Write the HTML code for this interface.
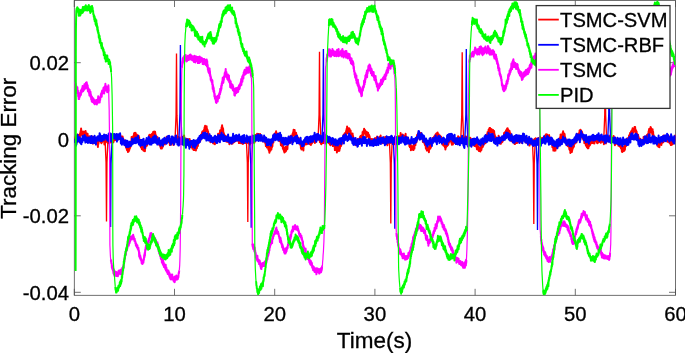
<!DOCTYPE html>
<html><head><meta charset="utf-8"><title>Tracking Error</title>
<style>html,body{margin:0;padding:0;background:#fff;overflow:hidden}svg{display:block}</style>
</head><body>
<svg width="685" height="353" viewBox="0 0 685 353">
<rect x="0" y="0" width="685" height="353" fill="#fff"/>
<defs><clipPath id="c"><rect x="74.3" y="0.5" width="601.2" height="294.8"/></clipPath></defs>
<g stroke="#4d4d4d" stroke-width="0.8" fill="none">
<rect x="74.3" y="0.5" width="601.2" height="294.8"/>
<line x1="74.3" y1="295.3" x2="74.3" y2="288.8"/>
<line x1="74.3" y1="0.5" x2="74.3" y2="7.0"/>
<line x1="174.5" y1="295.3" x2="174.5" y2="288.8"/>
<line x1="174.5" y1="0.5" x2="174.5" y2="7.0"/>
<line x1="274.7" y1="295.3" x2="274.7" y2="288.8"/>
<line x1="274.7" y1="0.5" x2="274.7" y2="7.0"/>
<line x1="374.9" y1="295.3" x2="374.9" y2="288.8"/>
<line x1="374.9" y1="0.5" x2="374.9" y2="7.0"/>
<line x1="475.1" y1="295.3" x2="475.1" y2="288.8"/>
<line x1="475.1" y1="0.5" x2="475.1" y2="7.0"/>
<line x1="575.3" y1="295.3" x2="575.3" y2="288.8"/>
<line x1="575.3" y1="0.5" x2="575.3" y2="7.0"/>
<line x1="675.5" y1="295.3" x2="675.5" y2="288.8"/>
<line x1="675.5" y1="0.5" x2="675.5" y2="7.0"/>
<line x1="74.3" y1="62.7" x2="80.8" y2="62.7"/>
<line x1="675.5" y1="62.7" x2="669.0" y2="62.7"/>
<line x1="74.3" y1="139.5" x2="80.8" y2="139.5"/>
<line x1="675.5" y1="139.5" x2="669.0" y2="139.5"/>
<line x1="74.3" y1="215.8" x2="80.8" y2="215.8"/>
<line x1="675.5" y1="215.8" x2="669.0" y2="215.8"/>
<line x1="74.3" y1="292.3" x2="80.8" y2="292.3"/>
<line x1="675.5" y1="292.3" x2="669.0" y2="292.3"/>
</g>
<g clip-path="url(#c)" fill="none" stroke-width="2.0" stroke-linejoin="round" stroke-linecap="butt">
<polyline stroke="#ff0000" points="74.9,142.2 75.1,137.3 75.4,142.4 75.6,136.6 75.9,141.9 76.1,137.0 76.4,139.4 76.6,137.1 76.9,140.4 77.1,135.5 77.4,140.8 77.6,134.6 77.9,140.8 78.1,138.5 78.4,141.6 78.6,135.2 78.9,139.5 79.1,137.4 79.4,139.9 79.6,135.1 79.9,138.6 80.1,133.3 80.4,135.2 80.6,131.0 80.9,133.2 81.1,128.5 81.4,132.8 81.6,131.5 81.9,133.6 82.1,132.0 82.4,135.6 82.6,133.2 82.9,136.0 83.1,131.6 83.4,135.9 83.6,132.0 83.9,134.6 84.1,132.1 84.4,137.0 84.6,131.7 84.9,137.4 85.1,132.9 85.4,137.6 85.6,131.1 85.9,136.7 86.1,133.2 86.4,137.7 86.6,134.3 86.9,136.8 87.1,133.8 87.4,140.3 87.6,133.7 87.9,138.9 88.1,137.6 88.4,140.4 88.6,138.9 88.9,140.5 89.1,138.6 89.4,142.2 89.6,136.3 89.9,140.4 90.1,136.6 90.4,140.2 90.6,138.9 90.9,142.9 91.1,139.7 91.4,140.9 91.6,138.2 91.9,143.1 92.1,136.5 92.4,141.1 92.6,138.0 92.9,143.6 93.1,139.8 93.4,141.0 93.6,137.1 93.9,141.7 94.1,138.7 94.4,142.8 94.6,137.5 94.9,142.3 95.1,138.6 95.4,141.1 95.6,138.2 95.9,139.7 96.1,137.7 96.4,140.6 96.6,139.5 96.9,143.4 97.1,140.4 97.4,143.7 97.6,141.7 97.9,147.0 98.1,140.6 98.4,143.9 98.6,140.1 98.9,141.7 99.1,138.8 99.4,139.3 99.6,137.8 99.9,140.8 100.1,137.7 100.4,141.4 100.6,138.0 100.9,142.1 101.1,139.3 101.4,143.2 101.6,138.9 101.9,142.5 102.1,138.6 102.4,141.4 102.6,138.0 102.9,140.8 103.1,138.8 103.4,140.8 103.6,138.2 103.9,141.1 104.1,138.1 104.4,144.4 104.6,139.4 104.9,144.0 105.1,140.5 105.4,142.4 105.6,137.1 105.9,140.5 106.1,136.9 106.4,139.0 106.6,135.5 106.9,141.3 107.1,137.0 107.4,142.1 107.6,139.4 107.9,143.3 108.1,138.2 108.4,141.9 108.6,140.0 108.9,141.4 109.1,138.4 109.4,140.6 109.6,137.4 109.9,142.8 110.1,138.7 110.4,141.5 110.6,139.6 110.9,141.8 111.1,139.9 111.4,141.4 111.6,137.9 111.9,141.2 112.1,137.2 112.4,142.2 112.6,139.2 112.9,142.4 113.1,140.0 113.4,142.3 113.6,138.3 113.9,140.6 114.1,136.0 114.4,140.3 114.6,137.0 114.9,139.9 115.1,137.5 115.4,140.0 115.6,136.2 115.9,138.1 116.1,136.1 116.4,138.6 116.6,134.6 116.9,138.3 117.1,135.7 117.4,138.9 117.6,135.7 117.9,139.2 118.1,135.7 118.4,139.2 118.6,136.2 118.9,138.2 119.1,134.8 119.4,138.9 119.6,134.4 119.9,138.0 120.1,134.1 120.4,138.8 120.6,136.6 120.9,139.8 121.1,137.0 121.4,140.8 121.6,136.5 121.9,139.5 122.1,137.3 122.4,140.4 122.6,136.5 122.9,142.0 123.1,138.4 123.4,142.4 123.6,139.4 123.9,143.5 124.1,140.2 124.4,142.9 124.6,141.4 124.9,144.0 125.1,141.1 125.4,145.8 125.6,142.6 125.9,146.9 126.1,143.0 126.4,148.2 126.6,146.7 126.9,149.9 127.1,146.5 127.4,149.8 127.6,147.4 127.9,152.0 128.1,148.7 128.4,151.6 128.6,149.2 128.9,150.9 129.1,147.5 129.4,149.8 129.6,146.2 129.9,148.3 130.1,144.8 130.4,147.0 130.6,142.9 130.9,145.7 131.1,141.3 131.4,144.1 131.6,136.9 131.9,140.4 132.1,137.5 132.4,140.3 132.6,137.6 132.9,138.8 133.1,136.6 133.4,138.8 133.6,135.5 133.9,137.8 134.1,133.2 134.4,135.9 134.6,133.2 134.9,136.5 135.1,132.7 135.4,135.7 135.6,132.9 135.9,137.3 136.1,134.2 136.4,136.0 136.6,134.5 136.9,138.0 137.1,135.0 137.4,137.0 137.6,135.6 137.9,139.4 138.1,136.9 138.4,139.6 138.6,135.8 138.9,140.0 139.1,137.2 139.4,141.1 139.6,139.5 139.9,143.6 140.1,140.4 140.4,143.9 140.6,143.1 140.9,147.3 141.1,144.9 141.4,147.9 141.6,143.3 141.9,149.3 142.1,145.0 142.4,149.4 142.6,147.7 142.9,149.4 143.1,148.2 143.4,150.4 143.6,148.1 143.9,150.8 144.1,146.7 144.4,150.5 144.6,145.2 144.9,151.3 145.1,146.4 145.4,148.1 145.6,145.3 145.9,146.4 146.1,144.1 146.4,145.1 146.6,140.1 146.9,145.8 147.1,140.0 147.4,144.6 147.6,140.1 147.9,143.0 148.1,139.6 148.4,141.7 148.6,138.9 148.9,140.5 149.1,135.3 149.4,140.3 149.6,134.8 149.9,139.0 150.1,136.4 150.4,140.9 150.6,136.7 150.9,137.7 151.1,134.8 151.4,138.0 151.6,134.3 151.9,137.9 152.1,133.8 152.4,137.6 152.6,134.6 152.9,137.2 153.1,132.1 153.4,135.3 153.6,132.8 153.9,135.4 154.1,131.6 154.4,133.3 154.6,131.7 154.9,136.1 155.1,131.8 155.4,135.4 155.6,134.5 155.9,138.6 156.1,136.0 156.4,138.9 156.6,136.5 156.9,139.8 157.1,137.1 157.4,140.8 157.6,137.2 157.9,142.2 158.1,140.2 158.4,142.8 158.6,139.8 158.9,143.7 159.1,141.7 159.4,145.1 159.6,142.2 159.9,144.9 160.1,141.8 160.4,147.0 160.6,142.5 160.9,148.5 161.1,144.5 161.4,148.2 161.6,145.9 161.9,148.4 162.1,145.0 162.4,147.5 162.6,143.3 162.9,146.4 163.1,140.6 163.4,144.2 163.6,141.9 163.9,144.3 164.1,140.9 164.4,142.4 164.6,139.8 164.9,144.5 165.1,139.8 165.4,141.9 165.6,139.5 165.9,141.9 166.1,138.2 166.4,141.1 166.6,136.8 166.9,142.0 167.1,137.5 167.4,141.5 167.6,138.3 167.9,141.5 168.1,139.4 168.4,141.2 168.6,139.9 168.9,142.2 169.1,140.1 169.4,142.9 169.6,140.5 169.9,145.1 170.1,140.5 170.4,144.5 170.6,140.5 170.9,144.6 171.1,140.6 171.4,143.3 171.6,139.3 171.9,143.2 172.1,139.9 172.4,142.3 172.6,138.5 172.9,142.2 173.1,140.3 173.4,145.0 173.6,140.4 173.9,144.6 174.1,139.1 174.4,141.9 174.6,138.4 174.9,141.0 175.1,137.8 175.4,141.6 175.6,137.1 175.9,141.5 176.1,137.0 176.4,139.6 176.6,138.1 176.9,139.9 177.1,137.3 177.4,140.0 177.6,137.4 177.9,139.9 178.1,137.0 178.4,140.1 178.6,136.9 178.9,140.6 179.1,138.0 179.4,140.6 179.6,138.0 179.9,141.2 180.1,139.2 180.4,141.2 180.6,138.2 180.9,143.0 181.1,138.4 181.4,141.3 181.6,136.6 181.9,140.7 182.1,136.7 182.4,140.7 182.6,138.9 182.9,141.0 183.1,138.5 183.4,140.3 183.6,136.7 183.9,139.1 184.1,135.6 184.4,140.0 184.6,139.1 184.9,143.9 185.1,140.0 185.4,145.7 185.6,139.9 185.9,144.3 186.1,139.7 186.4,144.2 186.6,138.8 186.9,142.1 187.1,139.8 187.4,143.0 187.6,140.0 187.9,143.3 188.1,139.3 188.4,142.5 188.6,140.1 188.9,144.8 189.1,141.5 189.4,143.5 189.6,139.1 189.9,146.2 190.1,140.5 190.4,145.0 190.6,142.0 190.9,147.0 191.1,143.4 191.4,146.4 191.6,143.6 191.9,147.3 192.1,143.8 192.4,148.6 192.6,145.3 192.9,148.5 193.1,147.4 193.4,149.7 193.6,147.6 193.9,150.1 194.1,147.1 194.4,149.4 194.6,147.1 194.9,150.0 195.1,146.1 195.4,148.5 195.6,145.8 195.9,150.5 196.1,146.4 196.4,148.8 196.6,145.6 196.9,148.1 197.1,145.0 197.4,146.0 197.6,141.5 197.9,145.9 198.1,140.9 198.4,143.2 198.6,140.2 198.9,142.8 199.1,139.5 199.4,142.0 199.6,138.1 199.9,141.5 200.1,137.7 200.4,140.8 200.6,135.6 200.9,139.0 201.1,134.5 201.4,137.6 201.6,134.4 201.9,135.5 202.1,132.0 202.4,135.0 202.6,131.3 202.9,134.9 203.1,132.2 203.4,136.3 203.6,131.9 203.9,131.8 204.1,129.6 204.4,131.0 204.6,127.3 204.9,131.4 205.1,125.8 205.4,130.6 205.6,128.3 205.9,131.4 206.1,128.2 206.4,131.1 206.6,126.2 206.9,131.5 207.1,129.0 207.4,131.6 207.6,130.1 207.9,134.1 208.1,131.6 208.4,138.5 208.6,133.6 208.9,137.8 209.1,135.7 209.4,138.4 209.6,135.7 209.9,138.5 210.1,135.8 210.4,142.3 210.6,137.2 210.9,139.9 211.1,137.6 211.4,140.9 211.6,137.5 211.9,140.0 212.1,138.7 212.4,141.4 212.6,139.0 212.9,142.8 213.1,140.0 213.4,143.4 213.6,139.5 213.9,142.0 214.1,139.5 214.4,142.6 214.6,140.7 214.9,144.2 215.1,139.7 215.4,143.0 215.6,137.3 215.9,142.1 216.1,136.8 216.4,141.7 216.6,138.9 216.9,141.9 217.1,137.2 217.4,139.5 217.6,137.2 217.9,138.1 218.1,133.7 218.4,138.1 218.6,135.0 218.9,137.5 219.1,134.8 219.4,137.8 219.6,133.3 219.9,135.3 220.1,130.4 220.4,134.2 220.6,130.1 220.9,133.0 221.1,130.5 221.4,132.0 221.6,127.3 221.9,131.2 222.1,125.2 222.4,130.5 222.6,127.4 222.9,131.5 223.1,128.7 223.4,134.5 223.6,132.5 223.9,137.0 224.1,134.0 224.4,138.6 224.6,136.4 224.9,139.2 225.1,136.4 225.4,140.1 225.6,135.8 225.9,139.9 226.1,138.2 226.4,141.6 226.6,137.4 226.9,141.8 227.1,139.0 227.4,141.8 227.6,138.5 227.9,140.3 228.1,139.1 228.4,141.9 228.6,139.7 228.9,142.2 229.1,138.4 229.4,144.2 229.6,141.1 229.9,142.4 230.1,139.9 230.4,141.0 230.6,139.3 230.9,142.9 231.1,138.2 231.4,141.9 231.6,139.7 231.9,143.7 232.1,141.0 232.4,143.6 232.6,141.2 232.9,142.1 233.1,140.2 233.4,142.4 233.6,137.7 233.9,142.3 234.1,137.1 234.4,140.6 234.6,137.8 234.9,141.5 235.1,137.0 235.4,139.8 235.6,138.5 235.9,141.0 236.1,138.0 236.4,139.7 236.6,136.1 236.9,140.3 237.1,136.4 237.4,138.5 237.6,136.8 237.9,140.6 238.1,136.5 238.4,140.8 238.6,138.3 238.9,143.1 239.1,138.4 239.4,142.9 239.6,139.3 239.9,142.9 240.1,138.6 240.4,142.2 240.6,140.6 240.9,143.0 241.1,139.7 241.4,143.3 241.6,140.8 241.9,143.3 242.1,141.1 242.4,142.8 242.6,140.5 242.9,144.0 243.1,140.1 243.4,142.9 243.6,137.1 243.9,141.5 244.1,139.1 244.4,142.2 244.6,139.3 244.9,143.0 245.1,139.1 245.4,142.9 245.6,140.1 245.9,142.1 246.1,138.4 246.4,141.6 246.6,138.2 246.9,142.5 247.1,138.8 247.4,141.6 247.6,140.4 247.9,142.6 248.1,139.3 248.4,143.2 248.6,140.2 248.9,142.9 249.1,138.5 249.4,143.9 249.6,140.6 249.9,144.6 250.1,138.4 250.4,141.3 250.6,139.4 250.9,142.9 251.1,137.3 251.4,141.4 251.6,139.5 251.9,142.5 252.1,138.7 252.4,142.8 252.6,139.2 252.9,142.4 253.1,138.5 253.4,140.6 253.6,136.7 253.9,139.8 254.1,135.9 254.4,142.7 254.6,136.9 254.9,141.6 255.1,135.1 255.4,139.4 255.6,136.8 255.9,138.7 256.1,135.0 256.4,139.8 256.6,134.5 256.9,137.8 257.1,133.7 257.4,137.8 257.6,135.0 257.9,136.2 258.1,134.0 258.4,137.4 258.6,133.9 258.9,138.0 259.1,134.8 259.4,139.3 259.6,134.2 259.9,138.1 260.1,133.9 260.4,137.9 260.6,135.9 260.9,138.9 261.1,135.8 261.4,139.6 261.6,136.2 261.9,138.9 262.1,138.1 262.4,140.4 262.6,138.5 262.9,141.5 263.1,138.1 263.4,140.9 263.6,138.7 263.9,141.4 264.1,137.6 264.4,140.7 264.6,138.4 264.9,141.3 265.1,138.3 265.4,143.7 265.6,141.1 265.9,146.1 266.1,141.7 266.4,145.1 266.6,143.4 266.9,147.5 267.1,143.1 267.4,145.5 267.6,143.9 267.9,146.9 268.1,144.6 268.4,149.4 268.6,146.9 268.9,150.7 269.1,148.6 269.4,152.7 269.6,148.6 269.9,150.5 270.1,146.4 270.4,150.7 270.6,146.8 270.9,149.2 271.1,146.2 271.4,149.5 271.6,146.2 271.9,147.5 272.1,144.6 272.4,146.2 272.6,142.0 272.9,142.4 273.1,137.8 273.4,142.5 273.6,135.4 273.9,138.7 274.1,134.2 274.4,136.1 274.6,134.4 274.9,136.8 275.1,133.2 275.4,136.3 275.6,133.5 275.9,136.3 276.1,131.3 276.4,136.1 276.6,134.8 276.9,137.1 277.1,134.5 277.4,137.8 277.6,133.7 277.9,138.2 278.1,133.4 278.4,137.9 278.6,136.3 278.9,140.6 279.1,137.7 279.4,140.9 279.6,138.7 279.9,140.9 280.1,139.2 280.4,141.5 280.6,138.9 280.9,145.2 281.1,139.6 281.4,143.7 281.6,142.5 281.9,146.0 282.1,142.1 282.4,145.4 282.6,143.3 282.9,148.8 283.1,146.2 283.4,149.3 283.6,147.7 283.9,150.8 284.1,148.6 284.4,152.4 284.6,148.1 284.9,150.9 285.1,148.7 285.4,151.8 285.6,146.7 285.9,151.1 286.1,148.9 286.4,150.2 286.6,147.5 286.9,149.3 287.1,147.1 287.4,149.0 287.6,144.3 287.9,144.5 288.1,140.3 288.4,144.2 288.6,141.4 288.9,142.5 289.1,139.3 289.4,141.6 289.6,139.5 289.9,141.3 290.1,138.5 290.4,140.7 290.6,135.8 290.9,142.6 291.1,138.0 291.4,140.0 291.6,136.2 291.9,140.2 292.1,135.3 292.4,139.1 292.6,133.7 292.9,134.9 293.1,132.3 293.4,133.0 293.6,129.7 293.9,132.4 294.1,130.2 294.4,135.7 294.6,129.9 294.9,134.9 295.1,133.0 295.4,135.6 295.6,132.4 295.9,135.4 296.1,132.7 296.4,138.3 296.6,134.8 296.9,138.6 297.1,136.8 297.4,140.5 297.6,137.0 297.9,140.2 298.1,138.3 298.4,141.3 298.6,138.0 298.9,142.7 299.1,140.7 299.4,143.7 299.6,140.4 299.9,143.6 300.1,142.5 300.4,145.2 300.6,143.8 300.9,148.3 301.1,143.2 301.4,149.5 301.6,145.8 301.9,149.1 302.1,143.4 302.4,147.2 302.6,144.5 302.9,148.7 303.1,143.4 303.4,150.5 303.6,143.2 303.9,146.2 304.1,143.6 304.4,144.4 304.6,139.8 304.9,142.7 305.1,139.6 305.4,144.6 305.6,139.3 305.9,141.8 306.1,141.0 306.4,142.7 306.6,139.0 306.9,144.2 307.1,139.4 307.4,143.8 307.6,139.2 307.9,140.9 308.1,139.1 308.4,141.6 308.6,139.7 308.9,142.3 309.1,138.6 309.4,141.8 309.6,139.5 309.9,144.2 310.1,139.0 310.4,144.4 310.6,141.5 310.9,145.0 311.1,142.6 311.4,143.9 311.6,142.0 311.9,143.4 312.1,140.4 312.4,141.7 312.6,138.3 312.9,141.2 313.1,138.8 313.4,140.9 313.6,137.5 313.9,141.7 314.1,139.1 314.4,142.0 314.6,138.4 314.9,143.0 315.1,139.0 315.4,140.6 315.6,137.9 315.9,141.7 316.1,138.1 316.4,139.8 316.6,137.1 316.9,140.0 317.1,136.6 317.4,138.6 317.6,134.6 317.9,138.9 318.1,135.8 318.4,139.5 318.6,136.7 318.9,139.5 319.1,137.2 319.4,139.3 319.6,137.9 319.9,142.1 320.1,138.6 320.4,140.9 320.6,136.7 320.9,143.7 321.1,139.9 321.4,144.3 321.6,137.8 321.9,143.3 322.1,140.4 322.4,142.8 322.6,138.7 322.9,142.3 323.1,138.4 323.4,143.1 323.6,136.2 323.9,139.4 324.1,137.2 324.4,141.0 324.6,137.1 324.9,141.2 325.1,137.7 325.4,141.8 325.6,138.0 325.9,140.8 326.1,139.7 326.4,141.7 326.6,138.3 326.9,139.8 327.1,138.2 327.4,142.0 327.6,139.2 327.9,141.5 328.1,139.8 328.4,142.6 328.6,141.2 328.9,143.2 329.1,140.5 329.4,142.8 329.6,141.6 329.9,144.4 330.1,141.2 330.4,145.2 330.6,139.9 330.9,144.8 331.1,140.5 331.4,144.2 331.6,141.3 331.9,143.6 332.1,141.5 332.4,144.7 332.6,140.9 332.9,146.1 333.1,143.0 333.4,144.4 333.6,142.4 333.9,146.0 334.1,143.2 334.4,146.3 334.6,144.6 334.9,150.1 335.1,146.9 335.4,149.9 335.6,147.8 335.9,149.6 336.1,145.7 336.4,149.7 336.6,146.1 336.9,152.5 337.1,146.5 337.4,150.6 337.6,148.8 337.9,150.7 338.1,146.7 338.4,149.6 338.6,147.7 338.9,151.0 339.1,146.1 339.4,150.8 339.6,146.7 339.9,148.7 340.1,144.3 340.4,146.2 340.6,142.3 340.9,146.2 341.1,141.5 341.4,144.9 341.6,139.3 341.9,143.7 342.1,139.9 342.4,141.5 342.6,139.0 342.9,142.0 343.1,137.4 343.4,139.5 343.6,134.8 343.9,137.8 344.1,134.5 344.4,137.4 344.6,133.6 344.9,135.9 345.1,132.9 345.4,135.4 345.6,132.8 345.9,136.1 346.1,131.0 346.4,132.9 346.6,128.9 346.9,133.0 347.1,126.6 347.4,129.5 347.6,127.8 347.9,133.5 348.1,128.2 348.4,131.2 348.6,128.6 348.9,131.5 349.1,128.2 349.4,131.4 349.6,129.0 349.9,131.3 350.1,130.3 350.4,134.3 350.6,130.4 350.9,135.1 351.1,133.6 351.4,137.9 351.6,134.8 351.9,137.5 352.1,135.7 352.4,140.2 352.6,133.5 352.9,138.7 353.1,136.1 353.4,140.2 353.6,138.4 353.9,141.6 354.1,139.6 354.4,142.0 354.6,138.8 354.9,142.2 355.1,140.5 355.4,141.2 355.6,140.0 355.9,145.3 356.1,141.2 356.4,143.5 356.6,141.4 356.9,145.0 357.1,140.5 357.4,141.8 357.6,139.0 357.9,143.3 358.1,139.5 358.4,141.4 358.6,140.1 358.9,142.2 359.1,140.7 359.4,141.6 359.6,138.2 359.9,142.5 360.1,136.7 360.4,141.0 360.6,135.9 360.9,138.7 361.1,137.3 361.4,138.7 361.6,135.2 361.9,139.2 362.1,135.8 362.4,137.9 362.6,132.1 362.9,135.1 363.1,131.8 363.4,135.5 363.6,130.7 363.9,132.1 364.1,128.7 364.4,132.2 364.6,129.7 364.9,132.4 365.1,130.2 365.4,133.6 365.6,131.9 365.9,134.9 366.1,132.6 366.4,137.3 366.6,131.8 366.9,135.3 367.1,132.2 367.4,135.1 367.6,132.4 367.9,135.1 368.1,132.8 368.4,136.7 368.6,134.6 368.9,139.0 369.1,134.9 369.4,138.5 369.6,136.3 369.9,140.3 370.1,138.6 370.4,141.5 370.6,138.7 370.9,142.3 371.1,141.2 371.4,144.5 371.6,140.9 371.9,144.3 372.1,139.1 372.4,144.2 372.6,141.5 372.9,144.8 373.1,140.1 373.4,144.0 373.6,140.8 373.9,145.3 374.1,142.2 374.4,145.0 374.6,139.1 374.9,142.8 375.1,138.0 375.4,142.0 375.6,140.3 375.9,144.7 376.1,140.0 376.4,142.7 376.6,139.1 376.9,139.3 377.1,136.6 377.4,139.6 377.6,137.4 377.9,139.3 378.1,138.0 378.4,141.0 378.6,138.6 378.9,141.6 379.1,138.2 379.4,139.5 379.6,137.0 379.9,140.6 380.1,137.0 380.4,138.9 380.6,135.6 380.9,142.0 381.1,138.6 381.4,142.0 381.6,139.0 381.9,141.7 382.1,138.1 382.4,142.2 382.6,138.0 382.9,143.2 383.1,137.8 383.4,141.7 383.6,139.1 383.9,141.0 384.1,137.2 384.4,142.0 384.6,139.5 384.9,140.7 385.1,138.0 385.4,142.8 385.6,137.1 385.9,143.5 386.1,137.7 386.4,143.5 386.6,140.7 386.9,144.1 387.1,142.1 387.4,145.3 387.6,140.9 387.9,143.6 388.1,139.2 388.4,141.5 388.6,137.9 388.9,140.5 389.1,138.7 389.4,140.8 389.6,138.7 389.9,141.9 390.1,138.9 390.4,141.6 390.6,138.7 390.9,142.9 391.1,139.6 391.4,142.0 391.6,138.9 391.9,142.0 392.1,136.9 392.4,142.1 392.6,138.9 392.9,142.5 393.1,138.7 393.4,142.0 393.6,138.8 393.9,142.0 394.1,140.0 394.4,144.3 394.6,140.3 394.9,142.1 395.1,139.7 395.4,141.7 395.6,137.7 395.9,142.7 396.1,138.6 396.4,142.0 396.6,138.6 396.9,141.3 397.1,139.0 397.4,139.6 397.6,137.5 397.9,140.0 398.1,136.4 398.4,139.2 398.6,136.3 398.9,140.6 399.1,138.1 399.4,140.5 399.6,136.5 399.9,140.5 400.1,136.0 400.4,137.9 400.6,133.0 400.9,136.8 401.1,134.7 401.4,139.0 401.6,135.4 401.9,137.7 402.1,135.2 402.4,139.8 402.6,134.5 402.9,138.4 403.1,135.0 403.4,139.8 403.6,136.2 403.9,140.6 404.1,137.2 404.4,139.3 404.6,135.8 404.9,137.9 405.1,135.2 405.4,137.8 405.6,133.7 405.9,140.3 406.1,137.1 406.4,139.8 406.6,138.4 406.9,142.5 407.1,137.2 407.4,143.0 407.6,139.2 407.9,141.6 408.1,139.1 408.4,140.5 408.6,139.6 408.9,143.5 409.1,140.5 409.4,146.1 409.6,141.9 409.9,147.1 410.1,143.7 410.4,146.9 410.6,144.3 410.9,150.3 411.1,145.9 411.4,149.1 411.6,146.9 411.9,149.4 412.1,146.2 412.4,149.4 412.6,147.5 412.9,149.3 413.1,146.8 413.4,150.1 413.6,145.3 413.9,149.0 414.1,143.6 414.4,148.6 414.6,144.2 414.9,145.2 415.1,142.5 415.4,145.1 415.6,140.4 415.9,142.6 416.1,139.1 416.4,142.3 416.6,137.5 416.9,139.6 417.1,135.0 417.4,139.4 417.6,134.4 417.9,138.4 418.1,133.8 418.4,136.0 418.6,132.0 418.9,135.8 419.1,133.2 419.4,136.3 419.6,133.0 419.9,134.8 420.1,133.0 420.4,137.7 420.6,133.9 420.9,136.6 421.1,133.1 421.4,137.9 421.6,134.5 421.9,138.6 422.1,135.6 422.4,139.0 422.6,138.1 422.9,142.0 423.1,138.0 423.4,140.9 423.6,138.5 423.9,142.1 424.1,137.4 424.4,143.5 424.6,142.3 424.9,144.8 425.1,142.8 425.4,145.7 425.6,144.6 425.9,148.8 426.1,145.4 426.4,148.9 426.6,147.1 426.9,150.6 427.1,146.6 427.4,150.1 427.6,147.7 427.9,150.1 428.1,148.3 428.4,150.2 428.6,148.5 428.9,152.2 429.1,146.8 429.4,149.4 429.6,145.6 429.9,147.8 430.1,145.7 430.4,148.5 430.6,143.3 430.9,147.5 431.1,143.5 431.4,144.4 431.6,140.8 431.9,143.2 432.1,139.3 432.4,141.5 432.6,138.0 432.9,141.7 433.1,138.5 433.4,140.6 433.6,138.2 433.9,139.8 434.1,136.5 434.4,139.3 434.6,136.2 434.9,138.0 435.1,135.3 435.4,137.0 435.6,134.6 435.9,137.1 436.1,133.7 436.4,138.8 436.6,133.2 436.9,135.2 437.1,132.9 437.4,134.9 437.6,132.4 437.9,136.4 438.1,134.3 438.4,136.6 438.6,134.2 438.9,136.5 439.1,135.0 439.4,137.3 439.6,135.2 439.9,138.7 440.1,136.2 440.4,140.8 440.6,136.3 440.9,141.5 441.1,136.8 441.4,141.9 441.6,138.8 441.9,141.9 442.1,141.1 442.4,144.5 442.6,141.5 442.9,143.5 443.1,141.3 443.4,145.5 443.6,141.6 443.9,144.6 444.1,143.0 444.4,146.2 444.6,144.9 444.9,147.5 445.1,144.5 445.4,149.4 445.6,145.0 445.9,147.8 446.1,143.9 446.4,145.8 446.6,142.7 446.9,146.3 447.1,140.1 447.4,143.8 447.6,140.7 447.9,145.2 448.1,141.4 448.4,144.1 448.6,138.4 448.9,142.6 449.1,139.4 449.4,141.1 449.6,136.5 449.9,141.2 450.1,136.0 450.4,139.6 450.6,136.7 450.9,141.1 451.1,139.0 451.4,142.8 451.6,140.0 451.9,144.7 452.1,140.1 452.4,141.7 452.6,139.4 452.9,144.4 453.1,137.8 453.4,142.0 453.6,140.3 453.9,142.6 454.1,140.7 454.4,142.6 454.6,138.9 454.9,142.9 455.1,139.0 455.4,142.9 455.6,139.9 455.9,142.3 456.1,138.7 456.4,144.1 456.6,138.6 456.9,142.4 457.1,139.3 457.4,142.0 457.6,138.9 457.9,140.5 458.1,136.3 458.4,140.8 458.6,137.5 458.9,140.7 459.1,137.3 459.4,141.0 459.6,140.0 459.9,141.7 460.1,138.3 460.4,142.8 460.6,137.7 460.9,141.3 461.1,137.9 461.4,141.6 461.6,138.0 461.9,143.3 462.1,137.6 462.4,141.9 462.6,138.2 462.9,142.0 463.1,138.1 463.4,141.9 463.6,138.1 463.9,141.1 464.1,138.2 464.4,140.5 464.6,137.8 464.9,141.9 465.1,137.8 465.4,140.1 465.6,136.6 465.9,139.8 466.1,138.1 466.4,140.4 466.6,136.7 466.9,141.1 467.1,139.1 467.4,143.4 467.6,137.6 467.9,142.0 468.1,135.5 468.4,140.4 468.6,137.7 468.9,139.2 469.1,137.9 469.4,142.0 469.6,138.1 469.9,139.9 470.1,137.7 470.4,141.7 470.6,138.3 470.9,142.9 471.1,140.4 471.4,145.9 471.6,140.5 471.9,144.3 472.1,140.2 472.4,144.8 472.6,139.1 472.9,141.7 473.1,140.1 473.4,143.9 473.6,141.4 473.9,144.1 474.1,140.1 474.4,145.9 474.6,142.5 474.9,144.0 475.1,141.2 475.4,144.5 475.6,142.2 475.9,146.5 476.1,143.2 476.4,145.9 476.6,143.9 476.9,149.2 477.1,143.8 477.4,149.4 477.6,145.0 477.9,149.0 478.1,146.4 478.4,149.5 478.6,148.5 478.9,150.9 479.1,147.3 479.4,150.7 479.6,147.5 479.9,150.4 480.1,147.9 480.4,151.4 480.6,147.4 480.9,150.2 481.1,146.9 481.4,150.0 481.6,146.9 481.9,147.9 482.1,144.1 482.4,147.1 482.6,143.7 482.9,146.7 483.1,143.1 483.4,145.4 483.6,142.8 483.9,144.3 484.1,138.9 484.4,142.9 484.6,139.1 484.9,142.0 485.1,137.4 485.4,143.3 485.6,137.7 485.9,142.0 486.1,137.0 486.4,138.8 486.6,134.9 486.9,138.6 487.1,134.1 487.4,136.6 487.6,132.1 487.9,135.2 488.1,131.9 488.4,134.4 488.6,129.8 488.9,133.3 489.1,128.9 489.4,131.6 489.6,127.9 489.9,131.8 490.1,128.1 490.4,132.2 490.6,128.8 490.9,132.5 491.1,129.3 491.4,132.4 491.6,129.2 491.9,132.6 492.1,130.6 492.4,132.1 492.6,130.2 492.9,133.7 493.1,130.0 493.4,133.0 493.6,131.3 493.9,134.9 494.1,130.9 494.4,135.7 494.6,134.3 494.9,139.2 495.1,136.1 495.4,139.3 495.6,136.8 495.9,141.2 496.1,138.3 496.4,141.4 496.6,140.2 496.9,142.0 497.1,139.5 497.4,142.5 497.6,139.3 497.9,141.4 498.1,138.0 498.4,139.7 498.6,135.8 498.9,142.3 499.1,138.1 499.4,141.4 499.6,140.7 499.9,143.4 500.1,140.4 500.4,143.8 500.6,139.7 500.9,143.7 501.1,137.9 501.4,142.8 501.6,138.9 501.9,142.0 502.1,140.2 502.4,141.9 502.6,138.7 502.9,140.7 503.1,137.4 503.4,139.9 503.6,135.8 503.9,137.6 504.1,132.9 504.4,137.7 504.6,133.9 504.9,135.4 505.1,132.1 505.4,134.3 505.6,131.7 505.9,131.7 506.1,130.2 506.4,133.5 506.6,130.0 506.9,134.3 507.1,128.5 507.4,133.5 507.6,128.2 507.9,131.5 508.1,129.4 508.4,130.9 508.6,130.1 508.9,134.0 509.1,131.4 509.4,134.1 509.6,131.0 509.9,136.0 510.1,133.1 510.4,137.7 510.6,133.4 510.9,138.2 511.1,135.2 511.4,141.3 511.6,136.6 511.9,139.2 512.1,138.8 512.4,139.6 512.6,136.8 512.9,141.3 513.1,137.5 513.4,141.6 513.6,136.8 513.9,142.7 514.1,139.4 514.4,143.6 514.6,141.5 514.9,144.1 515.1,139.3 515.4,143.1 515.6,140.1 515.9,143.1 516.1,140.0 516.4,143.0 516.6,138.5 516.9,143.0 517.1,140.2 517.4,142.7 517.6,140.2 517.9,141.9 518.1,138.7 518.4,141.7 518.6,138.4 518.9,140.8 519.1,136.0 519.4,139.7 519.6,135.7 519.9,138.5 520.1,136.0 520.4,138.7 520.6,137.4 520.9,140.4 521.1,137.4 521.4,142.7 521.6,136.6 521.9,139.9 522.1,136.7 522.4,140.0 522.6,136.2 522.9,138.5 523.1,134.1 523.4,140.5 523.6,136.9 523.9,139.1 524.1,137.3 524.4,140.2 524.6,136.7 524.9,140.9 525.1,138.1 525.4,141.8 525.6,137.0 525.9,142.2 526.1,139.6 526.4,142.7 526.6,139.5 526.9,142.2 527.1,138.1 527.4,143.2 527.6,139.2 527.9,141.6 528.1,138.9 528.4,140.9 528.6,138.4 528.9,142.7 529.1,141.2 529.4,145.6 529.6,141.6 529.9,144.6 530.1,139.5 530.4,143.2 530.6,139.4 530.9,143.5 531.1,140.8 531.4,141.9 531.6,139.3 531.9,142.6 532.1,141.1 532.4,144.0 532.6,140.6 532.9,144.3 533.1,141.6 533.4,143.9 533.6,140.2 533.9,142.6 534.1,139.6 534.4,141.1 534.6,140.0 534.9,142.2 535.1,138.7 535.4,143.1 535.6,138.3 535.9,144.8 536.1,139.1 536.4,143.0 536.6,139.4 536.9,141.6 537.1,139.2 537.4,140.8 537.6,138.5 537.9,141.9 538.1,138.6 538.4,141.4 538.6,138.1 538.9,141.7 539.1,138.6 539.4,141.4 539.6,138.2 539.9,140.9 540.1,136.8 540.4,140.9 540.6,137.7 540.9,140.3 541.1,138.8 541.4,142.2 541.6,139.9 541.9,140.7 542.1,138.3 542.4,141.8 542.6,138.6 542.9,141.2 543.1,137.7 543.4,140.0 543.6,137.9 543.9,140.6 544.1,136.7 544.4,139.9 544.6,137.4 544.9,139.0 545.1,135.4 545.4,139.4 545.6,135.4 545.9,137.3 546.1,134.2 546.4,136.7 546.6,134.8 546.9,139.3 547.1,134.6 547.4,137.0 547.6,135.4 547.9,140.2 548.1,135.9 548.4,139.7 548.6,136.1 548.9,139.3 549.1,135.1 549.4,140.1 549.6,137.0 549.9,139.3 550.1,137.8 550.4,141.5 550.6,138.6 550.9,141.1 551.1,140.0 551.4,142.4 551.6,141.1 551.9,143.1 552.1,141.4 552.4,147.1 552.6,142.7 552.9,147.7 553.1,144.2 553.4,150.6 553.6,147.1 553.9,150.0 554.1,146.8 554.4,150.7 554.6,147.1 554.9,149.7 555.1,147.2 555.4,150.6 555.6,146.0 555.9,148.7 556.1,146.7 556.4,148.5 556.6,145.0 556.9,146.5 557.1,143.3 557.4,146.1 557.6,144.1 557.9,145.3 558.1,144.2 558.4,146.4 558.6,143.4 558.9,144.6 559.1,139.8 559.4,142.9 559.6,139.0 559.9,142.2 560.1,137.2 560.4,140.9 560.6,134.4 560.9,138.5 561.1,135.9 561.4,138.3 561.6,135.5 561.9,137.5 562.1,134.5 562.4,136.9 562.6,133.1 562.9,134.7 563.1,131.3 563.4,134.2 563.6,132.9 563.9,137.8 564.1,134.1 564.4,139.7 564.6,134.0 564.9,139.0 565.1,137.1 565.4,140.6 565.6,138.5 565.9,140.9 566.1,140.1 566.4,144.5 566.6,140.2 566.9,144.4 567.1,141.6 567.4,145.6 567.6,141.6 567.9,146.3 568.1,142.1 568.4,145.4 568.6,142.8 568.9,146.9 569.1,146.6 569.4,149.4 569.6,147.4 569.9,150.2 570.1,148.0 570.4,152.9 570.6,147.3 570.9,151.1 571.1,146.9 571.4,151.2 571.6,147.5 571.9,152.0 572.1,148.2 572.4,150.0 572.6,147.4 572.9,148.2 573.1,144.0 573.4,146.8 573.6,143.2 573.9,146.7 574.1,140.0 574.4,143.8 574.6,140.5 574.9,143.6 575.1,140.0 575.4,142.5 575.6,138.7 575.9,142.1 576.1,138.7 576.4,142.5 576.6,138.1 576.9,140.3 577.1,136.7 577.4,140.1 577.6,136.3 577.9,138.2 578.1,133.8 578.4,136.6 578.6,133.8 578.9,136.5 579.1,133.2 579.4,134.7 579.6,130.4 579.9,136.8 580.1,131.6 580.4,133.9 580.6,129.7 580.9,133.9 581.1,131.0 581.4,136.9 581.6,131.2 581.9,135.6 582.1,132.1 582.4,138.5 582.6,134.5 582.9,137.9 583.1,136.2 583.4,139.6 583.6,137.6 583.9,140.3 584.1,139.0 584.4,143.2 584.6,137.8 584.9,142.1 585.1,138.5 585.4,143.5 585.6,140.8 585.9,145.6 586.1,143.4 586.4,145.6 586.6,143.8 586.9,147.1 587.1,142.7 587.4,147.6 587.6,145.1 587.9,148.3 588.1,143.5 588.4,148.2 588.6,143.8 588.9,146.4 589.1,142.5 589.4,145.8 589.6,141.7 589.9,145.1 590.1,142.8 590.4,144.0 590.6,139.7 590.9,143.2 591.1,140.7 591.4,143.2 591.6,140.4 591.9,143.0 592.1,140.0 592.4,142.2 592.6,140.1 592.9,141.9 593.1,138.8 593.4,143.2 593.6,137.8 593.9,141.8 594.1,138.4 594.4,143.5 594.6,139.9 594.9,141.5 595.1,140.2 595.4,141.2 595.6,138.7 595.9,140.3 596.1,137.0 596.4,140.6 596.6,138.4 596.9,142.6 597.1,138.5 597.4,143.2 597.6,140.3 597.9,142.7 598.1,138.6 598.4,142.3 598.6,138.1 598.9,142.2 599.1,137.9 599.4,139.7 599.6,137.3 599.9,141.1 600.1,139.3 600.4,141.2 600.6,139.1 600.9,142.8 601.1,139.0 601.4,141.0 601.6,137.1 601.9,140.6 602.1,138.1 602.4,140.9 602.6,137.8 602.9,141.9 603.1,137.5 603.4,142.1 603.6,139.7 603.9,144.3 604.1,139.7 604.4,141.8 604.6,138.8 604.9,142.1 605.1,139.4 605.4,141.3 605.6,138.3 605.9,143.4 606.1,139.7 606.4,142.0 606.6,138.7 606.9,140.4 607.1,138.4 607.4,140.5 607.6,137.0 607.9,139.5 608.1,138.2 608.4,140.1 608.6,137.0 608.9,139.0 609.1,136.7 609.4,140.1 609.6,136.9 609.9,139.5 610.1,135.6 610.4,138.5 610.6,135.9 610.9,139.8 611.1,137.3 611.4,142.3 611.6,137.6 611.9,140.9 612.1,139.3 612.4,141.7 612.6,137.7 612.9,140.4 613.1,138.5 613.4,142.2 613.6,136.1 613.9,142.0 614.1,138.2 614.4,142.8 614.6,140.3 614.9,145.3 615.1,140.4 615.4,144.1 615.6,137.9 615.9,143.5 616.1,141.5 616.4,143.1 616.6,139.4 616.9,143.4 617.1,141.3 617.4,143.0 617.6,140.6 617.9,144.1 618.1,139.6 618.4,145.7 618.6,142.5 618.9,144.9 619.1,143.4 619.4,145.1 619.6,143.4 619.9,146.1 620.1,142.7 620.4,147.2 620.6,144.2 620.9,148.1 621.1,145.2 621.4,148.9 621.6,144.9 621.9,151.7 622.1,146.8 622.4,151.9 622.6,146.7 622.9,149.4 623.1,147.1 623.4,150.6 623.6,147.3 623.9,151.0 624.1,148.7 624.4,150.4 624.6,145.9 624.9,149.7 625.1,145.2 625.4,146.6 625.6,143.1 625.9,146.1 626.1,143.3 626.4,145.4 626.6,141.7 626.9,145.0 627.1,140.2 627.4,144.1 627.6,138.3 627.9,140.8 628.1,138.2 628.4,141.1 628.6,138.0 628.9,139.8 629.1,135.2 629.4,138.9 629.6,136.2 629.9,138.2 630.1,132.9 630.4,136.4 630.6,134.1 630.9,137.1 631.1,131.2 631.4,135.6 631.6,131.1 631.9,132.5 632.1,129.9 632.4,134.1 632.6,128.3 632.9,132.8 633.1,130.1 633.4,132.5 633.6,128.7 633.9,130.9 634.1,128.6 634.4,131.3 634.6,126.9 634.9,131.4 635.1,126.9 635.4,131.8 635.6,129.6 635.9,133.3 636.1,130.5 636.4,134.6 636.6,131.5 636.9,136.5 637.1,133.7 637.4,139.0 637.6,134.8 637.9,138.5 638.1,134.8 638.4,140.1 638.6,136.9 638.9,142.0 639.1,138.9 639.4,141.5 639.6,138.9 639.9,140.7 640.1,138.7 640.4,143.3 640.6,139.2 640.9,144.2 641.1,141.6 641.4,144.5 641.6,141.0 641.9,144.7 642.1,140.8 642.4,142.8 642.6,140.2 642.9,142.8 643.1,140.1 643.4,142.7 643.6,136.9 643.9,140.5 644.1,138.5 644.4,140.7 644.6,138.5 644.9,140.4 645.1,136.5 645.4,142.6 645.6,138.5 645.9,140.2 646.1,136.6 646.4,140.6 646.6,136.0 646.9,140.1 647.1,134.8 647.4,137.0 647.6,134.9 647.9,136.8 648.1,133.7 648.4,136.2 648.6,131.3 648.9,133.8 649.1,129.1 649.4,132.7 649.6,129.3 649.9,133.0 650.1,128.6 650.4,130.5 650.6,127.1 650.9,131.2 651.1,128.1 651.4,131.5 651.6,130.2 651.9,133.0 652.1,130.0 652.4,134.8 652.6,129.3 652.9,136.7 653.1,131.8 653.4,137.3 653.6,135.0 653.9,138.1 654.1,136.9 654.4,139.1 654.6,137.5 654.9,141.5 655.1,138.6 655.4,141.4 655.6,138.4 655.9,141.0 656.1,139.1 656.4,142.7 656.6,138.9 656.9,141.2 657.1,140.5 657.4,145.8 657.6,138.9 657.9,144.2 658.1,142.9 658.4,146.7 658.6,142.9 658.9,146.5 659.1,142.8 659.4,147.3 659.6,142.0 659.9,143.8 660.1,140.1 660.4,142.0 660.6,138.4 660.9,142.2 661.1,140.3 661.4,144.9 661.6,140.6 661.9,143.1 662.1,140.6 662.4,142.3 662.6,139.3 662.9,140.7 663.1,137.6 663.4,142.2 663.6,135.5 663.9,140.0 664.1,136.0 664.4,138.7 664.6,135.9 664.9,139.4 665.1,136.7 665.4,141.0 665.6,136.2 665.9,140.7 666.1,138.0 666.4,140.8 666.6,136.5 666.9,139.3 667.1,137.8 667.4,141.7 667.6,138.8 667.9,141.7 668.1,139.2 668.4,141.5 668.6,138.5 668.9,141.1 669.1,136.6 669.4,142.7 669.6,139.1 669.9,143.4 670.1,139.7 670.4,143.2 670.6,139.6 670.9,145.1 671.1,141.1 671.4,143.9 671.6,140.4 671.9,144.7 672.1,140.8 672.4,142.4 672.6,140.4 672.9,143.9 673.1,139.7 673.4,142.0 673.6,139.2 673.9,142.2 674.1,138.1 674.4,141.2 674.6,138.2 674.9,140.1 675.1,135.6 675.4,139.7"/>
<polyline stroke="#ff0000" stroke-width="1.35" stroke-linejoin="miter" points="175.05,139.5 176.05,115.4 176.50,53.6 176.95,115.4 177.95,139.5"/>
<polyline stroke="#ff0000" stroke-width="1.35" stroke-linejoin="miter" points="318.05,139.5 319.05,114.9 319.50,51.8 319.95,114.9 320.95,139.5"/>
<polyline stroke="#ff0000" stroke-width="1.35" stroke-linejoin="miter" points="460.75,139.5 461.75,115.1 462.20,52.3 462.65,115.1 463.65,139.5"/>
<polyline stroke="#ff0000" stroke-width="1.35" stroke-linejoin="miter" points="603.75,139.5 604.75,115.0 605.20,52.0 605.65,115.0 606.65,139.5"/>
<polyline stroke="#ff0000" stroke-width="1.35" stroke-linejoin="miter" points="105.05,139.5 106.05,162.4 106.50,221.4 106.95,162.4 107.95,139.5"/>
<polyline stroke="#ff0000" stroke-width="1.35" stroke-linejoin="miter" points="246.35,139.5 247.35,162.6 247.80,222.1 248.25,162.6 249.25,139.5"/>
<polyline stroke="#ff0000" stroke-width="1.35" stroke-linejoin="miter" points="389.35,139.5 390.35,163.0 390.80,223.4 391.25,163.0 392.25,139.5"/>
<polyline stroke="#ff0000" stroke-width="1.35" stroke-linejoin="miter" points="532.35,139.5 533.35,163.2 533.80,224.1 534.25,163.2 535.25,139.5"/>
<polyline stroke="#0000ff" points="74.9,143.0 75.1,139.3 75.4,142.2 75.6,140.1 75.9,145.7 76.1,141.4 76.4,144.5 76.6,139.7 76.9,142.8 77.1,136.2 77.4,141.2 77.6,134.8 77.9,140.9 78.1,136.9 78.4,140.0 78.6,138.1 78.9,140.9 79.1,138.1 79.4,141.5 79.6,137.3 79.9,142.5 80.1,139.5 80.4,142.9 80.6,139.9 80.9,143.6 81.1,138.8 81.4,144.3 81.6,138.4 81.9,142.1 82.1,138.9 82.4,141.9 82.6,136.1 82.9,140.1 83.1,136.5 83.4,139.1 83.6,136.6 83.9,139.1 84.1,136.5 84.4,140.4 84.6,135.1 84.9,139.6 85.1,136.1 85.4,142.6 85.6,137.5 85.9,142.3 86.1,137.7 86.4,142.1 86.6,137.2 86.9,142.0 87.1,138.8 87.4,141.8 87.6,137.9 87.9,142.9 88.1,138.4 88.4,142.4 88.6,137.6 88.9,141.3 89.1,138.7 89.4,142.1 89.6,139.8 89.9,142.6 90.1,138.8 90.4,141.8 90.6,136.5 90.9,143.1 91.1,136.7 91.4,141.4 91.6,136.0 91.9,141.9 92.1,137.6 92.4,142.7 92.6,138.7 92.9,143.2 93.1,139.4 93.4,140.8 93.6,137.3 93.9,140.1 94.1,136.4 94.4,141.9 94.6,135.7 94.9,143.1 95.1,137.2 95.4,141.3 95.6,139.4 95.9,144.6 96.1,138.0 96.4,141.2 96.6,138.1 96.9,140.6 97.1,137.1 97.4,139.0 97.6,136.4 97.9,140.3 98.1,137.1 98.4,140.6 98.6,135.9 98.9,140.3 99.1,137.0 99.4,138.9 99.6,133.3 99.9,140.4 100.1,134.2 100.4,139.5 100.6,135.8 100.9,140.9 101.1,138.0 101.4,139.8 101.6,136.3 101.9,140.9 102.1,136.3 102.4,139.1 102.6,135.9 102.9,139.4 103.1,136.0 103.4,138.6 103.6,135.6 103.9,140.0 104.1,134.5 104.4,138.5 104.6,135.5 104.9,138.0 105.1,135.2 105.4,138.3 105.6,136.1 105.9,138.5 106.1,135.1 106.4,139.4 106.6,136.2 106.9,138.8 107.1,137.1 107.4,140.4 107.6,136.0 107.9,140.8 108.1,137.2 108.4,141.0 108.6,133.9 108.9,140.1 109.1,133.2 109.4,136.4 109.6,133.0 109.9,136.5 110.1,133.6 110.4,137.2 110.6,136.4 110.9,141.3 111.1,136.1 111.4,139.4 111.6,135.0 111.9,137.7 112.1,133.7 112.4,137.2 112.6,133.8 112.9,137.7 113.1,135.0 113.4,138.3 113.6,134.6 113.9,137.4 114.1,135.5 114.4,138.3 114.6,134.1 114.9,138.4 115.1,136.2 115.4,138.8 115.6,134.9 115.9,138.9 116.1,135.3 116.4,138.4 116.6,134.0 116.9,141.6 117.1,136.1 117.4,137.3 117.6,135.6 117.9,139.7 118.1,134.2 118.4,138.9 118.6,135.5 118.9,138.3 119.1,134.3 119.4,137.8 119.6,133.9 119.9,138.7 120.1,133.2 120.4,139.5 120.6,136.8 120.9,143.4 121.1,138.2 121.4,142.3 121.6,139.1 121.9,144.8 122.1,140.6 122.4,142.2 122.6,138.2 122.9,140.9 123.1,139.1 123.4,143.6 123.6,140.5 123.9,143.8 124.1,141.5 124.4,145.1 124.6,141.5 124.9,143.9 125.1,140.7 125.4,145.0 125.6,140.3 125.9,146.0 126.1,142.0 126.4,147.1 126.6,142.6 126.9,145.2 127.1,140.8 127.4,145.8 127.6,141.0 127.9,146.7 128.1,143.4 128.4,146.9 128.6,144.2 128.9,146.5 129.1,143.6 129.4,146.4 129.6,141.8 129.9,145.0 130.1,141.8 130.4,146.1 130.6,142.0 130.9,144.9 131.1,142.1 131.4,145.4 131.6,142.7 131.9,143.9 132.1,138.7 132.4,143.9 132.6,142.2 132.9,143.7 133.1,140.7 133.4,143.4 133.6,139.4 133.9,143.3 134.1,139.2 134.4,142.8 134.6,138.3 134.9,142.3 135.1,140.1 135.4,143.0 135.6,138.9 135.9,143.2 136.1,137.4 136.4,142.0 136.6,137.7 136.9,142.2 137.1,137.6 137.4,140.0 137.6,138.2 137.9,140.2 138.1,135.8 138.4,143.0 138.6,139.9 138.9,144.4 139.1,140.1 139.4,144.7 139.6,141.8 139.9,144.0 140.1,139.9 140.4,146.0 140.6,141.1 140.9,143.7 141.1,140.1 141.4,145.1 141.6,140.1 141.9,145.1 142.1,140.9 142.4,145.2 142.6,143.1 142.9,144.5 143.1,139.2 143.4,144.1 143.6,138.8 143.9,144.6 144.1,141.5 144.4,147.2 144.6,142.0 144.9,147.9 145.1,141.6 145.4,145.4 145.6,141.4 145.9,143.7 146.1,140.1 146.4,142.9 146.6,138.1 146.9,143.0 147.1,140.2 147.4,143.9 147.6,139.2 147.9,141.2 148.1,139.5 148.4,143.2 148.6,136.8 148.9,140.9 149.1,137.4 149.4,141.9 149.6,138.2 149.9,144.5 150.1,139.6 150.4,142.8 150.6,139.3 150.9,142.2 151.1,139.3 151.4,144.6 151.6,139.0 151.9,142.3 152.1,138.6 152.4,142.3 152.6,137.9 152.9,143.1 153.1,137.1 153.4,142.3 153.6,139.0 153.9,142.3 154.1,138.0 154.4,140.0 154.6,135.6 154.9,142.6 155.1,136.0 155.4,141.3 155.6,137.8 155.9,141.7 156.1,136.4 156.4,143.1 156.6,138.6 156.9,143.7 157.1,140.7 157.4,144.6 157.6,139.8 157.9,143.9 158.1,140.5 158.4,143.1 158.6,139.4 158.9,143.8 159.1,138.0 159.4,142.7 159.6,140.0 159.9,143.0 160.1,140.4 160.4,145.7 160.6,143.1 160.9,144.9 161.1,142.5 161.4,144.5 161.6,140.7 161.9,142.8 162.1,139.9 162.4,142.4 162.6,139.2 162.9,145.7 163.1,140.2 163.4,144.3 163.6,139.3 163.9,142.1 164.1,138.3 164.4,141.9 164.6,137.7 164.9,142.6 165.1,140.8 165.4,143.1 165.6,140.3 165.9,142.0 166.1,139.1 166.4,143.7 166.6,138.5 166.9,143.3 167.1,137.0 167.4,139.8 167.6,136.4 167.9,141.2 168.1,136.0 168.4,139.6 168.6,138.2 168.9,141.2 169.1,135.8 169.4,139.9 169.6,138.8 169.9,142.7 170.1,139.5 170.4,143.3 170.6,140.5 170.9,144.6 171.1,139.0 171.4,143.4 171.6,136.4 171.9,142.6 172.1,137.5 172.4,139.7 172.6,136.6 172.9,140.2 173.1,137.3 173.4,141.4 173.6,138.1 173.9,144.5 174.1,139.9 174.4,143.8 174.6,138.7 174.9,141.9 175.1,138.1 175.4,140.5 175.6,135.7 175.9,140.8 176.1,135.4 176.4,141.8 176.6,138.4 176.9,142.1 177.1,140.2 177.4,144.4 177.6,141.9 177.9,144.7 178.1,141.0 178.4,145.5 178.6,141.1 178.9,145.4 179.1,138.8 179.4,144.8 179.6,140.1 179.9,144.0 180.1,139.6 180.4,143.4 180.6,140.2 180.9,144.3 181.1,139.6 181.4,141.8 181.6,138.4 181.9,142.6 182.1,137.3 182.4,144.2 182.6,140.2 182.9,144.1 183.1,141.0 183.4,145.2 183.6,141.4 183.9,143.4 184.1,139.4 184.4,143.8 184.6,137.9 184.9,144.5 185.1,139.4 185.4,144.9 185.6,143.5 185.9,147.8 186.1,142.5 186.4,145.1 186.6,141.0 186.9,145.3 187.1,139.3 187.4,142.6 187.6,139.8 187.9,142.9 188.1,139.5 188.4,143.9 188.6,142.5 188.9,146.1 189.1,144.1 189.4,148.8 189.6,142.1 189.9,147.3 190.1,141.4 190.4,143.5 190.6,141.7 190.9,143.9 191.1,141.1 191.4,144.5 191.6,140.9 191.9,144.7 192.1,141.1 192.4,145.0 192.6,141.6 192.9,146.9 193.1,141.6 193.4,144.4 193.6,139.9 193.9,144.9 194.1,140.9 194.4,146.0 194.6,142.2 194.9,147.9 195.1,140.6 195.4,145.1 195.6,142.6 195.9,145.7 196.1,142.2 196.4,145.1 196.6,141.9 196.9,143.8 197.1,139.9 197.4,143.2 197.6,139.9 197.9,143.5 198.1,138.6 198.4,142.9 198.6,137.8 198.9,142.6 199.1,139.8 199.4,142.1 199.6,136.0 199.9,142.0 200.1,138.1 200.4,139.8 200.6,136.2 200.9,139.5 201.1,135.0 201.4,137.8 201.6,135.3 201.9,138.8 202.1,135.5 202.4,137.9 202.6,134.4 202.9,137.2 203.1,133.0 203.4,137.3 203.6,134.5 203.9,137.9 204.1,134.4 204.4,136.4 204.6,132.7 204.9,138.4 205.1,132.5 205.4,137.6 205.6,134.5 205.9,137.2 206.1,134.7 206.4,140.6 206.6,135.0 206.9,139.4 207.1,133.6 207.4,139.3 207.6,136.6 207.9,138.9 208.1,136.7 208.4,140.4 208.6,136.9 208.9,138.2 209.1,135.9 209.4,137.9 209.6,134.2 209.9,140.1 210.1,137.0 210.4,141.1 210.6,136.7 210.9,141.4 211.1,135.9 211.4,140.7 211.6,137.2 211.9,141.9 212.1,137.7 212.4,141.0 212.6,138.6 212.9,142.3 213.1,137.9 213.4,141.1 213.6,137.5 213.9,140.2 214.1,138.3 214.4,139.7 214.6,136.3 214.9,140.7 215.1,135.8 215.4,141.0 215.6,138.5 215.9,142.2 216.1,136.8 216.4,141.6 216.6,137.8 216.9,143.1 217.1,137.9 217.4,142.6 217.6,139.0 217.9,141.4 218.1,135.0 218.4,140.7 218.6,135.2 218.9,140.5 219.1,137.5 219.4,140.9 219.6,137.7 219.9,142.3 220.1,136.9 220.4,139.1 220.6,134.8 220.9,139.3 221.1,135.5 221.4,139.3 221.6,132.7 221.9,139.4 222.1,135.6 222.4,139.1 222.6,136.1 222.9,138.1 223.1,134.6 223.4,141.0 223.6,136.8 223.9,140.9 224.1,135.7 224.4,139.5 224.6,136.3 224.9,141.1 225.1,137.4 225.4,139.3 225.6,137.8 225.9,140.5 226.1,136.9 226.4,138.6 226.6,137.2 226.9,140.1 227.1,136.6 227.4,141.3 227.6,138.1 227.9,140.2 228.1,134.5 228.4,139.5 228.6,137.2 228.9,141.1 229.1,137.5 229.4,142.8 229.6,139.0 229.9,142.6 230.1,137.6 230.4,142.0 230.6,138.5 230.9,141.9 231.1,139.1 231.4,143.6 231.6,137.8 231.9,142.0 232.1,137.8 232.4,142.6 232.6,136.6 232.9,139.1 233.1,133.7 233.4,138.8 233.6,135.5 233.9,141.7 234.1,136.0 234.4,139.5 234.6,137.8 234.9,140.6 235.1,135.9 235.4,140.9 235.6,136.3 235.9,140.3 236.1,135.1 236.4,139.6 236.6,137.2 236.9,140.1 237.1,135.4 237.4,140.5 237.6,136.3 237.9,140.4 238.1,136.0 238.4,139.8 238.6,135.8 238.9,140.3 239.1,134.5 239.4,139.1 239.6,136.2 239.9,139.9 240.1,137.5 240.4,140.8 240.6,137.7 240.9,141.6 241.1,137.2 241.4,140.5 241.6,136.6 241.9,142.4 242.1,136.3 242.4,140.7 242.6,135.8 242.9,138.8 243.1,136.0 243.4,139.4 243.6,136.4 243.9,143.1 244.1,135.0 244.4,140.6 244.6,138.1 244.9,141.0 245.1,138.1 245.4,139.8 245.6,138.7 245.9,141.7 246.1,138.0 246.4,141.0 246.6,135.6 246.9,141.4 247.1,136.5 247.4,142.5 247.6,136.4 247.9,140.3 248.1,136.9 248.4,140.0 248.6,138.9 248.9,141.1 249.1,138.4 249.4,141.4 249.6,138.2 249.9,142.5 250.1,136.4 250.4,141.1 250.6,139.4 250.9,142.6 251.1,140.1 251.4,142.8 251.6,138.6 251.9,142.0 252.1,136.6 252.4,139.3 252.6,135.5 252.9,142.4 253.1,136.4 253.4,140.4 253.6,136.1 253.9,140.9 254.1,138.1 254.4,140.8 254.6,136.3 254.9,140.9 255.1,137.3 255.4,140.6 255.6,137.8 255.9,140.5 256.1,135.5 256.4,140.4 256.6,136.8 256.9,139.7 257.1,135.8 257.4,138.2 257.6,135.5 257.9,138.7 258.1,134.5 258.4,140.9 258.6,136.3 258.9,140.1 259.1,137.3 259.4,140.6 259.6,135.6 259.9,140.6 260.1,136.2 260.4,140.7 260.6,135.0 260.9,139.1 261.1,136.5 261.4,140.0 261.6,135.3 261.9,138.7 262.1,138.0 262.4,141.2 262.6,137.8 262.9,141.1 263.1,138.8 263.4,141.3 263.6,137.6 263.9,140.5 264.1,135.6 264.4,140.7 264.6,136.8 264.9,140.7 265.1,137.3 265.4,142.1 265.6,139.1 265.9,142.2 266.1,137.7 266.4,141.3 266.6,138.6 266.9,145.2 267.1,140.3 267.4,143.2 267.6,140.8 267.9,144.9 268.1,139.7 268.4,145.1 268.6,139.3 268.9,143.0 269.1,140.5 269.4,144.5 269.6,140.0 269.9,144.7 270.1,139.6 270.4,144.5 270.6,139.8 270.9,145.8 271.1,140.9 271.4,143.4 271.6,141.5 271.9,142.3 272.1,138.8 272.4,142.5 272.6,138.3 272.9,141.6 273.1,135.3 273.4,140.8 273.6,135.8 273.9,138.6 274.1,135.2 274.4,138.5 274.6,133.9 274.9,138.7 275.1,135.3 275.4,140.2 275.6,134.7 275.9,138.1 276.1,134.9 276.4,138.7 276.6,135.8 276.9,139.6 277.1,134.4 277.4,137.8 277.6,135.5 277.9,139.1 278.1,133.7 278.4,140.6 278.6,136.4 278.9,139.6 279.1,135.2 279.4,139.0 279.6,136.0 279.9,138.9 280.1,132.7 280.4,139.9 280.6,135.4 280.9,138.8 281.1,135.1 281.4,142.3 281.6,138.3 281.9,142.8 282.1,138.7 282.4,141.3 282.6,139.1 282.9,142.4 283.1,137.8 283.4,143.7 283.6,140.1 283.9,144.8 284.1,138.9 284.4,143.6 284.6,139.5 284.9,144.5 285.1,137.8 285.4,144.2 285.6,138.1 285.9,142.8 286.1,138.1 286.4,141.5 286.6,138.9 286.9,144.8 287.1,139.3 287.4,142.1 287.6,138.2 287.9,144.4 288.1,139.3 288.4,142.1 288.6,136.6 288.9,141.8 289.1,138.6 289.4,141.9 289.6,137.7 289.9,143.1 290.1,139.0 290.4,140.4 290.6,136.6 290.9,139.9 291.1,136.5 291.4,140.3 291.6,136.2 291.9,140.1 292.1,138.5 292.4,144.3 292.6,138.7 292.9,141.8 293.1,138.9 293.4,142.0 293.6,138.1 293.9,140.2 294.1,138.2 294.4,140.5 294.6,136.9 294.9,140.7 295.1,137.2 295.4,141.0 295.6,137.1 295.9,141.4 296.1,135.9 296.4,141.8 296.6,139.4 296.9,143.3 297.1,135.8 297.4,142.7 297.6,139.5 297.9,142.4 298.1,138.3 298.4,143.2 298.6,139.2 298.9,143.0 299.1,139.2 299.4,142.8 299.6,139.7 299.9,143.4 300.1,139.6 300.4,143.3 300.6,137.8 300.9,143.8 301.1,140.9 301.4,144.4 301.6,141.9 301.9,146.1 302.1,143.4 302.4,146.0 302.6,142.7 302.9,146.1 303.1,141.2 303.4,145.7 303.6,141.0 303.9,144.9 304.1,139.9 304.4,142.1 304.6,139.9 304.9,141.5 305.1,138.2 305.4,142.0 305.6,137.5 305.9,141.3 306.1,137.2 306.4,140.7 306.6,138.7 306.9,140.0 307.1,136.7 307.4,142.1 307.6,137.3 307.9,140.4 308.1,137.3 308.4,143.7 308.6,139.2 308.9,140.8 309.1,138.9 309.4,141.4 309.6,137.1 309.9,141.5 310.1,138.9 310.4,141.6 310.6,136.3 310.9,142.2 311.1,137.1 311.4,140.8 311.6,136.9 311.9,140.6 312.1,136.2 312.4,140.6 312.6,137.3 312.9,141.7 313.1,137.3 313.4,138.5 313.6,135.4 313.9,138.2 314.1,135.7 314.4,139.3 314.6,132.8 314.9,137.6 315.1,135.0 315.4,137.7 315.6,134.7 315.9,141.3 316.1,137.0 316.4,141.7 316.6,136.3 316.9,138.7 317.1,133.9 317.4,139.4 317.6,135.3 317.9,137.6 318.1,133.9 318.4,139.1 318.6,135.1 318.9,139.6 319.1,136.5 319.4,139.7 319.6,135.6 319.9,138.6 320.1,135.4 320.4,139.0 320.6,135.7 320.9,138.3 321.1,136.0 321.4,141.9 321.6,136.4 321.9,140.9 322.1,136.7 322.4,141.3 322.6,137.8 322.9,139.1 323.1,133.2 323.4,137.4 323.6,134.0 323.9,137.9 324.1,132.5 324.4,138.1 324.6,134.4 324.9,140.4 325.1,135.7 325.4,143.5 325.6,137.9 325.9,140.6 326.1,135.1 326.4,138.3 326.6,135.7 326.9,138.6 327.1,136.1 327.4,142.0 327.6,138.2 327.9,142.2 328.1,138.2 328.4,140.6 328.6,136.9 328.9,139.4 329.1,136.8 329.4,140.3 329.6,137.1 329.9,141.7 330.1,138.2 330.4,140.5 330.6,137.9 330.9,141.1 331.1,138.9 331.4,144.1 331.6,139.4 331.9,143.3 332.1,138.7 332.4,141.8 332.6,138.1 332.9,142.0 333.1,138.4 333.4,142.4 333.6,139.1 333.9,144.7 334.1,139.6 334.4,143.9 334.6,139.8 334.9,143.4 335.1,140.3 335.4,144.0 335.6,139.3 335.9,145.5 336.1,140.9 336.4,144.4 336.6,140.6 336.9,143.5 337.1,141.2 337.4,144.0 337.6,141.0 337.9,145.4 338.1,140.9 338.4,143.5 338.6,139.3 338.9,144.0 339.1,139.1 339.4,143.5 339.6,138.6 339.9,143.3 340.1,139.7 340.4,142.9 340.6,139.9 340.9,141.8 341.1,138.1 341.4,144.2 341.6,139.4 341.9,140.9 342.1,138.1 342.4,140.9 342.6,138.9 342.9,139.9 343.1,136.0 343.4,139.7 343.6,137.7 343.9,143.5 344.1,135.3 344.4,140.5 344.6,137.6 344.9,140.3 345.1,136.0 345.4,138.9 345.6,134.3 345.9,138.4 346.1,135.9 346.4,139.6 346.6,135.7 346.9,138.3 347.1,136.7 347.4,140.9 347.6,137.5 347.9,139.8 348.1,137.2 348.4,139.9 348.6,136.4 348.9,138.8 349.1,133.5 349.4,138.7 349.6,134.7 349.9,138.6 350.1,135.6 350.4,139.3 350.6,135.9 350.9,139.5 351.1,136.5 351.4,140.5 351.6,137.9 351.9,140.7 352.1,138.5 352.4,143.3 352.6,138.9 352.9,143.7 353.1,140.8 353.4,144.8 353.6,138.0 353.9,145.0 354.1,140.2 354.4,143.8 354.6,140.6 354.9,144.6 355.1,139.2 355.4,142.6 355.6,138.0 355.9,143.1 356.1,141.4 356.4,144.7 356.6,141.9 356.9,145.2 357.1,141.9 357.4,146.7 357.6,140.3 357.9,146.3 358.1,139.2 358.4,143.9 358.6,140.5 358.9,143.6 359.1,139.4 359.4,144.1 359.6,139.6 359.9,142.6 360.1,138.7 360.4,142.1 360.6,139.0 360.9,142.9 361.1,140.4 361.4,143.9 361.6,139.5 361.9,145.8 362.1,139.8 362.4,143.2 362.6,139.7 362.9,142.7 363.1,136.9 363.4,142.5 363.6,139.4 363.9,143.1 364.1,137.0 364.4,143.1 364.6,137.8 364.9,143.3 365.1,137.3 365.4,141.0 365.6,138.7 365.9,142.8 366.1,141.1 366.4,143.2 366.6,139.9 366.9,145.9 367.1,141.6 367.4,144.3 367.6,140.6 367.9,143.0 368.1,141.1 368.4,143.4 368.6,139.0 368.9,142.9 369.1,139.6 369.4,143.3 369.6,139.6 369.9,145.5 370.1,140.9 370.4,144.5 370.6,141.9 370.9,145.3 371.1,141.3 371.4,144.5 371.6,141.1 371.9,145.5 372.1,140.5 372.4,144.7 372.6,140.7 372.9,145.4 373.1,140.8 373.4,145.9 373.6,141.0 373.9,143.9 374.1,138.9 374.4,144.4 374.6,141.3 374.9,143.9 375.1,140.9 375.4,145.1 375.6,139.9 375.9,144.7 376.1,141.3 376.4,145.3 376.6,139.9 376.9,144.8 377.1,139.5 377.4,141.3 377.6,136.9 377.9,143.6 378.1,140.5 378.4,144.9 378.6,138.6 378.9,143.9 379.1,138.6 379.4,142.8 379.6,138.5 379.9,141.8 380.1,139.5 380.4,141.7 380.6,139.4 380.9,143.9 381.1,137.7 381.4,142.0 381.6,139.1 381.9,142.6 382.1,139.1 382.4,142.6 382.6,140.3 382.9,142.4 383.1,137.3 383.4,141.3 383.6,139.5 383.9,142.8 384.1,139.7 384.4,143.4 384.6,138.9 384.9,145.2 385.1,138.8 385.4,140.9 385.6,139.3 385.9,142.6 386.1,138.6 386.4,143.7 386.6,136.3 386.9,141.7 387.1,137.2 387.4,141.5 387.6,138.3 387.9,142.6 388.1,136.9 388.4,142.2 388.6,139.5 388.9,142.7 389.1,137.8 389.4,141.7 389.6,136.9 389.9,141.6 390.1,138.5 390.4,141.3 390.6,137.5 390.9,142.5 391.1,136.1 391.4,141.4 391.6,135.7 391.9,140.8 392.1,137.0 392.4,142.0 392.6,139.7 392.9,144.1 393.1,137.9 393.4,142.7 393.6,140.2 393.9,142.3 394.1,139.2 394.4,140.9 394.6,137.4 394.9,140.4 395.1,136.3 395.4,143.0 395.6,136.7 395.9,144.0 396.1,138.4 396.4,142.7 396.6,138.1 396.9,140.8 397.1,137.1 397.4,140.7 397.6,138.1 397.9,141.4 398.1,138.9 398.4,143.4 398.6,138.1 398.9,144.2 399.1,137.4 399.4,142.1 399.6,137.7 399.9,141.7 400.1,138.3 400.4,142.6 400.6,137.4 400.9,143.0 401.1,140.6 401.4,141.7 401.6,137.3 401.9,140.5 402.1,137.9 402.4,140.0 402.6,135.6 402.9,140.4 403.1,138.0 403.4,142.4 403.6,138.9 403.9,142.3 404.1,138.1 404.4,142.7 404.6,137.8 404.9,144.5 405.1,138.1 405.4,144.4 405.6,136.8 405.9,141.7 406.1,137.2 406.4,143.3 406.6,140.2 406.9,143.8 407.1,138.9 407.4,143.3 407.6,138.5 407.9,141.9 408.1,137.6 408.4,141.6 408.6,139.6 408.9,143.5 409.1,141.0 409.4,143.7 409.6,141.0 409.9,143.5 410.1,141.0 410.4,143.8 410.6,140.9 410.9,143.2 411.1,139.1 411.4,141.9 411.6,137.0 411.9,142.7 412.1,139.2 412.4,142.0 412.6,139.5 412.9,142.9 413.1,140.6 413.4,143.7 413.6,138.9 413.9,142.9 414.1,140.4 414.4,143.6 414.6,138.9 414.9,143.2 415.1,140.0 415.4,142.5 415.6,137.9 415.9,142.3 416.1,138.1 416.4,141.8 416.6,137.2 416.9,140.3 417.1,137.7 417.4,139.1 417.6,136.6 417.9,137.8 418.1,133.3 418.4,137.2 418.6,130.9 418.9,136.7 419.1,131.2 419.4,138.0 419.6,134.4 419.9,139.8 420.1,137.0 420.4,139.2 420.6,137.0 420.9,138.1 421.1,134.2 421.4,137.7 421.6,133.2 421.9,138.1 422.1,134.5 422.4,139.3 422.6,135.5 422.9,139.6 423.1,135.4 423.4,141.6 423.6,135.6 423.9,140.2 424.1,136.1 424.4,141.0 424.6,138.6 424.9,141.6 425.1,139.9 425.4,142.9 425.6,140.1 425.9,144.2 426.1,138.6 426.4,144.2 426.6,142.2 426.9,145.4 427.1,140.8 427.4,146.6 427.6,140.6 427.9,144.9 428.1,140.9 428.4,142.5 428.6,141.2 428.9,144.7 429.1,140.6 429.4,142.8 429.6,138.5 429.9,143.8 430.1,139.3 430.4,141.6 430.6,138.1 430.9,143.1 431.1,140.3 431.4,143.2 431.6,141.0 431.9,146.0 432.1,140.0 432.4,143.4 432.6,140.0 432.9,142.9 433.1,138.2 433.4,141.6 433.6,138.2 433.9,141.5 434.1,138.2 434.4,140.9 434.6,138.2 434.9,141.5 435.1,137.5 435.4,141.0 435.6,135.5 435.9,140.8 436.1,137.9 436.4,142.8 436.6,138.6 436.9,144.3 437.1,137.6 437.4,141.1 437.6,138.3 437.9,139.5 438.1,137.2 438.4,140.9 438.6,136.0 438.9,138.9 439.1,136.7 439.4,143.0 439.6,136.2 439.9,140.5 440.1,136.4 440.4,141.9 440.6,139.2 440.9,141.6 441.1,138.8 441.4,142.0 441.6,140.2 441.9,143.5 442.1,139.5 442.4,142.4 442.6,138.3 442.9,141.8 443.1,137.7 443.4,140.5 443.6,137.8 443.9,141.0 444.1,138.2 444.4,142.3 444.6,140.1 444.9,144.0 445.1,139.6 445.4,143.0 445.6,140.8 445.9,143.5 446.1,140.1 446.4,143.1 446.6,138.8 446.9,144.5 447.1,135.7 447.4,140.2 447.6,135.0 447.9,140.7 448.1,137.5 448.4,141.6 448.6,134.5 448.9,140.0 449.1,134.1 449.4,140.2 449.6,135.0 449.9,139.2 450.1,134.2 450.4,138.7 450.6,135.3 450.9,139.0 451.1,133.7 451.4,139.0 451.6,135.8 451.9,138.7 452.1,134.3 452.4,140.5 452.6,136.2 452.9,139.7 453.1,137.0 453.4,141.4 453.6,139.0 453.9,141.0 454.1,135.5 454.4,140.1 454.6,134.8 454.9,142.5 455.1,138.1 455.4,143.0 455.6,138.6 455.9,144.1 456.1,139.1 456.4,143.4 456.6,139.5 456.9,141.8 457.1,138.0 457.4,141.0 457.6,139.8 457.9,144.4 458.1,138.9 458.4,142.8 458.6,138.7 458.9,143.5 459.1,138.6 459.4,143.5 459.6,138.1 459.9,145.3 460.1,140.1 460.4,143.3 460.6,139.7 460.9,142.2 461.1,138.8 461.4,142.6 461.6,140.1 461.9,143.2 462.1,135.7 462.4,141.4 462.6,137.5 462.9,140.6 463.1,138.5 463.4,145.1 463.6,140.8 463.9,146.9 464.1,141.3 464.4,147.9 464.6,141.5 464.9,144.4 465.1,138.7 465.4,143.9 465.6,140.3 465.9,142.2 466.1,140.3 466.4,143.4 466.6,137.9 466.9,144.1 467.1,139.1 467.4,144.9 467.6,141.0 467.9,146.4 468.1,141.0 468.4,145.6 468.6,141.8 468.9,145.1 469.1,143.3 469.4,144.9 469.6,142.6 469.9,145.5 470.1,140.1 470.4,145.5 470.6,139.4 470.9,145.6 471.1,141.6 471.4,146.7 471.6,140.4 471.9,143.3 472.1,139.8 472.4,144.3 472.6,138.9 472.9,143.6 473.1,140.6 473.4,144.7 473.6,140.9 473.9,145.0 474.1,138.4 474.4,142.8 474.6,140.2 474.9,143.9 475.1,139.5 475.4,143.2 475.6,139.0 475.9,142.4 476.1,139.7 476.4,142.7 476.6,138.2 476.9,140.9 477.1,137.3 477.4,141.2 477.6,139.6 477.9,142.6 478.1,140.2 478.4,143.9 478.6,139.6 478.9,144.6 479.1,140.7 479.4,144.0 479.6,142.5 479.9,145.0 480.1,141.7 480.4,145.8 480.6,142.0 480.9,144.8 481.1,139.3 481.4,143.1 481.6,140.8 481.9,141.4 482.1,139.7 482.4,142.9 482.6,138.2 482.9,142.0 483.1,139.3 483.4,144.5 483.6,140.2 483.9,142.7 484.1,138.7 484.4,141.9 484.6,136.2 484.9,140.4 485.1,137.4 485.4,141.2 485.6,135.0 485.9,139.5 486.1,137.0 486.4,142.2 486.6,136.2 486.9,141.9 487.1,138.5 487.4,141.5 487.6,135.8 487.9,140.0 488.1,137.1 488.4,139.8 488.6,132.9 488.9,139.0 489.1,135.0 489.4,140.4 489.6,135.2 489.9,140.7 490.1,134.6 490.4,138.1 490.6,136.6 490.9,138.3 491.1,134.1 491.4,141.1 491.6,135.8 491.9,139.8 492.1,135.4 492.4,138.3 492.6,133.9 492.9,138.3 493.1,136.2 493.4,140.2 493.6,135.9 493.9,142.7 494.1,139.4 494.4,142.2 494.6,139.9 494.9,143.2 495.1,140.4 495.4,144.0 495.6,138.9 495.9,143.0 496.1,138.5 496.4,142.7 496.6,138.0 496.9,141.5 497.1,138.0 497.4,145.6 497.6,140.6 497.9,142.9 498.1,140.8 498.4,142.9 498.6,137.8 498.9,143.2 499.1,140.0 499.4,143.0 499.6,137.3 499.9,143.0 500.1,139.1 500.4,142.3 500.6,138.3 500.9,141.4 501.1,137.8 501.4,140.3 501.6,137.2 501.9,139.8 502.1,136.3 502.4,139.7 502.6,136.4 502.9,138.6 503.1,136.6 503.4,140.3 503.6,136.4 503.9,138.0 504.1,135.1 504.4,139.5 504.6,136.0 504.9,139.8 505.1,134.6 505.4,138.6 505.6,134.4 505.9,136.2 506.1,132.6 506.4,137.9 506.6,133.7 506.9,137.8 507.1,133.9 507.4,136.9 507.6,132.7 507.9,135.7 508.1,133.2 508.4,135.4 508.6,133.9 508.9,139.4 509.1,134.0 509.4,137.9 509.6,135.3 509.9,140.5 510.1,135.6 510.4,138.5 510.6,136.0 510.9,140.5 511.1,136.8 511.4,138.6 511.6,134.3 511.9,138.4 512.1,136.0 512.4,139.3 512.6,136.5 512.9,142.4 513.1,138.6 513.4,141.5 513.6,138.1 513.9,141.6 514.1,138.0 514.4,142.8 514.6,136.1 514.9,141.0 515.1,137.9 515.4,141.4 515.6,136.4 515.9,140.0 516.1,135.1 516.4,139.5 516.6,135.5 516.9,139.7 517.1,135.4 517.4,141.2 517.6,135.6 517.9,139.0 518.1,136.9 518.4,138.5 518.6,135.6 518.9,140.1 519.1,137.5 519.4,143.0 519.6,135.8 519.9,141.4 520.1,137.8 520.4,141.4 520.6,136.9 520.9,141.4 521.1,135.8 521.4,141.8 521.6,138.1 521.9,141.9 522.1,138.1 522.4,143.3 522.6,137.7 522.9,139.9 523.1,133.6 523.4,140.4 523.6,133.9 523.9,139.6 524.1,133.9 524.4,140.5 524.6,135.9 524.9,139.0 525.1,138.9 525.4,142.5 525.6,137.8 525.9,141.0 526.1,138.8 526.4,141.4 526.6,135.8 526.9,141.4 527.1,138.6 527.4,143.3 527.6,140.9 527.9,144.7 528.1,139.7 528.4,141.9 528.6,138.7 528.9,141.7 529.1,136.7 529.4,141.1 529.6,139.2 529.9,142.9 530.1,138.7 530.4,143.5 530.6,140.6 530.9,143.3 531.1,138.6 531.4,143.4 531.6,138.7 531.9,143.0 532.1,140.7 532.4,144.9 532.6,141.3 532.9,143.9 533.1,141.4 533.4,146.0 533.6,141.2 533.9,143.7 534.1,140.5 534.4,143.3 534.6,141.0 534.9,144.4 535.1,140.7 535.4,145.6 535.6,142.2 535.9,144.1 536.1,141.1 536.4,143.6 536.6,141.9 536.9,144.5 537.1,138.7 537.4,143.1 537.6,139.3 537.9,145.0 538.1,140.4 538.4,144.2 538.6,138.3 538.9,142.7 539.1,140.6 539.4,143.9 539.6,139.7 539.9,144.0 540.1,141.6 540.4,145.7 540.6,140.8 540.9,145.8 541.1,141.3 541.4,143.8 541.6,139.8 541.9,143.3 542.1,139.3 542.4,143.0 542.6,140.2 542.9,142.7 543.1,138.8 543.4,142.3 543.6,139.5 543.9,141.2 544.1,136.3 544.4,142.8 544.6,140.5 544.9,143.6 545.1,141.0 545.4,143.7 545.6,139.7 545.9,142.5 546.1,138.0 546.4,140.7 546.6,137.5 546.9,140.7 547.1,136.1 547.4,140.4 547.6,137.7 547.9,141.7 548.1,136.8 548.4,142.4 548.6,138.9 548.9,144.7 549.1,138.1 549.4,142.0 549.6,138.9 549.9,142.9 550.1,138.0 550.4,144.0 550.6,138.5 550.9,141.1 551.1,137.5 551.4,141.5 551.6,138.5 551.9,141.4 552.1,138.3 552.4,145.1 552.6,139.6 552.9,145.0 553.1,141.0 553.4,145.2 553.6,140.6 553.9,145.8 554.1,141.5 554.4,146.2 554.6,141.5 554.9,145.4 555.1,142.1 555.4,145.1 555.6,143.1 555.9,144.7 556.1,143.0 556.4,146.5 556.6,140.3 556.9,146.7 557.1,139.7 557.4,148.2 557.6,140.4 557.9,146.2 558.1,140.8 558.4,145.7 558.6,138.8 558.9,144.5 559.1,140.7 559.4,144.7 559.6,140.8 559.9,145.6 560.1,142.4 560.4,143.9 560.6,140.2 560.9,144.5 561.1,141.0 561.4,143.9 561.6,140.1 561.9,144.1 562.1,141.0 562.4,142.7 562.6,138.9 562.9,141.2 563.1,136.6 563.4,141.2 563.6,139.2 563.9,141.2 564.1,139.0 564.4,142.0 564.6,138.9 564.9,141.7 565.1,137.9 565.4,143.1 565.6,139.4 565.9,143.1 566.1,140.2 566.4,144.9 566.6,142.4 566.9,145.0 567.1,141.0 567.4,143.3 567.6,140.8 567.9,143.6 568.1,139.5 568.4,142.3 568.6,140.0 568.9,144.0 569.1,141.7 569.4,145.9 569.6,139.4 569.9,144.8 570.1,140.1 570.4,145.8 570.6,140.9 570.9,146.3 571.1,143.9 571.4,146.3 571.6,140.3 571.9,144.2 572.1,141.4 572.4,142.6 572.6,140.1 572.9,144.6 573.1,140.0 573.4,143.6 573.6,139.3 573.9,143.3 574.1,140.0 574.4,142.8 574.6,137.6 574.9,140.8 575.1,137.8 575.4,142.0 575.6,136.6 575.9,139.2 576.1,135.1 576.4,141.7 576.6,133.7 576.9,137.7 577.1,136.3 577.4,140.3 577.6,136.4 577.9,138.3 578.1,135.5 578.4,138.1 578.6,134.4 578.9,138.0 579.1,135.4 579.4,139.8 579.6,135.4 579.9,142.3 580.1,134.7 580.4,139.9 580.6,133.9 580.9,135.2 581.1,131.0 581.4,135.6 581.6,132.8 581.9,136.4 582.1,134.5 582.4,136.6 582.6,134.5 582.9,137.3 583.1,134.6 583.4,138.7 583.6,135.2 583.9,140.2 584.1,135.1 584.4,139.9 584.6,136.6 584.9,140.0 585.1,136.6 585.4,139.8 585.6,135.3 585.9,142.2 586.1,135.1 586.4,140.1 586.6,136.6 586.9,139.0 587.1,137.5 587.4,141.8 587.6,138.6 587.9,141.7 588.1,138.2 588.4,142.7 588.6,136.8 588.9,143.8 589.1,136.4 589.4,141.3 589.6,137.5 589.9,141.0 590.1,136.9 590.4,140.6 590.6,136.5 590.9,138.7 591.1,136.7 591.4,139.6 591.6,136.6 591.9,139.7 592.1,135.5 592.4,139.1 592.6,135.9 592.9,137.6 593.1,134.7 593.4,140.6 593.6,135.2 593.9,138.4 594.1,136.0 594.4,139.5 594.6,136.0 594.9,140.1 595.1,135.9 595.4,138.8 595.6,136.0 595.9,139.0 596.1,135.9 596.4,139.2 596.6,136.7 596.9,138.8 597.1,134.7 597.4,138.8 597.6,135.2 597.9,139.8 598.1,136.2 598.4,138.0 598.6,133.3 598.9,138.6 599.1,135.2 599.4,141.0 599.6,135.9 599.9,139.1 600.1,137.1 600.4,140.0 600.6,136.6 600.9,137.9 601.1,134.7 601.4,137.5 601.6,134.4 601.9,139.1 602.1,136.1 602.4,139.8 602.6,136.6 602.9,140.4 603.1,136.9 603.4,140.0 603.6,136.5 603.9,139.5 604.1,135.7 604.4,140.5 604.6,137.3 604.9,143.0 605.1,139.0 605.4,140.1 605.6,135.5 605.9,142.4 606.1,135.6 606.4,141.2 606.6,136.2 606.9,140.8 607.1,136.2 607.4,140.1 607.6,135.4 607.9,140.7 608.1,138.0 608.4,141.8 608.6,136.6 608.9,141.7 609.1,137.4 609.4,140.7 609.6,139.0 609.9,141.7 610.1,138.9 610.4,142.5 610.6,139.0 610.9,143.0 611.1,138.9 611.4,141.3 611.6,139.0 611.9,142.5 612.1,138.9 612.4,142.1 612.6,137.9 612.9,141.0 613.1,138.8 613.4,141.9 613.6,138.2 613.9,141.8 614.1,138.8 614.4,143.5 614.6,137.5 614.9,143.2 615.1,137.6 615.4,142.4 615.6,139.5 615.9,142.9 616.1,140.1 616.4,143.2 616.6,140.5 616.9,143.1 617.1,139.9 617.4,141.5 617.6,137.7 617.9,143.9 618.1,140.2 618.4,142.6 618.6,139.0 618.9,144.7 619.1,141.0 619.4,145.0 619.6,138.4 619.9,144.5 620.1,140.9 620.4,143.2 620.6,138.2 620.9,142.9 621.1,140.5 621.4,144.5 621.6,140.9 621.9,144.3 622.1,141.5 622.4,146.3 622.6,139.8 622.9,144.9 623.1,137.5 623.4,143.7 623.6,140.4 623.9,143.3 624.1,139.6 624.4,144.3 624.6,140.3 624.9,143.1 625.1,139.7 625.4,143.6 625.6,139.7 625.9,142.3 626.1,140.6 626.4,144.5 626.6,138.7 626.9,145.1 627.1,141.1 627.4,144.6 627.6,140.7 627.9,143.9 628.1,139.7 628.4,144.8 628.6,140.1 628.9,142.7 629.1,137.2 629.4,142.3 629.6,136.9 629.9,141.8 630.1,137.5 630.4,142.4 630.6,136.2 630.9,138.9 631.1,133.9 631.4,138.5 631.6,133.6 631.9,136.9 632.1,133.3 632.4,139.1 632.6,134.3 632.9,138.4 633.1,135.5 633.4,139.4 633.6,136.5 633.9,139.3 634.1,136.4 634.4,139.4 634.6,136.0 634.9,138.7 635.1,134.3 635.4,138.2 635.6,135.0 635.9,139.3 636.1,133.7 636.4,139.8 636.6,135.0 636.9,140.2 637.1,135.1 637.4,139.2 637.6,135.0 637.9,140.6 638.1,139.2 638.4,144.4 638.6,140.0 638.9,143.7 639.1,140.2 639.4,146.2 639.6,140.6 639.9,144.0 640.1,140.4 640.4,142.7 640.6,139.6 640.9,142.6 641.1,140.2 641.4,145.9 641.6,141.4 641.9,143.6 642.1,140.7 642.4,144.6 642.6,140.1 642.9,143.2 643.1,141.1 643.4,144.5 643.6,140.2 643.9,144.1 644.1,140.0 644.4,143.3 644.6,136.6 644.9,142.5 645.1,138.0 645.4,141.6 645.6,138.4 645.9,141.3 646.1,136.3 646.4,142.1 646.6,139.2 646.9,143.3 647.1,139.0 647.4,143.0 647.6,139.0 647.9,143.1 648.1,138.4 648.4,140.3 648.6,134.4 648.9,140.5 649.1,137.7 649.4,142.0 649.6,134.5 649.9,140.5 650.1,138.6 650.4,141.5 650.6,137.8 650.9,142.5 651.1,137.9 651.4,141.5 651.6,138.4 651.9,140.7 652.1,136.9 652.4,141.6 652.6,135.9 652.9,141.1 653.1,137.5 653.4,143.6 653.6,136.7 653.9,139.2 654.1,136.9 654.4,139.5 654.6,136.4 654.9,143.4 655.1,138.9 655.4,142.2 655.6,138.3 655.9,142.5 656.1,137.8 656.4,140.2 656.6,138.4 656.9,144.4 657.1,138.4 657.4,143.3 657.6,139.5 657.9,142.4 658.1,139.1 658.4,141.5 658.6,135.6 658.9,141.1 659.1,138.3 659.4,141.2 659.6,137.7 659.9,142.7 660.1,139.2 660.4,141.4 660.6,137.9 660.9,141.1 661.1,136.9 661.4,139.8 661.6,136.9 661.9,140.5 662.1,137.7 662.4,141.8 662.6,136.9 662.9,139.9 663.1,135.9 663.4,140.1 663.6,136.4 663.9,138.3 664.1,136.0 664.4,140.8 664.6,135.7 664.9,140.9 665.1,135.3 665.4,139.5 665.6,137.0 665.9,141.2 666.1,135.7 666.4,139.7 666.6,136.0 666.9,139.5 667.1,133.7 667.4,139.1 667.6,134.4 667.9,138.9 668.1,135.0 668.4,138.6 668.6,136.3 668.9,140.5 669.1,137.4 669.4,141.6 669.6,138.1 669.9,140.8 670.1,137.5 670.4,139.7 670.6,137.3 670.9,139.4 671.1,134.3 671.4,139.5 671.6,135.9 671.9,140.5 672.1,137.1 672.4,140.4 672.6,137.7 672.9,141.5 673.1,138.7 673.4,142.8 673.6,138.9 673.9,140.9 674.1,136.3 674.4,143.6 674.6,138.1 674.9,141.1 675.1,136.2 675.4,139.8"/>
<polyline stroke="#0000ff" stroke-width="1.35" stroke-linejoin="miter" points="178.95,139.5 179.95,113.0 180.40,44.9 180.85,113.0 181.85,139.5"/>
<polyline stroke="#0000ff" stroke-width="1.35" stroke-linejoin="miter" points="321.95,139.5 322.95,114.2 323.40,49.1 323.85,114.2 324.85,139.5"/>
<polyline stroke="#0000ff" stroke-width="1.35" stroke-linejoin="miter" points="464.85,139.5 465.85,114.2 466.30,49.1 466.75,114.2 467.75,139.5"/>
<polyline stroke="#0000ff" stroke-width="1.35" stroke-linejoin="miter" points="607.75,139.5 608.75,113.9 609.20,48.0 609.65,113.9 610.65,139.5"/>
<polyline stroke="#0000ff" stroke-width="1.35" stroke-linejoin="miter" points="109.15,139.5 110.15,164.0 110.60,227.0 111.05,164.0 112.05,139.5"/>
<polyline stroke="#0000ff" stroke-width="1.35" stroke-linejoin="miter" points="249.75,139.5 250.75,164.2 251.20,227.8 251.65,164.2 252.65,139.5"/>
<polyline stroke="#0000ff" stroke-width="1.35" stroke-linejoin="miter" points="393.35,139.5 394.35,164.5 394.80,228.8 395.25,164.5 396.25,139.5"/>
<polyline stroke="#0000ff" stroke-width="1.35" stroke-linejoin="miter" points="536.05,139.5 537.05,164.8 537.50,230.0 537.95,164.8 538.95,139.5"/>
<polyline stroke="#ff00ff" stroke-width="2.0" points="74.9,83.9 75.2,82.5 75.4,88.7 75.7,83.7 75.9,88.0 76.2,87.0 76.4,89.9 76.7,86.5 76.8,90.0 76.9,87.3 77.2,93.1 77.4,87.3 77.7,93.2 77.9,90.4 78.2,96.4 78.4,92.9 78.7,99.1 78.9,93.8 79.2,98.9 79.3,94.4 79.4,96.2 79.7,93.8 79.9,96.8 80.2,92.8 80.4,95.3 80.7,90.5 80.9,95.0 81.2,91.5 81.4,92.8 81.7,89.2 81.9,91.8 82.2,87.9 82.4,91.0 82.6,86.1 82.7,91.3 82.9,87.2 83.2,91.3 83.4,86.5 83.7,89.2 83.9,86.4 84.2,89.7 84.4,84.2 84.7,87.9 84.9,84.2 85.2,88.3 85.4,84.8 85.7,88.6 85.9,82.8 86.2,87.0 86.2,83.0 86.4,86.7 86.7,82.2 86.9,86.2 87.2,84.3 87.4,87.8 87.7,85.5 87.9,91.1 88.2,87.9 88.4,91.6 88.7,88.7 88.9,93.0 89.2,91.0 89.4,95.5 89.7,89.9 89.9,95.8 90.2,92.7 90.4,96.6 90.5,91.7 90.7,96.3 90.9,94.2 91.2,99.4 91.4,96.2 91.7,101.3 91.9,96.4 92.2,102.0 92.4,97.8 92.7,100.6 92.9,98.0 93.2,101.6 93.4,98.5 93.7,102.9 93.9,99.4 94.2,103.0 94.4,101.3 94.6,104.2 94.7,101.5 94.9,104.2 95.2,100.8 95.4,103.4 95.7,100.3 95.9,103.2 96.2,100.8 96.4,103.4 96.7,99.9 96.9,104.5 97.2,100.9 97.4,103.2 97.7,99.3 97.9,101.1 98.2,96.2 98.4,102.1 98.7,99.4 98.9,102.4 99.2,98.9 99.4,102.0 99.6,98.4 99.7,102.4 99.9,97.8 100.2,99.9 100.4,96.5 100.7,97.5 100.9,94.0 101.2,96.4 101.4,92.9 101.7,96.8 101.9,91.1 102.2,93.6 102.4,90.2 102.7,93.0 102.9,90.5 103.2,93.3 103.4,87.9 103.7,92.1 103.9,88.1 104.2,93.4 104.4,86.7 104.7,91.2 104.9,86.2 105.2,89.6 105.4,83.8 105.7,88.3 105.9,85.9 106.2,89.4 106.4,86.4 106.7,90.8 106.9,87.2 107.2,92.2 107.4,87.0 107.7,90.2 107.9,87.3 108.2,91.8 108.4,85.3 108.7,91.3"/>
<polyline stroke="#ff00ff" stroke-width="1.2" points="108.7,91.3 108.9,99.3 109.2,110.6 109.2,113.0 109.4,127.7 109.5,139.0 109.7,178.9 109.9,245.0 110.2,251.8 110.4,256.0 110.7,259.9"/>
<polyline stroke="#ff00ff" stroke-width="2.0" points="110.7,259.9 110.9,259.9 111.1,261.9 111.2,260.6 111.4,263.6 111.7,263.7 111.9,268.0 112.2,265.9 112.4,269.1 112.7,267.3 112.9,270.7 113.2,269.2 113.4,273.1 113.7,269.0 113.9,274.4 114.2,272.4 114.4,275.8 114.7,272.4 114.9,274.5 115.2,271.6 115.4,275.7 115.7,272.1 115.9,274.4 116.2,271.9 116.4,276.0 116.7,272.2 116.9,274.7 117.2,273.4 117.4,276.0 117.7,274.5 117.9,276.2 118.2,272.1 118.4,274.9 118.6,270.8 118.7,274.4 118.9,270.7 119.2,273.2 119.4,271.4 119.7,273.0 119.9,270.7 120.2,273.2 120.4,269.7 120.7,274.2 120.9,270.9 121.2,274.4 121.4,269.9 121.7,271.6 121.9,268.9 122.2,269.9 122.3,267.7 122.4,269.8 122.7,267.7 122.9,271.4 123.2,266.1 123.4,268.1 123.7,264.4 123.9,264.8 124.2,260.6 124.4,261.8 124.7,257.4 124.9,258.3 125.2,255.0 125.4,255.9 125.7,251.4 125.9,254.8 126.2,249.1 126.4,251.2 126.7,247.7 126.9,250.4 127.2,246.7 127.3,248.7 127.4,245.5 127.7,247.1 127.9,244.9 128.2,245.4 128.4,242.4 128.7,245.6 128.9,241.9 129.2,243.8 129.4,238.3 129.7,242.9 129.9,238.7 130.2,241.1 130.4,238.7 130.7,239.5 130.9,236.6 131.2,239.1 131.4,237.3 131.7,239.6 131.9,236.2 132.2,239.0 132.4,235.9 132.7,238.3 132.8,235.2 132.9,236.9 133.2,234.8 133.4,238.4 133.7,236.6 133.9,239.4 134.2,238.2 134.4,240.9 134.7,238.8 134.9,241.4 135.2,240.8 135.4,243.4 135.7,242.2 135.9,245.8 136.2,243.7 136.4,245.8 136.7,244.5 136.9,247.4 137.2,245.4 137.3,248.0 137.4,245.3 137.7,249.0 137.9,247.4 138.2,249.9 138.4,247.7 138.7,251.2 138.9,250.7 139.2,256.5 139.4,252.5 139.7,257.8 139.9,255.1 140.2,258.6 140.4,256.0 140.7,259.7 140.9,258.1 141.2,261.0 141.4,260.1 141.7,263.4 141.9,261.9 142.2,263.3 142.4,260.9 142.5,263.9 142.7,261.5 142.9,263.1 143.2,260.0 143.4,262.7 143.7,258.6 143.9,259.9 144.2,255.1 144.4,257.4 144.7,252.9 144.9,255.6 145.2,249.8 145.4,250.6 145.7,247.1 145.9,249.4 146.0,245.8 146.2,248.6 146.4,245.1 146.7,246.9 146.9,243.3 147.2,245.0 147.4,241.7 147.7,243.7 147.9,241.5 148.2,243.3 148.4,240.1 148.7,242.7 148.9,238.7 149.2,240.4 149.4,237.4 149.7,239.1 149.9,235.4 150.2,236.6 150.4,233.2 150.7,236.5 150.9,233.4 151.0,236.8 151.2,233.1 151.4,236.0 151.7,233.6 151.9,235.9 152.2,234.9 152.4,237.9 152.7,235.2 152.9,237.9 153.2,236.3 153.4,239.7 153.7,237.2 153.9,239.6 154.2,238.1 154.4,239.7 154.7,237.8 154.9,240.4 155.2,238.6 155.4,241.6 155.7,240.1 155.9,242.7 156.0,241.6 156.2,244.1 156.4,242.4 156.7,244.9 156.9,243.0 157.2,245.0 157.4,242.3 157.7,246.6 157.9,244.0 158.2,249.3 158.4,246.9 158.7,251.1 158.9,248.0 159.2,253.4 159.4,251.5 159.7,253.5 159.9,251.8 160.2,256.3 160.4,252.2 160.7,258.2 160.9,255.9 161.0,259.1 161.2,257.1 161.4,259.6 161.7,258.6 161.9,262.6 162.2,260.6 162.4,262.9 162.7,261.7 162.9,264.7 163.2,259.9 163.4,263.6 163.7,262.6 163.9,266.9 164.2,264.1 164.4,266.9 164.7,264.6 164.9,267.9 165.2,265.6 165.4,269.1 165.7,264.8 165.9,270.4 166.0,267.5 166.2,269.8 166.4,267.5 166.7,271.7 166.9,269.6 167.2,272.3 167.4,271.3 167.7,273.9 167.9,271.7 168.2,273.6 168.4,270.5 168.7,273.4 168.9,271.9 169.2,275.9 169.4,272.7 169.7,277.3 169.9,275.7 170.2,278.7 170.4,276.2 170.7,278.6 170.9,274.5 171.0,279.4 171.2,275.7 171.4,279.3 171.7,275.4 171.9,278.5 172.2,274.4 172.4,278.6 172.7,277.1 172.9,279.5 173.2,277.4 173.4,280.6 173.7,278.6 173.9,281.2 174.2,277.0 174.4,282.2 174.7,277.8 174.8,282.1 174.9,276.6 175.2,279.1 175.4,276.5 175.7,279.0 175.9,277.3 176.2,279.7 176.4,275.6 176.7,278.4 176.9,276.3 177.2,279.5 177.4,276.7 177.7,278.9 177.7,277.1 177.9,279.0 178.2,276.0 178.4,277.3 178.7,272.7 178.9,273.3 179.2,270.3"/>
<polyline stroke="#ff00ff" stroke-width="1.2" points="179.2,270.3 179.4,269.1 179.7,265.1 179.7,265.0 179.9,260.1 180.2,248.7 180.4,232.5 180.7,198.7 180.9,153.9 181.0,140.0 181.2,122.5 181.4,95.8 181.7,77.2 181.7,75.0 181.9,67.8"/>
<polyline stroke="#ff00ff" stroke-width="2.0" points="181.9,67.8 182.2,64.7 182.2,61.8 182.4,64.1 182.7,58.6 182.9,63.0 183.2,57.5 183.4,60.3 183.7,57.6 183.9,59.9 184.2,56.1 184.4,60.6 184.7,57.4 184.9,59.7 185.2,56.1 185.4,58.4 185.7,54.9 185.9,59.2 186.2,57.3 186.4,61.4 186.7,56.9 186.9,61.2 187.1,58.0 187.2,60.6 187.4,57.4 187.7,59.5 187.9,55.8 188.2,60.1 188.4,56.3 188.7,59.6 188.9,55.9 189.2,59.7 189.4,55.3 189.7,58.5 189.9,54.8 190.2,59.5 190.4,54.4 190.7,58.9 190.9,56.4 191.2,58.7 191.4,55.4 191.7,59.3 191.9,56.6 192.1,60.3 192.2,57.5 192.4,60.3 192.7,57.4 192.9,60.4 193.2,56.2 193.4,60.9 193.7,56.9 193.9,62.0 194.2,57.9 194.4,60.7 194.7,55.7 194.9,60.8 195.2,56.6 195.4,62.4 195.7,58.1 195.9,60.9 196.2,56.4 196.4,61.0 196.7,58.9 196.9,60.8 197.2,57.0 197.4,60.1 197.7,58.5 197.9,63.1 198.2,57.1 198.4,62.7 198.7,58.0 198.9,62.0 199.2,58.0 199.4,62.9 199.6,56.6 199.7,60.8 199.9,58.1 200.2,62.1 200.4,58.1 200.7,61.2 200.9,57.6 201.2,61.2 201.4,58.9 201.7,61.3 201.9,58.0 202.2,61.8 202.4,59.2 202.7,64.1 202.9,59.5 203.2,62.0 203.4,58.9 203.7,64.3 203.9,60.2 204.2,62.3 204.4,59.0 204.7,62.6 204.9,59.7 205.2,63.3 205.4,61.0 205.7,64.9 205.8,61.1 205.9,64.2 206.2,61.4 206.4,64.7 206.7,59.5 206.9,66.4 207.2,61.0 207.4,66.3 207.7,64.9 207.9,70.0 208.2,68.0 208.4,72.0 208.7,67.9 208.9,72.9 209.2,69.9 209.4,73.2 209.6,68.5 209.7,75.1 209.9,70.9 210.2,76.5 210.4,74.9 210.7,80.0 210.9,76.9 211.2,80.9 211.4,79.7 211.7,82.2 211.9,79.5 212.2,84.5 212.4,80.6 212.7,88.9 212.9,84.8 213.2,88.4 213.3,86.8 213.4,91.3 213.7,87.9 213.9,92.8 214.2,90.8 214.4,96.4 214.7,93.8 214.9,98.4 215.2,97.5 215.4,99.7 215.7,97.2 215.9,102.2 216.2,96.6 216.4,102.9 216.6,98.8 216.7,101.7 216.9,98.7 217.2,100.5 217.4,97.8 217.7,101.4 217.9,95.8 218.2,99.0 218.4,95.7 218.7,97.9 218.9,94.2 219.2,97.9 219.4,93.1 219.7,94.7 219.9,91.4 220.0,94.2 220.2,88.7 220.4,92.7 220.7,88.8 220.9,90.6 221.2,85.8 221.4,88.9 221.7,83.3 221.9,85.7 222.2,81.4 222.4,83.5 222.7,77.8 222.9,83.3 223.2,78.4 223.4,82.4 223.7,76.7 223.9,79.9 224.2,76.0 224.4,77.5 224.7,73.1 224.9,75.1 225.2,71.9 225.4,73.8 225.7,68.9 225.8,74.0 225.9,71.8 226.2,76.6 226.4,72.1 226.7,77.2 226.9,74.5 227.2,79.0 227.4,75.4 227.7,77.3 227.9,74.6 228.2,80.5 228.4,75.2 228.7,78.5 228.9,75.4 229.2,82.2 229.4,79.2 229.7,82.8 229.9,80.4 230.2,87.1 230.4,81.3 230.5,84.4 230.7,81.2 230.9,87.7 231.2,84.1 231.4,87.7 231.7,84.1 231.9,87.1 232.2,85.0 232.4,88.9 232.7,85.1 232.9,90.3 233.2,86.5 233.4,90.7 233.7,88.7 233.9,91.2 234.2,89.9 234.4,95.1 234.7,90.2 234.9,95.6 235.2,89.9 235.4,94.0 235.5,88.3 235.7,93.3 235.9,89.8 236.2,93.1 236.4,88.3 236.7,91.5 236.9,90.0 237.2,91.7 237.4,87.8 237.7,92.3 237.9,88.5 238.2,91.8 238.4,87.3 238.7,89.2 238.9,85.7 239.2,89.3 239.4,84.8 239.7,88.4 239.9,84.7 240.0,86.3 240.2,83.4 240.4,86.0 240.7,82.0 240.9,85.1 241.2,78.9 241.4,85.0 241.7,79.3 241.9,80.5 242.2,76.6 242.4,81.8 242.7,75.7 242.9,78.2 243.2,74.7 243.4,78.4 243.7,72.4 243.9,75.5 244.2,71.1 244.4,74.3 244.7,69.7 244.9,74.1 245.0,70.9 245.2,74.5 245.4,70.7 245.7,73.6 245.9,69.9 246.2,73.6 246.4,67.4 246.7,73.3 246.9,68.9 247.2,72.6 247.4,67.8 247.7,71.7 247.9,69.1 248.2,71.0 248.4,67.4 248.7,72.7 248.9,67.9 249.2,70.0 249.4,67.1 249.5,70.3 249.7,65.9 249.9,71.9 250.2,66.4 250.4,71.7 250.7,69.1 250.9,75.4 251.2,73.9 251.2,75.9 251.4,77.6"/>
<polyline stroke="#ff00ff" stroke-width="1.2" points="251.4,77.6 251.7,85.8 251.7,88.0 251.9,132.7 252.2,221.5 252.3,245.0"/>
<polyline stroke="#ff00ff" stroke-width="2.0" points="252.3,245.0 252.4,244.4 252.7,246.5 252.9,245.0 253.2,248.9 253.4,244.4 253.7,248.9 253.7,245.9 253.9,249.6 254.2,247.1 254.4,251.4 254.7,247.6 254.9,252.1 255.2,250.6 255.4,253.6 255.7,252.9 255.9,257.8 256.1,256.0 256.2,258.3 256.4,255.6 256.6,259.7 256.9,255.7 257.1,259.6 257.4,255.8 257.6,261.3 257.9,258.9 258.1,260.9 258.4,260.0 258.6,262.5 258.9,261.2 259.1,264.1 259.4,260.3 259.6,264.0 259.9,261.0 260.0,265.1 260.1,262.9 260.4,266.3 260.6,263.6 260.9,268.5 261.1,265.5 261.4,269.1 261.6,264.0 261.9,267.2 262.1,263.2 262.4,265.6 262.6,263.4 262.9,264.9 263.0,262.9 263.1,266.0 263.4,263.4 263.6,265.9 263.9,262.5 264.1,265.8 264.4,263.4 264.6,265.9 264.9,261.5 265.1,264.5 265.4,261.0 265.6,264.3 265.9,260.9 266.1,262.7 266.2,258.9 266.4,262.1 266.6,260.0 266.9,260.5 267.1,257.1 267.4,259.3 267.6,255.5 267.9,256.8 268.1,254.0 268.4,255.1 268.6,251.9 268.9,253.1 269.1,249.5 269.4,250.8 269.6,246.6 269.9,247.7 270.1,244.4 270.4,245.7 270.6,242.9 270.9,244.4 271.1,241.3 271.2,243.0 271.4,240.8 271.6,243.3 271.9,240.0 272.1,243.1 272.4,237.7 272.6,239.5 272.9,236.5 273.1,238.1 273.4,234.5 273.6,236.3 273.9,234.6 274.1,234.8 274.4,232.4 274.6,234.2 274.9,231.2 275.1,233.4 275.4,230.0 275.6,233.6 275.9,228.8 276.1,231.6 276.4,227.6 276.6,233.1 276.6,230.1 276.9,232.9 277.1,230.1 277.4,233.7 277.6,231.6 277.9,233.8 278.1,231.7 278.4,234.1 278.6,233.7 278.9,236.7 279.1,235.9 279.4,238.7 279.6,236.8 279.9,241.9 280.1,238.1 280.4,241.3 280.6,238.0 280.9,242.9 281.1,240.4 281.1,242.6 281.4,241.9 281.6,244.8 281.9,243.8 282.1,247.1 282.4,244.4 282.6,248.0 282.9,246.1 283.1,249.9 283.4,247.6 283.6,250.3 283.9,249.5 284.1,252.3 284.4,249.6 284.6,253.4 284.9,250.5 285.1,252.9 285.4,248.9 285.6,253.4 285.9,248.3 286.1,252.2 286.4,248.4 286.6,251.1 286.9,247.5 287.1,249.2 287.4,246.5 287.6,248.1 287.9,244.5 288.1,245.5 288.4,242.6 288.6,243.6 288.9,238.5 289.1,241.6 289.4,238.7 289.6,240.5 289.9,237.0 290.1,240.7 290.4,234.9 290.6,238.6 290.9,234.7 291.1,236.8 291.4,231.6 291.6,233.7 291.9,230.3 292.1,231.8 292.4,229.8 292.6,231.7 292.9,226.4 293.1,231.2 293.4,226.9 293.6,229.4 293.9,226.9 294.1,229.3 294.4,226.0 294.6,228.6 294.8,226.1 294.9,228.0 295.1,225.0 295.4,227.5 295.6,226.5 295.9,229.5 296.1,227.1 296.4,229.1 296.6,227.3 296.9,228.7 297.1,226.3 297.4,230.1 297.6,226.5 297.9,230.3 298.1,228.7 298.4,231.4 298.6,230.3 298.9,233.6 299.1,231.9 299.4,235.5 299.6,234.1 299.8,236.2 299.9,233.9 300.1,236.5 300.4,234.1 300.6,237.2 300.9,235.9 301.1,237.6 301.4,235.7 301.6,239.6 301.9,237.8 302.1,240.0 302.4,240.2 302.6,243.8 302.9,241.4 303.1,247.3 303.4,245.3 303.6,250.2 303.9,246.9 304.1,251.7 304.4,248.7 304.6,251.8 304.8,248.6 304.9,251.4 305.1,249.4 305.4,253.7 305.6,248.6 305.9,254.0 306.1,253.1 306.4,255.8 306.6,253.6 306.9,257.9 307.1,255.8 307.4,258.9 307.6,256.8 307.9,258.6 308.1,256.8 308.4,258.8 308.6,257.9 308.9,260.3 309.1,258.6 309.4,262.3 309.6,259.5 309.8,261.9 309.9,260.0 310.1,264.0 310.4,261.1 310.6,264.7 310.9,261.0 311.1,264.6 311.4,262.2 311.6,265.8 311.9,262.9 312.1,267.1 312.4,265.8 312.6,268.3 312.9,266.0 313.1,270.1 313.4,266.6 313.6,270.4 313.9,267.1 314.1,270.1 314.4,268.2 314.6,271.9 314.8,268.5 314.9,270.9 315.1,268.4 315.4,271.2 315.6,268.4 315.9,271.6 316.1,270.5 316.4,274.3 316.6,268.2 316.9,272.3 317.1,270.4 317.4,271.7 317.6,268.5 317.9,271.6 318.1,269.4 318.4,272.2 318.6,269.3 318.9,272.9 319.1,270.8 319.3,273.6 319.4,271.4 319.6,273.3 319.9,269.1 320.1,272.1 320.4,269.1 320.6,272.3 320.9,268.3 321.1,272.2 321.4,268.3 321.6,270.6 321.8,268.0 321.9,269.2 322.1,266.3 322.4,266.1"/>
<polyline stroke="#ff00ff" stroke-width="1.2" points="322.4,266.1 322.6,261.9 322.9,259.3 323.1,255.1 323.4,251.8 323.5,249.7 323.6,247.5 323.9,241.7 324.1,233.8 324.3,227.5 324.4,220.9 324.6,191.3 324.9,154.0 325.0,140.0 325.1,115.6 325.4,76.0 325.5,70.0 325.6,67.2 325.9,65.3 326.1,61.3"/>
<polyline stroke="#ff00ff" stroke-width="2.0" points="326.1,61.3 326.4,61.4 326.6,57.9 326.9,60.0 327.1,54.7 327.4,57.5 327.6,53.9 327.9,54.2 328.1,51.5 328.4,53.6 328.5,50.2 328.6,55.3 328.9,49.3 329.1,53.8 329.4,52.0 329.6,54.4 329.9,49.6 330.1,56.4 330.4,51.9 330.6,55.7 330.9,51.3 331.1,56.4 331.4,53.3 331.6,55.5 331.9,50.7 332.1,54.8 332.4,49.0 332.6,53.5 332.9,51.1 333.1,54.7 333.4,50.6 333.6,55.3 333.9,52.5 334.1,55.6 334.4,52.9 334.6,56.1 334.7,51.8 334.9,55.3 335.1,51.5 335.4,55.7 335.6,52.0 335.9,55.2 336.1,53.0 336.4,56.2 336.6,51.6 336.9,55.5 337.1,49.7 337.4,54.8 337.6,50.7 337.9,53.7 338.1,50.8 338.4,56.2 338.6,49.0 338.9,55.7 339.1,52.8 339.4,55.8 339.6,51.9 339.7,55.2 339.9,52.2 340.1,55.0 340.4,52.0 340.6,55.1 340.9,50.9 341.1,53.3 341.4,50.5 341.6,56.5 341.9,51.1 342.1,54.0 342.4,49.0 342.6,55.5 342.9,51.2 343.1,56.3 343.4,51.3 343.6,57.4 343.9,52.0 344.1,54.7 344.4,53.5 344.6,56.2 344.9,53.3 345.1,54.6 345.4,51.1 345.6,56.2 345.9,52.3 346.1,57.7 346.4,50.9 346.6,56.1 346.9,53.3 347.1,56.7 347.2,53.3 347.4,55.5 347.6,53.6 347.9,58.5 348.1,54.4 348.4,56.7 348.6,53.7 348.9,57.5 349.1,54.3 349.4,58.0 349.6,54.3 349.9,60.2 350.1,57.3 350.4,60.9 350.6,57.9 350.9,63.2 351.1,59.6 351.4,63.8 351.6,58.6 351.9,64.2 352.1,60.8 352.2,64.2 352.4,61.0 352.6,63.5 352.9,61.3 353.1,65.7 353.4,63.0 353.6,68.7 353.9,66.8 354.1,71.7 354.4,70.9 354.6,74.8 354.9,72.7 355.1,77.1 355.4,73.4 355.6,78.3 355.9,75.5 356.1,80.2 356.4,75.4 356.6,82.9 356.9,80.2 357.1,83.7 357.4,80.3 357.6,85.1 357.9,79.8 358.1,86.3 358.4,83.1 358.6,88.0 358.9,84.9 359.1,90.6 359.4,86.3 359.6,91.7 359.6,86.6 359.9,91.0 360.1,87.6 360.4,92.1 360.6,89.8 360.9,93.9 361.1,90.6 361.4,96.3 361.6,89.6 361.9,95.6 362.1,89.0 362.4,91.1 362.6,87.2 362.9,90.3 363.1,86.4 363.4,87.9 363.6,85.2 363.9,87.0 364.1,80.7 364.4,84.4 364.6,80.2 364.6,84.4 364.9,79.0 365.1,82.2 365.4,75.6 365.6,79.1 365.9,74.8 366.1,77.0 366.4,72.7 366.6,76.1 366.9,70.6 367.1,77.3 367.4,71.1 367.6,73.5 367.9,70.0 368.1,70.6 368.4,66.0 368.6,69.0 368.9,65.9 369.1,69.0 369.4,64.5 369.6,70.5 369.6,66.7 369.9,69.8 370.1,65.3 370.4,70.4 370.6,67.3 370.9,73.3 371.1,68.7 371.4,71.9 371.6,69.1 371.9,75.2 372.1,71.1 372.4,75.6 372.6,72.0 372.9,75.8 373.1,72.3 373.4,75.6 373.6,72.0 373.9,77.5 374.1,75.1 374.4,79.9 374.6,75.9 374.9,79.4 375.1,76.6 375.4,81.0 375.6,76.0 375.9,82.7 376.1,79.6 376.4,84.2 376.6,82.2 376.9,86.8 377.1,83.4 377.4,87.0 377.6,85.3 377.9,90.6 378.1,86.4 378.3,88.4 378.4,85.3 378.6,88.6 378.9,85.5 379.1,88.2 379.4,83.5 379.6,86.6 379.9,83.3 380.1,86.5 380.4,83.1 380.6,85.3 380.9,80.0 381.1,84.9 381.4,79.6 381.6,83.0 381.9,80.7 382.1,84.1 382.4,79.4 382.6,82.4 382.9,78.1 383.1,81.4 383.4,77.3 383.6,80.2 383.9,76.8 384.1,78.1 384.4,75.8 384.6,77.7 384.6,75.0 384.9,77.5 385.1,74.6 385.4,79.1 385.6,73.7 385.9,76.3 386.1,72.2 386.4,75.3 386.6,70.5 386.9,73.5 387.1,69.7 387.4,72.5 387.6,67.6 387.9,72.6 388.1,68.2 388.4,70.2 388.6,63.9 388.9,67.3 389.1,64.1 389.4,67.4 389.5,63.2 389.6,66.6 389.9,62.9 390.1,67.9 390.4,62.5 390.6,68.8 390.9,63.5 391.1,65.8 391.4,62.4 391.6,65.6 391.9,63.1 392.1,65.6 392.4,62.7 392.5,65.8 392.6,62.3 392.9,65.8 393.1,63.0 393.4,66.6 393.6,63.8 393.9,69.2 394.1,68.7 394.4,73.1 394.5,71.1 394.6,74.6"/>
<polyline stroke="#ff00ff" stroke-width="1.2" points="394.6,74.6 394.9,78.7 395.1,86.2 395.2,88.0 395.4,107.0 395.6,151.6 395.9,199.3 396.1,228.3 396.2,230.0 396.4,232.6"/>
<polyline stroke="#ff00ff" stroke-width="2.0" points="396.4,232.6 396.6,236.1 396.9,234.6 397.1,239.2 397.4,236.5 397.6,242.5 397.9,241.9 398.1,245.7 398.4,243.8 398.6,247.0 398.9,247.5 399.1,251.5 399.4,249.0 399.6,251.6 399.9,249.1 400.1,254.0 400.4,249.7 400.6,253.8 400.9,251.6 401.1,254.8 401.4,253.0 401.6,255.0 401.9,254.1 402.1,256.5 402.4,255.0 402.6,258.2 402.9,253.9 403.1,258.2 403.4,255.3 403.6,257.7 403.9,253.5 404.1,258.3 404.4,255.8 404.6,257.9 404.9,256.6 405.1,259.7 405.4,257.9 405.6,259.6 405.9,255.9 406.1,259.5 406.4,256.8 406.6,258.9 406.9,256.9 407.1,258.9 407.4,255.8 407.6,258.5 407.9,255.5 408.1,258.0 408.4,252.9 408.6,256.1 408.7,254.6 408.9,256.4 409.1,252.7 409.4,254.5 409.6,251.5 409.9,254.2 410.1,250.4 410.4,251.5 410.6,247.6 410.9,249.2 411.1,246.8 411.4,248.0 411.6,243.9 411.9,246.4 412.1,243.0 412.4,243.0 412.6,240.7 412.9,240.7 413.1,237.1 413.4,239.0 413.6,237.2 413.6,238.8 413.9,235.3 414.1,238.4 414.4,234.3 414.6,235.7 414.9,232.3 415.1,235.3 415.4,231.1 415.6,233.1 415.9,228.5 416.1,232.3 416.4,227.9 416.6,231.2 416.9,227.5 417.1,229.4 417.4,227.0 417.6,230.3 417.9,225.4 418.1,228.9 418.4,226.2 418.6,227.6 418.9,224.6 419.1,227.0 419.4,224.6 419.6,227.2 419.9,225.4 420.1,228.6 420.4,225.1 420.6,227.6 420.9,225.4 421.1,230.9 421.4,226.5 421.6,228.9 421.9,227.2 422.1,231.0 422.4,227.7 422.6,228.7 422.9,227.6 423.1,230.0 423.4,228.3 423.6,230.8 423.6,228.7 423.9,232.9 424.1,229.4 424.4,232.3 424.6,230.1 424.9,233.3 425.1,230.6 425.4,235.5 425.6,234.7 425.9,238.6 426.1,235.2 426.4,239.9 426.6,237.4 426.9,239.6 427.1,236.1 427.4,240.5 427.6,239.1 427.9,243.2 428.1,240.1 428.4,245.7 428.6,242.1 428.6,243.4 428.9,240.3 429.1,243.4 429.4,240.1 429.6,241.8 429.9,240.0 430.1,242.4 430.4,238.3 430.6,240.8 430.9,238.0 431.1,240.6 431.4,237.1 431.6,239.5 431.9,237.4 432.1,238.5 432.4,234.6 432.6,237.5 432.9,234.5 433.1,235.6 433.4,231.9 433.6,232.8 433.6,231.4 433.9,233.5 434.1,230.4 434.4,230.7 434.6,227.7 434.9,230.9 435.1,227.9 435.4,228.3 435.6,224.2 435.9,228.1 436.1,225.4 436.4,228.5 436.6,224.1 436.9,226.1 437.1,221.2 437.4,223.2 437.6,220.5 437.9,220.9 438.1,216.6 438.4,221.6 438.6,217.8 438.9,219.4 439.1,217.1 439.1,219.3 439.4,217.3 439.6,220.2 439.9,216.4 440.1,219.9 440.4,217.7 440.6,220.8 440.9,218.5 441.1,221.7 441.4,219.9 441.6,223.6 441.9,221.8 442.1,223.8 442.4,222.8 442.6,227.0 442.9,224.2 443.1,226.9 443.4,225.2 443.6,229.0 443.9,224.9 444.1,229.7 444.4,226.8 444.6,229.5 444.9,228.6 445.1,231.0 445.3,229.1 445.4,231.5 445.6,229.3 445.9,233.6 446.1,230.5 446.4,233.8 446.6,232.3 446.9,235.9 447.1,233.7 447.4,236.9 447.6,235.3 447.9,239.5 448.1,237.5 448.4,242.2 448.6,240.0 448.9,244.4 449.1,242.3 449.4,245.2 449.6,244.0 449.9,246.7 450.1,243.8 450.4,247.1 450.6,245.8 450.9,248.5 451.0,246.6 451.1,249.7 451.4,247.4 451.6,250.4 451.9,247.5 452.1,250.4 452.4,248.9 452.6,252.8 452.9,250.2 453.1,254.0 453.4,252.9 453.6,256.0 453.9,253.9 454.1,257.2 454.4,255.1 454.6,258.5 454.9,255.0 455.1,259.9 455.4,256.0 455.6,259.1 455.9,258.1 456.0,259.9 456.1,257.4 456.4,262.8 456.6,258.6 456.9,261.9 457.1,259.1 457.4,261.7 457.6,257.9 457.9,261.3 458.1,259.5 458.4,262.0 458.6,258.7 458.9,263.0 459.1,261.4 459.4,264.1 459.6,260.7 459.9,264.0 460.1,261.6 460.4,264.2 460.6,261.3 460.9,264.9 461.0,262.6 461.1,264.9 461.4,263.2 461.6,265.5 461.9,262.7 462.1,265.7 462.4,262.1 462.6,265.2 462.9,263.0 463.1,267.7 463.4,264.3 463.6,266.8 463.9,263.5 464.1,267.8 464.2,265.6 464.4,266.5 464.6,265.1 464.9,267.7 465.1,262.0 465.4,264.8 465.6,261.1 465.9,265.5 466.1,259.7 466.2,263.2 466.4,260.1"/>
<polyline stroke="#ff00ff" stroke-width="1.2" points="466.4,260.1 466.6,256.1 466.9,249.3 467.1,241.6 467.2,240.0 467.4,233.2 467.6,222.3 467.9,207.4 468.0,200.0 468.1,180.3 468.4,130.6 468.6,100.0 468.6,95.4 468.9,74.6 469.1,62.5 469.2,62.6"/>
<polyline stroke="#ff00ff" stroke-width="2.0" points="469.2,62.6 469.4,59.8 469.6,61.2 469.9,55.4 470.1,59.4 470.4,55.3 470.6,57.2 470.9,53.5 471.1,56.5 471.4,53.5 471.6,56.5 471.9,53.7 472.1,56.1 472.3,53.6 472.4,55.9 472.6,51.7 472.9,55.0 473.1,52.3 473.4,56.6 473.6,52.4 473.9,55.3 474.1,51.7 474.4,53.3 474.6,49.8 474.9,52.6 475.1,47.5 475.4,52.0 475.6,48.3 475.9,52.5 476.1,49.8 476.4,53.7 476.6,50.3 476.9,53.2 477.1,49.7 477.4,54.6 477.6,49.3 477.9,54.1 478.1,48.9 478.4,52.9 478.6,49.3 478.9,52.5 479.1,49.1 479.4,54.5 479.6,46.9 479.9,50.7 480.1,48.2 480.4,50.9 480.6,46.5 480.9,50.5 481.0,46.5 481.1,52.8 481.4,47.4 481.6,52.2 481.9,48.7 482.1,54.2 482.4,48.2 482.6,55.2 482.9,50.8 483.1,54.3 483.4,50.0 483.6,51.7 483.9,48.3 484.1,53.6 484.4,48.5 484.6,50.8 484.9,47.8 485.1,51.9 485.4,46.5 485.6,51.4 485.9,48.7 486.1,51.6 486.4,48.6 486.6,53.5 486.9,48.2 487.1,51.2 487.4,48.2 487.6,51.9 487.9,45.9 488.1,51.4 488.4,47.0 488.6,53.0 488.9,49.2 489.1,53.8 489.4,48.8 489.6,53.3 489.8,48.7 489.9,54.8 490.1,51.3 490.4,53.2 490.6,50.0 490.9,54.5 491.1,50.7 491.4,54.1 491.6,51.4 491.9,54.4 492.1,51.0 492.4,53.7 492.6,50.2 492.9,53.4 493.1,50.3 493.4,54.1 493.6,52.5 493.9,56.6 494.1,51.5 494.4,58.5 494.6,54.3 494.9,58.6 495.1,54.9 495.4,58.6 495.6,54.4 495.9,59.8 496.0,54.7 496.1,60.1 496.4,56.7 496.6,61.4 496.9,58.7 497.1,63.7 497.4,61.1 497.6,64.1 497.9,63.3 498.1,68.2 498.4,64.9 498.6,70.4 498.9,67.5 499.1,70.3 499.4,68.6 499.6,74.3 499.7,71.8 499.9,75.1 500.1,73.5 500.4,76.5 500.6,74.8 500.9,78.1 501.1,76.5 501.4,80.9 501.6,79.4 501.9,85.3 502.1,83.2 502.4,86.6 502.6,85.5 502.9,89.5 503.1,85.2 503.4,90.4 503.6,87.2 503.9,91.2 504.1,87.9 504.4,90.7 504.6,85.8 504.9,88.8 505.1,86.6 505.4,89.6 505.6,86.2 505.9,88.3 506.1,83.8 506.4,86.1 506.6,81.3 506.9,84.0 507.1,80.4 507.4,83.8 507.6,79.3 507.9,81.1 508.1,75.1 508.4,79.2 508.6,74.1 508.9,76.2 509.1,73.5 509.4,75.0 509.6,70.6 509.7,74.4 509.9,70.4 510.1,72.9 510.4,69.0 510.6,71.8 510.9,68.2 511.1,70.3 511.4,63.5 511.6,67.5 511.9,64.9 512.1,69.1 512.4,61.8 512.6,66.2 512.9,60.5 513.1,64.8 513.4,59.3 513.6,66.8 513.9,61.6 514.1,67.3 514.4,62.9 514.6,66.3 514.9,63.2 515.1,65.1 515.4,63.0 515.6,67.3 515.9,64.7 516.1,69.0 516.4,65.3 516.6,68.6 516.9,66.6 517.1,68.4 517.2,64.1 517.4,68.3 517.6,64.4 517.9,69.8 518.1,67.8 518.4,71.9 518.6,69.1 518.9,73.1 519.1,70.0 519.4,74.0 519.6,72.4 519.9,75.5 520.1,71.2 520.4,75.2 520.6,71.7 520.9,76.2 521.1,71.9 521.4,77.7 521.6,74.1 521.9,79.9 522.1,75.4 522.2,78.6 522.4,74.7 522.6,79.2 522.9,75.9 523.1,77.7 523.4,72.6 523.6,77.3 523.9,72.9 524.1,74.6 524.4,72.5 524.6,75.9 524.9,71.6 525.1,74.5 525.4,71.7 525.6,75.5 525.9,69.9 526.1,74.1 526.4,72.2 526.6,74.6 526.9,71.7 527.1,73.7 527.1,69.8 527.4,72.8 527.6,69.0 527.9,74.1 528.1,68.4 528.4,71.1 528.6,69.3 528.9,72.5 529.1,68.1 529.4,70.7 529.6,65.8 529.9,69.2 530.1,64.4 530.4,66.7 530.6,64.5 530.9,66.7 531.1,62.7 531.4,67.8 531.6,61.9 531.9,64.6 532.1,59.8 532.1,63.5 532.4,59.9 532.6,63.2 532.9,60.0 533.1,62.7 533.4,56.7 533.6,60.8 533.9,57.4 534.1,60.7 534.4,56.0 534.6,59.1 534.9,55.5 535.1,58.5 535.4,53.4 535.6,57.9 535.9,54.4 536.1,59.6 536.4,54.9 536.6,58.2 536.9,56.0 537.1,57.3 537.4,55.3 537.6,58.1 537.9,55.0 538.0,57.9 538.1,55.4 538.4,62.0"/>
<polyline stroke="#ff00ff" stroke-width="1.2" points="538.4,62.0 538.6,66.5 538.9,72.5 539.0,74.9 539.1,79.1 539.4,88.4 539.6,100.0 539.6,105.4 539.9,169.0 540.1,227.0 540.2,230.0 540.4,232.4 540.6,235.9"/>
<polyline stroke="#ff00ff" stroke-width="2.0" points="540.6,235.9 540.9,236.5 541.1,240.9 541.4,239.6 541.6,244.0 541.9,242.9 542.1,246.8 542.4,245.3 542.6,250.0 542.9,246.8 543.1,250.7 543.4,248.1 543.6,252.3 543.9,250.7 544.1,254.5 544.4,251.9 544.6,255.3 544.9,251.9 545.1,256.0 545.4,253.0 545.6,256.8 545.9,254.7 546.1,258.0 546.4,256.6 546.6,258.6 546.9,256.1 547.1,259.8 547.4,258.6 547.6,261.1 547.9,258.9 548.1,260.8 548.4,259.2 548.6,262.0 548.6,257.9 548.9,260.7 549.1,257.2 549.4,260.0 549.6,257.0 549.9,260.6 550.1,257.9 550.4,261.8 550.6,257.9 550.9,259.7 551.1,257.0 551.4,259.1 551.6,256.0 551.9,258.1 552.1,254.5 552.4,256.7 552.6,252.6 552.9,254.5 553.1,249.4 553.4,252.4 553.6,248.4 553.9,249.5 554.1,245.4 554.4,250.2 554.6,244.8 554.9,246.2 555.1,242.3 555.4,243.5 555.6,238.9 555.9,241.1 556.1,237.7 556.4,238.8 556.6,236.4 556.9,237.7 557.1,233.4 557.4,235.6 557.6,233.3 557.9,235.0 558.1,232.0 558.4,234.9 558.6,230.8 558.9,233.5 559.1,228.7 559.4,233.1 559.6,229.2 559.9,230.7 560.1,226.8 560.4,228.9 560.6,224.9 560.9,227.0 561.1,223.8 561.4,225.9 561.6,224.2 561.9,225.9 562.1,223.7 562.4,224.9 562.6,222.6 562.9,225.5 563.1,223.6 563.4,224.8 563.6,221.6 563.6,225.1 563.9,221.6 564.1,226.1 564.4,221.4 564.6,224.7 564.9,222.6 565.1,225.4 565.4,223.6 565.6,226.5 565.9,224.4 566.1,226.2 566.4,225.1 566.6,227.1 566.9,225.0 567.1,227.5 567.4,225.8 567.6,229.6 567.9,226.1 568.1,230.4 568.4,227.7 568.6,231.6 568.6,227.2 568.9,231.3 569.1,230.4 569.4,233.1 569.6,231.1 569.9,233.8 570.1,232.4 570.4,236.1 570.6,233.9 570.9,236.5 571.1,235.5 571.4,239.5 571.6,237.9 571.9,241.8 572.1,240.5 572.4,243.4 572.6,241.5 572.9,244.1 573.1,241.6 573.2,242.6 573.4,238.7 573.6,243.3 573.9,239.6 574.1,243.6 574.4,238.4 574.6,239.6 574.9,236.3 575.1,236.6 575.4,233.5 575.6,234.3 575.9,231.7 576.1,234.2 576.4,229.2 576.6,232.3 576.9,228.0 577.1,229.9 577.3,227.1 577.4,229.2 577.6,226.0 577.9,228.0 578.1,224.3 578.4,225.0 578.6,221.5 578.9,223.7 579.1,220.0 579.4,222.2 579.6,220.3 579.9,222.7 580.1,219.2 580.4,222.0 580.6,218.7 580.9,220.1 581.1,216.2 581.4,218.0 581.6,213.7 581.9,217.8 582.1,214.1 582.4,215.7 582.6,213.4 582.9,215.4 583.1,212.7 583.4,214.4 583.5,211.1 583.6,213.3 583.9,212.0 584.1,213.7 584.4,212.0 584.6,214.8 584.9,212.1 585.1,216.0 585.4,214.2 585.6,217.7 585.9,215.9 586.1,219.6 586.4,216.1 586.6,217.5 586.9,215.2 587.1,219.4 587.4,217.9 587.6,221.4 587.9,219.0 588.1,222.0 588.4,219.0 588.6,222.1 588.9,220.3 589.1,224.9 589.4,222.6 589.6,225.3 589.8,223.8 589.9,226.0 590.1,221.7 590.4,226.3 590.6,224.8 590.9,227.6 591.1,225.0 591.4,228.7 591.6,228.4 591.9,231.1 592.1,229.8 592.4,233.7 592.6,231.3 592.9,235.8 593.1,233.0 593.4,237.7 593.6,234.3 593.9,239.4 594.1,236.8 594.4,241.3 594.6,237.2 594.8,241.7 594.9,239.4 595.1,242.5 595.4,240.2 595.6,242.7 595.9,242.1 596.1,244.5 596.4,242.2 596.6,246.3 596.9,244.6 597.1,247.9 597.4,245.6 597.6,248.8 597.9,246.4 598.1,248.5 598.4,247.3 598.6,249.8 598.9,248.5 599.1,249.8 599.4,248.2 599.6,250.1 599.9,248.8 600.1,251.2 600.4,249.3 600.6,252.9 600.9,249.8 601.0,253.9 601.1,252.5 601.4,255.2 601.6,253.0 601.9,257.4 602.1,252.7 602.4,257.2 602.6,253.7 602.9,257.2 603.1,254.7 603.4,258.2 603.6,254.7 603.9,257.5 604.1,254.9 604.4,258.5 604.6,256.1 604.9,258.3 605.1,256.5 605.4,258.3 605.6,255.4 605.9,257.9 606.0,256.3 606.1,258.6 606.4,256.4 606.6,258.6 606.9,256.9 607.1,258.4 607.4,256.2 607.6,258.8 607.9,256.5 608.1,259.1 608.4,255.9 608.6,259.1 608.9,257.1 609.1,260.0 609.2,256.3 609.4,259.3 609.6,256.2 609.9,256.4 610.1,252.4"/>
<polyline stroke="#ff00ff" stroke-width="1.2" points="610.1,252.4 610.4,249.9 610.6,245.8 610.7,245.0 610.9,234.4 611.1,206.6 611.2,200.0 611.4,150.1 611.6,100.0 611.6,93.1 611.9,65.7 612.0,62.1"/>
<polyline stroke="#ff00ff" stroke-width="2.0" points="612.0,62.1 612.1,60.3 612.4,61.3 612.6,57.6 612.9,60.7 613.1,56.7 613.4,59.2 613.6,54.9 613.9,56.7 614.1,53.9 614.4,58.1 614.6,53.1 614.9,55.5 615.1,52.2 615.3,54.5 615.4,51.3 615.6,54.1 615.9,50.2 616.1,53.0 616.4,51.5 616.6,53.6 616.9,51.1 617.1,54.0 617.4,49.9 617.6,53.0 617.9,49.9 618.1,52.7 618.4,49.4 618.6,52.7 618.9,47.1 619.1,50.9 619.4,48.0 619.6,50.9 619.9,48.4 620.1,51.6 620.4,48.9 620.6,53.1 620.9,49.3 621.1,50.5 621.4,47.6 621.6,50.1 621.9,46.9 622.1,51.2 622.4,46.6 622.6,54.0 622.9,49.3 623.1,52.0 623.4,47.1 623.6,52.2 623.9,48.9 624.0,53.5 624.1,50.1 624.4,53.2 624.6,50.2 624.9,52.8 625.1,49.6 625.4,53.1 625.6,49.8 625.9,53.3 626.1,50.3 626.4,52.4 626.6,49.5 626.9,51.4 627.1,48.4 627.4,51.9 627.6,47.8 627.9,51.3 628.1,48.2 628.4,52.4 628.6,48.2 628.9,50.2 629.1,47.5 629.4,51.4 629.6,47.7 629.9,51.8 630.1,49.1 630.4,54.4 630.6,49.6 630.9,53.9 631.1,47.9 631.4,52.0 631.6,48.7 631.9,52.9 632.1,48.2 632.4,52.5 632.6,49.2 632.8,51.7 632.9,49.9 633.1,52.8 633.4,47.8 633.6,52.2 633.9,49.0 634.1,54.9 634.4,49.7 634.6,53.5 634.9,47.9 635.1,52.8 635.4,48.2 635.6,54.1 635.9,50.9 636.1,54.6 636.4,50.8 636.6,56.8 636.9,53.1 637.1,56.2 637.4,52.4 637.6,56.6 637.9,54.0 638.1,57.0 638.4,54.1 638.6,57.5 638.9,54.6 639.0,58.2 639.1,55.7 639.4,58.9 639.6,56.2 639.9,61.8 640.1,58.8 640.4,63.1 640.6,60.9 640.9,64.2 641.1,62.5 641.4,67.8 641.6,65.2 641.9,72.1 642.1,67.9 642.4,73.3 642.6,68.0 642.7,73.8 642.9,69.8 643.1,74.6 643.4,72.8 643.6,77.1 643.9,76.0 644.1,80.5 644.4,76.7 644.6,81.9 644.9,81.7 645.1,86.1 645.4,82.6 645.6,86.7 645.9,84.0 646.1,87.7 646.4,85.7 646.6,89.2 646.9,86.4 647.1,90.0 647.2,86.5 647.4,90.7 647.6,84.4 647.9,88.3 648.1,83.9 648.4,90.3 648.6,85.4 648.9,87.4 649.1,83.5 649.4,87.0 649.6,82.5 649.9,86.0 650.1,80.1 650.4,83.8 650.6,76.1 650.9,80.6 651.1,76.5 651.4,80.9 651.6,75.1 651.9,76.6 652.1,72.9 652.4,76.4 652.6,71.9 652.7,76.3 652.9,69.8 653.1,73.6 653.4,68.4 653.6,71.5 653.9,66.4 654.1,69.6 654.4,65.0 654.6,68.4 654.9,64.4 655.1,67.9 655.4,62.6 655.6,64.9 655.9,60.1 656.1,62.9 656.4,60.8 656.6,63.6 656.9,59.6 657.1,64.8 657.4,59.6 657.6,68.1 657.9,62.8 658.1,66.3 658.4,63.3 658.6,68.6 658.9,64.3 659.1,68.0 659.4,64.9 659.6,68.8 659.9,65.3 660.1,69.5 660.2,65.9 660.4,68.4 660.6,65.7 660.9,70.5 661.1,64.0 661.4,69.6 661.6,67.5 661.9,72.1 662.1,69.0 662.4,72.1 662.6,70.7 662.9,76.6 663.1,69.4 663.4,75.7 663.6,72.5 663.9,75.9 664.1,73.3 664.4,77.3 664.6,73.8 664.9,77.1 665.1,73.7 665.2,76.5 665.4,72.3 665.6,76.9 665.9,73.8 666.1,76.5 666.4,74.6 666.6,77.3 666.9,71.4 667.1,75.3 667.4,72.7 667.6,77.1 667.9,72.5 668.1,76.3 668.4,71.0 668.6,78.2 668.9,72.9 669.1,75.4 669.4,71.8 669.6,76.1 669.9,71.2 670.1,73.9 670.1,71.6 670.4,75.1 670.6,68.4 670.9,74.5 671.1,69.1 671.4,71.9 671.6,66.9 671.9,69.9 672.1,67.7 672.4,68.5 672.6,64.9 672.9,67.5 673.1,64.5 673.4,66.7 673.6,62.2 673.9,65.5 674.1,61.8 674.4,65.2 674.6,62.2 674.9,66.0 675.1,62.5 675.1,64.6 675.4,58.5 675.6,63.0 675.8,59.1"/>
<polyline stroke="#00ff00" stroke-width="2.0" points="75.6,271.0 75.7,200.0 75.8,100.0 75.8,55.6 75.9,30.0 76.1,18.6 76.3,10.9 76.6,8.7 76.7,10.6 76.8,8.2 77.1,11.8 77.3,7.2 77.6,11.0 77.8,9.0 78.1,11.9 78.3,8.5 78.6,13.4 78.7,11.4 78.8,15.8 79.1,12.5 79.3,14.4 79.6,9.7 79.8,14.0 80.1,10.5 80.3,15.4 80.6,11.2 80.8,13.9 81.1,9.7 81.3,13.3 81.6,10.6 81.8,13.1 82.1,9.6 82.3,12.8 82.5,9.8 82.6,12.7 82.8,7.0 83.1,11.9 83.3,8.5 83.6,10.6 83.8,7.0 84.1,9.4 84.3,6.9 84.6,10.6 84.8,6.6 85.1,10.2 85.3,6.2 85.6,9.6 85.8,5.2 86.1,8.8 86.3,6.4 86.6,9.9 86.8,7.4 87.1,10.6 87.3,7.4 87.6,10.0 87.8,7.6 88.1,8.9 88.3,5.7 88.6,9.2 88.8,5.0 89.1,10.2 89.3,6.3 89.3,9.2 89.6,8.3 89.8,11.4 90.1,8.7 90.3,12.9 90.6,6.7 90.8,12.2 91.1,6.6 91.3,10.9 91.6,6.5 91.8,8.8 92.1,5.9 92.3,10.5 92.6,7.7 92.8,11.3 93.1,10.8 93.3,14.4 93.6,14.0 93.8,16.9 94.1,15.4 94.3,19.7 94.6,16.6 94.7,21.3 94.8,17.8 95.1,20.8 95.3,18.4 95.6,24.3 95.8,20.3 96.1,25.8 96.3,20.1 96.6,25.5 96.8,23.5 97.1,27.9 97.2,25.7 97.3,29.9 97.6,27.0 97.8,31.9 98.1,30.2 98.3,33.8 98.6,32.8 98.8,37.4 99.1,34.9 99.3,38.9 99.6,35.9 99.8,42.6 100.1,38.7 100.3,42.3 100.4,40.2 100.6,43.8 100.8,42.7 101.1,45.8 101.3,43.0 101.6,48.1 101.8,42.9 102.1,47.9 102.3,46.6 102.6,49.6 102.8,47.7 103.0,50.5 103.1,48.3 103.3,51.6 103.6,49.6 103.8,55.3 104.1,52.2 104.3,55.7 104.6,52.2 104.8,58.6 105.1,54.9 105.3,57.7 105.6,55.0 105.8,61.6 106.1,57.8 106.2,59.9 106.3,56.2 106.6,60.7 106.8,57.5 107.1,60.4 107.3,55.5 107.6,61.3 107.8,59.0 108.1,61.5 108.3,59.1 108.6,63.9 108.8,60.6 109.1,62.2 109.2,59.7 109.3,62.3 109.6,61.1 109.8,63.5 110.1,62.3 110.3,67.2 110.6,66.0 110.7,68.1 110.8,67.8 111.1,72.1"/>
<polyline stroke="#00ff00" stroke-width="1.2" points="111.1,72.1 111.3,73.3 111.6,78.2 111.8,84.6 112.1,95.1 112.2,100.0 112.3,107.3 112.6,126.0 112.7,139.0 112.8,228.5 112.9,245.0 113.1,253.7 113.3,261.2 113.6,265.7 113.8,268.9 114.1,270.4 114.3,274.8 114.4,274.6 114.6,277.8 114.8,281.0 115.1,284.9 115.3,286.9"/>
<polyline stroke="#00ff00" stroke-width="2.0" points="115.3,286.9 115.6,289.9 115.8,288.8 116.1,292.6 116.3,289.5 116.6,292.5 116.8,289.7 117.1,291.3 117.3,287.9 117.6,289.8 117.8,287.8 118.1,290.8 118.3,286.0 118.6,288.5 118.8,286.2 119.1,287.4 119.3,284.7 119.6,285.9 119.8,282.2 120.1,286.1 120.3,281.5 120.6,284.6 120.8,280.0 121.1,283.3 121.3,281.0 121.6,281.8 121.8,276.4 122.1,278.0 122.3,274.1 122.6,274.3 122.8,269.2 123.1,270.4 123.3,266.7 123.6,267.9 123.8,261.4 124.1,263.5 124.3,259.0 124.6,259.5 124.8,255.4 124.8,258.9 125.1,254.0 125.3,255.3 125.6,251.4 125.8,251.8 126.1,249.0 126.3,250.6 126.6,247.2 126.8,249.9 127.1,244.6 127.3,244.9 127.6,241.2 127.8,242.3 128.1,236.9 128.3,239.6 128.6,236.2 128.8,238.5 129.1,234.9 129.3,236.8 129.6,232.6 129.8,234.4 129.8,231.4 130.1,233.3 130.3,229.2 130.6,230.7 130.8,225.7 131.1,229.0 131.3,223.2 131.6,225.8 131.8,222.7 132.1,225.4 132.3,222.1 132.6,224.1 132.8,220.1 133.1,224.8 133.3,220.8 133.6,222.3 133.8,219.2 134.1,221.6 134.3,218.7 134.6,221.3 134.8,216.6 135.1,220.6 135.3,217.6 135.6,220.8 135.8,217.3 136.1,218.9 136.3,216.3 136.6,220.0 136.8,217.8 137.1,222.5 137.3,218.8 137.6,222.2 137.8,219.1 138.1,222.3 138.3,221.1 138.6,222.8 138.8,219.7 139.1,224.6 139.3,222.8 139.6,225.0 139.8,222.3 140.1,227.2 140.3,224.9 140.6,228.5 140.8,225.6 141.0,230.0 141.1,227.5 141.3,231.7 141.6,227.6 141.8,231.1 142.1,229.7 142.3,233.1 142.6,232.4 142.8,235.1 143.1,235.5 143.3,238.3 143.6,237.0 143.8,240.9 144.1,237.7 144.3,240.5 144.6,237.5 144.8,239.6 144.8,237.0 145.1,242.8 145.3,238.6 145.6,241.1 145.8,238.4 146.1,243.4 146.3,242.2 146.6,245.4 146.8,242.9 147.1,248.5 147.3,245.2 147.6,248.4 147.8,244.4 148.1,249.7 148.3,244.6 148.5,249.0 148.6,246.8 148.8,248.6 149.1,246.4 149.3,249.0 149.6,245.7 149.8,248.5 150.1,244.6 150.3,246.0 150.6,242.0 150.8,244.2 151.1,241.0 151.3,242.8 151.6,240.4 151.8,242.5 152.1,237.6 152.3,241.0 152.6,235.1 152.8,237.2 153.1,234.1 153.3,237.7 153.5,235.5 153.6,237.9 153.8,236.1 154.1,239.1 154.3,237.6 154.6,241.5 154.8,238.5 155.1,242.5 155.3,239.6 155.6,243.1 155.8,240.2 156.1,245.4 156.3,242.5 156.6,245.6 156.8,243.4 157.1,246.3 157.3,244.8 157.6,247.3 157.8,244.8 158.1,248.4 158.3,246.7 158.5,249.9 158.6,246.6 158.8,251.2 159.1,247.9 159.3,251.6 159.6,249.4 159.8,254.3 160.1,250.7 160.3,255.4 160.6,252.1 160.8,254.7 161.1,253.1 161.3,255.8 161.6,253.6 161.8,256.8 162.1,254.4 162.3,257.2 162.6,255.7 162.8,257.8 163.1,255.8 163.3,257.6 163.6,254.4 163.8,257.6 164.1,255.0 164.3,258.6 164.5,256.0 164.6,258.9 164.8,255.0 165.1,258.4 165.3,255.4 165.6,259.4 165.8,255.3 166.1,258.8 166.3,255.0 166.6,257.9 166.8,254.5 167.1,258.3 167.3,255.4 167.6,257.5 167.8,253.0 168.1,256.2 168.3,253.9 168.5,255.0 168.6,250.1 168.8,256.0 169.1,252.4 169.3,254.8 169.6,251.7 169.8,255.0 170.1,251.7 170.3,254.7 170.6,249.0 170.8,252.0 171.1,249.0 171.3,251.5 171.6,247.3 171.8,251.8 172.1,245.4 172.2,248.8 172.3,246.9 172.6,248.1 172.8,244.1 173.1,247.0 173.3,243.5 173.6,245.4 173.8,240.1 174.1,245.1 174.3,239.6 174.6,243.5 174.8,236.8 175.1,240.3 175.3,235.5 175.6,238.7 175.8,236.3 176.1,238.2 176.3,234.9 176.6,238.8 176.8,236.2 177.1,238.2 177.3,233.0 177.6,238.5 177.8,234.6 178.1,235.4 178.3,232.1 178.4,234.1 178.6,231.5 178.8,233.0 179.1,228.7 179.3,233.0 179.6,227.3 179.8,230.0 180.1,227.5 180.3,229.0 180.6,225.5 180.8,227.2 180.9,224.4 181.1,225.1 181.3,221.9 181.6,223.3 181.8,218.0 182.1,218.5 182.3,214.7"/>
<polyline stroke="#00ff00" stroke-width="1.2" points="182.3,214.7 182.6,213.5 182.8,209.5 183.1,206.3 183.3,201.9 183.4,201.1 183.6,195.1 183.8,180.2 183.9,176.0 184.1,123.3 184.2,100.0 184.3,82.4 184.6,59.2 184.8,44.5 185.0,40.0 185.1,38.5 185.3,33.9 185.6,31.3 185.8,27.6"/>
<polyline stroke="#00ff00" stroke-width="2.0" points="185.8,27.6 186.1,26.3 186.3,23.5 186.6,23.7 186.8,21.9 187.0,26.2 187.1,19.5 187.3,23.9 187.6,21.2 187.8,25.0 188.1,20.5 188.3,23.7 188.6,20.2 188.8,22.9 189.1,20.8 189.3,24.9 189.6,21.6 189.8,26.9 190.0,23.8 190.1,27.2 190.3,22.8 190.6,26.5 190.8,24.4 191.1,27.7 191.3,24.8 191.6,30.5 191.8,25.8 192.1,30.4 192.3,25.7 192.6,29.8 192.8,25.9 193.1,29.7 193.3,27.0 193.6,29.7 193.8,27.3 194.1,30.4 194.3,29.1 194.6,32.3 194.8,29.2 195.0,35.8 195.1,30.7 195.3,35.9 195.6,30.4 195.8,34.7 196.1,32.2 196.3,35.7 196.6,33.3 196.8,35.5 197.1,32.0 197.3,37.5 197.6,33.8 197.8,37.3 198.1,34.0 198.3,39.5 198.6,35.7 198.8,39.7 199.1,37.3 199.3,40.0 199.6,37.2 199.8,39.8 200.0,38.7 200.1,41.4 200.3,37.9 200.6,41.0 200.8,36.9 201.1,42.2 201.3,38.0 201.6,42.0 201.8,38.2 202.1,40.8 202.3,36.8 202.6,43.7 202.8,40.7 203.1,44.4 203.3,41.6 203.6,43.8 203.8,42.5 204.1,44.7 204.3,41.8 204.6,46.4 204.8,42.2 205.0,44.3 205.1,42.0 205.3,43.4 205.6,41.8 205.8,43.5 206.1,39.7 206.3,42.2 206.6,39.3 206.8,41.2 207.1,37.4 207.3,39.5 207.6,36.2 207.8,37.8 208.1,34.5 208.3,36.4 208.6,33.4 208.8,36.5 209.1,33.3 209.3,38.4 209.6,32.9 209.8,35.0 210.1,32.2 210.3,36.6 210.6,32.0 210.8,36.5 211.1,34.2 211.3,40.2 211.6,37.3 211.8,40.8 212.1,37.6 212.3,41.4 212.6,37.8 212.8,43.4 213.1,39.4 213.3,43.7 213.6,41.0 213.8,43.5 213.9,41.0 214.1,43.6 214.3,37.9 214.6,41.6 214.8,39.4 215.1,40.8 215.3,38.2 215.6,41.8 215.8,38.4 216.1,40.7 216.3,36.9 216.6,39.5 216.8,35.4 217.1,36.1 217.3,33.0 217.4,35.8 217.6,33.0 217.8,35.7 218.1,30.4 218.3,32.1 218.6,28.2 218.8,31.0 219.1,24.9 219.3,28.1 219.6,23.8 219.8,27.6 220.1,24.4 220.3,27.1 220.6,21.2 220.8,25.6 221.1,21.8 221.3,22.8 221.6,18.8 221.8,21.9 221.8,17.6 222.1,18.5 222.3,14.6 222.6,16.6 222.8,13.3 223.1,16.0 223.3,11.4 223.6,15.2 223.8,10.6 224.1,12.5 224.3,10.3 224.3,13.8 224.6,11.2 224.8,12.6 225.1,9.8 225.3,11.9 225.6,7.4 225.8,13.3 226.1,8.4 226.3,11.6 226.6,7.1 226.8,11.5 227.1,8.3 227.3,10.4 227.6,5.6 227.8,8.8 228.1,5.2 228.3,9.1 228.6,6.2 228.8,10.0 229.1,5.9 229.3,8.8 229.6,5.9 229.8,8.7 230.1,5.0 230.3,10.5 230.6,8.9 230.8,10.4 231.1,9.2 231.3,11.8 231.6,9.2 231.8,12.4 232.1,7.4 232.3,13.6 232.6,10.5 232.8,13.5 233.1,11.0 233.3,14.5 233.6,12.2 233.8,15.2 233.9,11.2 234.1,14.6 234.3,12.5 234.6,15.7 234.8,14.6 235.1,18.2 235.3,17.2 235.6,23.5 235.8,18.4 236.1,23.7 236.3,22.1 236.6,26.9 236.8,23.8 237.1,27.4 237.3,25.4 237.4,28.2 237.6,26.1 237.8,31.3 238.1,28.0 238.3,32.9 238.6,29.5 238.8,35.0 239.1,33.0 239.3,35.4 239.6,32.6 239.8,37.9 240.1,36.6 240.3,40.4 240.6,37.9 240.8,43.1 240.8,40.4 241.1,44.1 241.3,42.7 241.6,46.8 241.8,44.4 242.1,47.3 242.3,44.1 242.6,49.2 242.8,47.2 243.1,51.1 243.3,48.5 243.6,51.3 243.8,48.8 244.1,53.4 244.3,50.5 244.6,54.3 244.8,51.8 245.0,55.6 245.1,53.0 245.3,54.8 245.6,52.1 245.8,55.9 246.1,53.7 246.3,56.5 246.6,51.5 246.8,57.7 247.1,55.2 247.3,59.0 247.6,56.7 247.8,60.9 248.1,58.4 248.3,61.6 248.6,57.7 248.8,62.3 249.1,57.5 249.3,62.6 249.6,59.3 249.8,63.9 250.0,60.2 250.1,63.0 250.3,62.1 250.6,66.6 250.8,63.3 251.1,66.7 251.3,65.0 251.6,68.7 251.8,67.8 252.1,71.6 252.3,70.2 252.5,74.1 252.6,73.4 252.8,76.6 253.1,76.7"/>
<polyline stroke="#00ff00" stroke-width="1.2" points="253.1,76.7 253.3,80.9 253.6,85.5 253.7,88.0 253.8,99.3 254.1,135.8 254.2,150.0 254.3,171.8 254.6,212.8 254.8,246.7 255.0,257.4 255.1,261.0 255.3,268.5 255.6,274.4 255.8,278.2 256.1,282.4"/>
<polyline stroke="#00ff00" stroke-width="2.0" points="256.1,282.4 256.2,282.1 256.4,285.5 256.6,285.6 256.9,288.9 257.1,288.6 257.4,292.2 257.6,289.9 257.9,293.4 258.0,290.4 258.1,294.5 258.4,289.6 258.6,293.3 258.9,289.6 259.1,292.9 259.4,289.2 259.6,290.2 259.9,286.4 260.1,290.2 260.4,288.1 260.6,289.7 260.9,284.7 261.1,288.9 261.2,283.7 261.4,288.7 261.6,283.9 261.9,285.8 262.1,283.6 262.4,285.2 262.6,282.3 262.9,286.2 263.1,280.9 263.4,281.8 263.6,277.2 263.7,280.2 263.9,277.0 264.1,276.8 264.4,274.2 264.6,275.9 264.9,271.7 265.1,271.1 265.4,268.1 265.6,268.0 265.9,262.8 266.1,263.7 266.4,257.6 266.6,258.5 266.9,253.0 267.1,253.8 267.4,249.9 267.4,252.2 267.6,249.6 267.9,252.2 268.1,247.4 268.4,250.4 268.6,245.0 268.9,245.7 269.1,242.3 269.4,242.9 269.6,239.8 269.9,242.2 270.1,236.9 270.4,238.6 270.6,233.6 270.9,236.1 271.1,231.2 271.4,235.3 271.6,231.3 271.9,233.4 272.1,230.1 272.4,231.3 272.4,228.3 272.6,231.2 272.9,228.5 273.1,229.1 273.4,227.1 273.6,228.0 273.9,223.8 274.1,225.4 274.4,222.3 274.6,223.7 274.9,221.1 275.1,223.2 275.4,219.7 275.6,222.6 275.9,219.5 276.1,221.8 276.4,215.6 276.6,218.9 276.9,215.3 277.1,217.6 277.4,214.5 277.6,217.2 277.9,213.1 278.1,217.0 278.3,214.7 278.4,216.1 278.6,214.2 278.9,218.6 279.1,214.9 279.4,217.8 279.6,215.5 279.9,218.3 280.1,214.4 280.4,217.5 280.6,215.4 280.9,219.3 281.1,216.7 281.4,222.2 281.6,218.2 281.9,220.8 282.1,216.8 282.4,220.3 282.6,218.8 282.9,220.2 283.1,218.0 283.4,221.8 283.6,220.8 283.9,223.0 284.1,221.0 284.4,223.9 284.6,221.6 284.9,226.5 284.9,221.9 285.1,225.3 285.4,222.5 285.6,226.5 285.9,224.7 286.1,228.4 286.4,225.8 286.6,230.6 286.9,229.2 287.1,234.5 287.4,232.7 287.6,236.2 287.9,236.3 288.1,239.9 288.4,237.7 288.6,242.8 288.9,238.3 289.1,241.6 289.4,240.1 289.6,243.5 289.9,241.5 290.1,244.9 290.4,242.2 290.6,247.5 290.9,244.7 291.0,247.6 291.1,245.4 291.4,247.8 291.6,244.8 291.9,247.4 292.1,243.9 292.4,246.1 292.6,243.4 292.9,244.9 293.1,241.6 293.4,243.2 293.6,240.2 293.9,242.0 294.1,239.2 294.4,241.0 294.6,237.3 294.9,240.0 295.1,237.6 295.4,239.6 295.6,234.4 295.9,238.6 296.0,235.8 296.1,238.5 296.4,235.8 296.6,238.9 296.9,236.1 297.1,239.7 297.4,236.7 297.6,239.1 297.9,237.2 298.1,241.7 298.4,238.1 298.6,242.6 298.9,240.2 299.1,243.5 299.4,241.6 299.6,245.8 299.9,243.2 300.1,247.5 300.4,243.1 300.6,248.3 300.9,246.4 301.1,248.9 301.4,248.0 301.6,251.1 301.9,248.0 302.1,252.9 302.4,249.9 302.6,253.8 302.9,249.6 303.1,254.2 303.4,252.8 303.6,254.9 303.9,253.4 304.1,255.8 304.4,253.2 304.6,257.6 304.9,253.9 305.1,257.6 305.4,255.4 305.6,259.4 305.9,253.6 306.1,256.5 306.4,254.6 306.6,257.5 306.9,255.2 307.1,257.2 307.4,254.0 307.6,256.2 307.9,251.6 308.1,256.6 308.4,254.7 308.6,257.9 308.9,256.1 309.1,258.4 309.4,254.5 309.6,257.4 309.9,254.7 310.1,255.5 310.4,252.9 310.6,256.4 310.9,252.2 311.0,256.5 311.1,253.7 311.4,254.9 311.6,252.1 311.9,255.8 312.1,251.1 312.4,252.7 312.6,249.2 312.9,252.8 313.1,247.8 313.4,248.2 313.6,245.9 313.9,250.8 314.1,246.3 314.4,247.5 314.6,244.5 314.9,246.2 315.1,241.1 315.4,245.9 315.6,240.8 315.9,242.0 316.0,240.1 316.1,243.2 316.4,239.3 316.6,241.2 316.9,236.7 317.1,239.9 317.4,237.0 317.6,240.6 317.9,236.8 318.1,237.8 318.4,235.2 318.6,237.7 318.9,234.3 319.1,235.5 319.4,232.0 319.6,234.5 319.9,230.1 320.1,232.6 320.4,227.6 320.6,231.3 320.9,229.1 321.0,231.9 321.1,229.0 321.4,231.1 321.6,229.4 321.9,233.1 322.1,228.2 322.4,230.5 322.6,225.9 322.9,229.8 323.1,227.3 323.4,229.0 323.6,226.7 323.9,227.8 324.1,226.0 324.3,228.1 324.4,225.9 324.6,224.9"/>
<polyline stroke="#00ff00" stroke-width="1.2" points="324.6,224.9 324.9,219.6 325.1,212.9 325.4,205.0 325.5,200.0 325.6,196.3 325.9,184.5 326.1,169.4 326.4,151.7 326.5,140.0 326.6,130.1 326.9,95.7 327.1,65.8 327.2,60.0 327.4,55.4 327.6,48.4 327.9,42.4 328.1,37.0 328.4,32.7 328.6,28.2 328.9,26.2"/>
<polyline stroke="#00ff00" stroke-width="2.0" points="328.9,26.2 329.1,19.8 329.4,22.4 329.6,19.3 329.7,22.7 329.9,19.4 330.1,22.8 330.4,20.2 330.6,24.0 330.9,19.9 331.1,24.8 331.4,19.0 331.6,22.3 331.9,19.5 332.1,24.0 332.4,19.4 332.6,23.9 332.9,22.0 333.1,26.7 333.4,23.1 333.6,25.0 333.7,23.1 333.9,26.8 334.1,24.9 334.4,26.9 334.6,25.1 334.9,27.6 335.1,26.0 335.4,28.4 335.6,26.4 335.9,29.3 336.1,28.0 336.4,31.2 336.6,28.5 336.9,31.3 337.1,29.2 337.4,34.3 337.5,31.1 337.6,33.9 337.9,32.1 338.1,36.4 338.4,32.1 338.6,37.2 338.9,33.9 339.1,37.8 339.4,34.8 339.6,37.4 339.9,34.4 340.1,39.0 340.4,36.8 340.6,38.7 340.9,37.0 341.1,40.4 341.4,37.8 341.6,39.8 341.9,37.3 342.1,40.8 342.4,37.2 342.5,41.0 342.6,36.9 342.9,42.0 343.1,36.1 343.4,39.7 343.6,38.0 343.9,40.7 344.1,39.2 344.4,42.3 344.6,38.2 344.9,41.7 345.1,37.4 345.4,42.3 345.6,39.7 345.9,42.4 346.1,38.6 346.4,42.4 346.6,37.7 346.8,43.4 346.9,38.9 347.1,41.7 347.4,39.2 347.6,41.1 347.9,38.2 348.1,40.2 348.4,36.6 348.6,39.9 348.9,38.6 349.1,41.1 349.4,37.4 349.6,40.2 349.9,35.8 350.1,38.6 350.4,35.2 350.6,38.1 350.9,35.0 351.1,37.7 351.4,32.5 351.6,37.7 351.9,32.4 352.1,35.6 352.4,33.5 352.6,37.7 352.9,31.7 353.0,36.7 353.1,33.0 353.4,36.6 353.6,34.0 353.9,36.3 354.1,34.0 354.4,37.9 354.6,35.3 354.9,39.1 355.1,37.0 355.4,41.5 355.6,39.5 355.9,42.6 356.1,38.3 356.4,42.4 356.6,39.3 356.9,43.2 357.1,39.1 357.4,42.6 357.6,38.5 357.9,42.8 358.0,39.9 358.1,44.6 358.4,39.5 358.6,41.8 358.9,38.3 359.1,40.8 359.4,36.4 359.6,37.2 359.9,33.3 360.1,35.7 360.4,30.7 360.6,32.0 360.9,27.2 361.1,29.7 361.4,24.1 361.6,27.7 361.9,23.0 362.1,26.3 362.4,21.0 362.4,24.6 362.6,21.0 362.9,24.4 363.1,19.1 363.4,21.0 363.6,19.0 363.9,22.3 364.1,15.7 364.4,18.0 364.6,15.0 364.9,18.8 365.1,11.7 365.4,16.0 365.6,13.3 365.9,14.2 366.1,10.9 366.4,12.3 366.6,9.7 366.9,12.2 367.1,8.1 367.4,11.6 367.6,8.2 367.9,11.5 368.1,8.6 368.4,11.6 368.6,7.8 368.9,10.5 369.1,6.5 369.4,11.5 369.6,8.3 369.9,11.4 370.1,7.8 370.4,9.7 370.5,7.3 370.6,10.3 370.9,6.2 371.1,9.2 371.4,7.1 371.6,9.4 371.9,5.5 372.1,11.7 372.4,6.9 372.6,11.2 372.9,9.7 373.1,12.0 373.4,7.2 373.6,10.8 373.9,7.9 374.0,9.8 374.1,5.7 374.4,9.4 374.6,5.5 374.9,9.5 375.1,8.4 375.4,12.4 375.6,10.2 375.9,13.4 376.1,11.1 376.4,14.6 376.6,13.7 376.9,17.1 377.1,15.1 377.4,19.9 377.4,15.2 377.6,18.1 377.9,16.1 378.1,19.7 378.4,17.2 378.6,22.4 378.9,21.3 379.1,24.1 379.4,21.6 379.6,27.0 379.9,24.2 380.1,27.6 380.4,25.9 380.6,29.5 380.9,27.0 381.1,31.2 381.4,28.9 381.6,34.3 381.9,28.4 382.1,34.4 382.4,31.1 382.6,36.0 382.9,33.4 383.1,40.1 383.4,37.1 383.6,41.7 383.9,39.8 384.1,44.1 384.4,41.4 384.4,44.7 384.6,42.2 384.9,45.7 385.1,43.9 385.4,48.8 385.6,46.0 385.9,50.2 386.1,48.3 386.4,52.4 386.6,49.7 386.9,53.8 387.1,53.4 387.4,56.6 387.6,54.7 387.9,60.2 388.1,56.8 388.4,59.7 388.6,57.6 388.9,59.8 389.1,57.5 389.4,59.4 389.5,57.6 389.6,60.7 389.9,58.9 390.1,62.9 390.4,59.6 390.6,64.4 390.9,60.2 391.1,64.1 391.4,60.4 391.6,63.1 391.9,60.2 392.1,62.0 392.4,61.1 392.6,63.5 392.9,60.9 393.1,63.7 393.3,61.0 393.4,62.8 393.6,60.6 393.9,64.1 394.1,63.1 394.4,68.0 394.6,65.5 394.9,70.2 395.0,68.2 395.1,73.0 395.4,72.2"/>
<polyline stroke="#00ff00" stroke-width="1.2" points="395.4,72.2 395.6,76.0 395.9,78.9 396.1,83.9 396.3,87.9 396.4,89.2 396.6,97.6 396.9,109.4 397.1,123.8 397.4,139.9 397.5,150.0 397.6,157.9 397.9,185.2 398.1,217.2 398.4,246.7 398.6,266.4 398.7,270.0 398.9,273.0 399.1,277.3 399.4,281.5 399.6,283.8 399.9,287.6"/>
<polyline stroke="#00ff00" stroke-width="2.0" points="399.9,287.6 400.1,288.0 400.4,291.7 400.6,291.1 400.7,292.5 400.9,290.2 401.1,293.7 401.4,289.1 401.6,291.7 401.9,287.8 402.1,292.0 402.4,286.8 402.6,289.1 402.9,285.6 403.1,287.9 403.4,285.0 403.6,286.3 403.7,284.7 403.9,287.4 404.1,283.4 404.4,285.1 404.6,281.5 404.9,284.1 405.1,281.1 405.4,282.4 405.6,279.4 405.9,281.6 406.1,279.1 406.4,280.9 406.6,276.7 406.9,278.0 407.1,273.2 407.4,275.3 407.4,272.3 407.6,274.7 407.9,269.9 408.1,273.2 408.4,268.9 408.6,272.0 408.9,267.4 409.1,268.3 409.4,264.8 409.6,266.7 409.9,261.6 410.1,263.9 410.4,258.1 410.6,258.8 410.9,255.1 411.1,256.2 411.2,252.9 411.4,254.4 411.6,251.5 411.9,252.6 412.1,249.0 412.4,250.5 412.6,247.6 412.9,250.0 413.1,245.0 413.4,247.1 413.6,242.7 413.9,244.4 414.1,240.1 414.4,241.1 414.6,237.5 414.9,238.9 415.1,235.3 415.4,236.1 415.6,231.9 415.9,235.1 416.1,229.2 416.4,233.4 416.6,229.1 416.9,230.9 417.1,225.0 417.4,228.0 417.6,222.8 417.9,225.1 418.1,221.3 418.4,223.6 418.6,218.6 418.9,218.9 419.1,214.3 419.4,217.7 419.6,214.8 419.9,217.0 420.1,213.7 420.4,216.5 420.6,213.6 420.9,217.2 421.0,213.5 421.1,216.8 421.4,211.3 421.6,215.5 421.9,211.9 422.1,217.1 422.4,214.2 422.6,216.6 422.9,211.7 423.1,217.6 423.4,215.6 423.6,218.2 423.9,215.7 424.1,219.5 424.4,217.8 424.6,220.2 424.9,218.7 425.1,221.2 425.4,220.1 425.6,223.4 425.9,220.4 426.1,224.4 426.4,224.0 426.6,229.0 426.9,224.3 427.1,228.5 427.4,226.5 427.4,228.7 427.6,224.7 427.9,228.8 428.1,227.1 428.4,230.7 428.6,228.6 428.9,232.0 429.1,230.3 429.4,233.1 429.6,230.6 429.9,234.0 430.1,232.2 430.4,236.6 430.6,234.3 430.9,239.8 431.1,236.7 431.4,240.3 431.6,237.7 431.9,240.5 432.1,238.8 432.4,241.6 432.6,239.8 432.9,243.5 433.1,241.3 433.4,247.3 433.6,242.1 433.9,247.8 434.1,245.5 434.4,247.2 434.6,246.4 434.8,248.9 434.9,246.8 435.1,248.5 435.4,244.6 435.6,248.8 435.9,245.9 436.1,246.9 436.4,243.1 436.6,245.4 436.9,241.2 437.1,242.5 437.4,239.6 437.6,242.0 437.9,235.8 438.1,239.0 438.4,236.8 438.6,241.0 438.9,236.9 439.1,238.6 439.3,236.8 439.4,239.2 439.6,236.9 439.9,240.8 440.1,236.2 440.4,238.8 440.6,236.6 440.9,239.7 441.1,238.0 441.4,242.1 441.6,240.0 441.9,245.3 442.1,241.5 442.4,244.9 442.6,243.4 442.9,246.1 443.1,243.3 443.4,248.8 443.6,245.0 443.9,249.5 444.1,246.7 444.4,249.5 444.6,246.5 444.9,250.3 445.1,246.2 445.4,251.9 445.6,249.3 445.9,252.7 446.1,250.6 446.4,254.3 446.6,252.4 446.9,256.4 447.1,255.1 447.4,258.0 447.6,254.1 447.9,257.8 448.1,254.7 448.4,259.7 448.5,255.1 448.6,258.9 448.9,256.8 449.1,259.7 449.4,257.2 449.6,259.9 449.9,258.2 450.1,259.6 450.4,256.2 450.6,257.9 450.9,254.1 451.1,258.7 451.4,255.5 451.6,258.0 451.9,255.1 452.1,258.4 452.4,254.7 452.6,258.2 452.9,255.7 453.1,256.5 453.4,254.9 453.5,256.9 453.6,254.5 453.9,258.5 454.1,255.5 454.4,260.4 454.6,255.1 454.9,257.0 455.1,253.2 455.4,254.7 455.6,250.5 455.9,254.5 456.1,250.6 456.4,253.2 456.6,250.2 456.9,251.8 457.1,249.1 457.4,251.9 457.6,246.0 457.9,249.9 458.1,247.3 458.4,248.4 458.5,244.8 458.6,249.1 458.9,244.3 459.1,246.4 459.4,240.8 459.6,243.1 459.9,238.7 460.1,243.4 460.4,239.0 460.6,242.7 460.9,239.0 461.1,242.4 461.4,237.5 461.6,239.5 461.9,237.1 462.1,240.0 462.4,235.8 462.6,238.6 462.9,236.3 463.1,237.9 463.4,234.2 463.5,236.8 463.6,234.0 463.9,236.4 464.1,232.8 464.4,235.4 464.6,231.6 464.9,233.8 465.1,230.0 465.4,232.8 465.6,229.5 465.9,231.2 466.1,226.8 466.4,230.4 466.6,227.4 466.7,230.2 466.9,226.7"/>
<polyline stroke="#00ff00" stroke-width="1.2" points="466.9,226.7 467.1,221.4 467.4,212.9 467.6,203.6 467.7,200.0 467.9,194.7 468.1,185.3 468.4,174.9 468.6,163.0 468.9,149.3 469.0,140.0 469.1,131.9 469.4,102.6 469.6,73.2 469.8,60.0 469.9,58.6 470.1,52.1 470.4,46.3 470.6,40.9 470.9,36.5 471.1,32.1 471.4,29.1 471.6,25.5"/>
<polyline stroke="#00ff00" stroke-width="2.0" points="471.6,25.5 471.9,25.1 472.1,21.0 472.4,21.5 472.6,17.8 472.8,20.4 472.9,18.5 473.1,21.4 473.4,18.7 473.6,22.3 473.9,19.5 474.1,23.9 474.4,19.7 474.6,22.8 474.9,19.3 475.1,22.8 475.4,19.8 475.6,23.5 475.9,20.1 476.1,23.8 476.4,21.6 476.6,25.5 476.9,19.6 477.1,26.2 477.4,24.6 477.5,27.7 477.6,24.3 477.9,28.3 478.1,25.2 478.4,29.0 478.6,25.4 478.9,29.0 479.1,27.2 479.4,31.8 479.6,28.7 479.9,31.7 480.1,29.2 480.4,32.6 480.6,30.3 480.9,33.3 481.1,29.2 481.4,33.0 481.6,31.1 481.9,33.2 482.1,31.3 482.4,36.2 482.5,32.2 482.6,36.6 482.9,33.6 483.1,36.4 483.4,34.3 483.6,37.4 483.9,35.5 484.1,38.6 484.4,35.4 484.6,38.8 484.9,36.0 485.1,38.0 485.4,34.2 485.6,39.5 485.9,37.1 486.1,40.2 486.4,38.0 486.6,40.4 486.9,37.6 487.1,40.9 487.4,38.3 487.4,39.4 487.6,36.8 487.9,39.3 488.1,36.9 488.4,38.9 488.6,36.5 488.9,40.1 489.1,39.2 489.4,41.6 489.6,37.9 489.9,42.5 490.1,40.1 490.4,42.9 490.5,38.0 490.6,41.8 490.9,36.4 491.1,40.1 491.4,36.3 491.6,39.0 491.9,35.9 492.1,39.7 492.4,35.8 492.6,38.9 492.9,37.0 493.1,38.3 493.4,34.6 493.6,35.8 493.9,32.5 494.1,36.6 494.4,32.0 494.6,35.2 494.9,30.8 494.9,35.0 495.1,32.2 495.4,35.3 495.6,32.5 495.9,35.9 496.1,32.6 496.4,36.6 496.6,33.4 496.9,37.2 497.1,34.8 497.4,38.4 497.6,35.8 497.9,39.0 498.1,37.5 498.4,41.4 498.6,38.6 498.9,41.7 499.1,38.4 499.4,41.0 499.6,37.7 499.9,42.4 500.1,38.1 500.4,43.8 500.5,41.1 500.6,44.5 500.9,41.2 501.1,44.2 501.4,41.1 501.6,43.0 501.9,37.8 502.1,42.3 502.4,38.8 502.6,40.3 502.9,36.1 503.1,36.9 503.4,31.3 503.6,35.7 503.9,30.6 504.1,33.1 504.4,28.9 504.6,31.6 504.9,27.0 505.1,28.1 505.4,24.1 505.5,26.7 505.6,19.6 505.9,24.5 506.1,19.6 506.4,22.1 506.6,19.5 506.9,22.7 507.1,16.6 507.4,20.2 507.6,15.0 507.9,19.3 508.1,13.8 508.4,16.3 508.6,11.5 508.9,14.9 509.1,12.1 509.3,16.0 509.4,9.5 509.6,12.2 509.9,9.1 510.1,12.2 510.4,8.1 510.6,11.0 510.9,7.0 511.1,10.9 511.4,6.4 511.6,8.3 511.9,5.8 512.1,7.8 512.4,3.5 512.6,8.2 512.9,5.1 513.1,8.7 513.4,5.1 513.6,6.8 513.9,4.0 514.1,6.9 514.4,2.2 514.6,5.6 514.9,4.6 515.1,6.6 515.2,3.3 515.4,7.1 515.6,2.3 515.9,8.8 516.1,2.2 516.4,7.1 516.6,4.9 516.9,7.9 517.1,3.3 517.4,9.8 517.6,6.0 517.9,9.6 518.1,6.5 518.4,10.9 518.6,9.4 518.9,12.4 519.1,10.1 519.4,12.8 519.6,10.0 519.9,15.1 519.9,10.1 520.1,15.7 520.4,13.5 520.6,17.9 520.9,17.0 521.1,21.6 521.4,18.4 521.6,22.3 521.9,21.1 522.1,25.4 522.4,21.5 522.6,28.7 522.9,24.5 523.1,29.3 523.4,26.7 523.6,30.2 523.9,28.9 524.1,32.6 524.4,31.3 524.6,34.2 524.9,32.1 525.1,36.3 525.4,34.0 525.6,37.9 525.9,34.5 526.1,38.4 526.4,37.5 526.6,40.9 526.7,38.5 526.9,41.5 527.1,41.0 527.4,45.5 527.6,43.1 527.9,45.9 528.1,43.4 528.4,47.4 528.6,45.5 528.9,48.5 529.1,47.4 529.4,51.4 529.5,49.3 529.6,51.6 529.9,50.7 530.1,54.4 530.4,52.3 530.6,57.1 530.9,53.8 531.1,57.1 531.4,55.8 531.6,61.5 531.9,57.5 532.1,60.6 532.4,59.4 532.6,62.1 532.9,59.6 533.1,63.5 533.4,60.0 533.6,63.1 533.9,60.7 534.1,63.2 534.4,61.7 534.6,64.8 534.9,61.2 535.1,63.1 535.4,60.4 535.6,63.2 535.9,60.8 535.9,63.5 536.1,59.4 536.4,66.4 536.6,63.2 536.9,67.4 537.1,65.5 537.4,69.5 537.6,66.0 537.9,71.2 538.0,69.4 538.1,73.0 538.4,70.9 538.6,75.5"/>
<polyline stroke="#00ff00" stroke-width="1.2" points="538.6,75.5 538.9,76.4 539.1,80.5 539.4,84.8 539.5,88.0 539.6,91.5 539.9,109.1 540.1,132.6 540.3,150.0 540.4,153.9 540.6,175.1 540.9,198.0 541.1,220.6 541.4,241.2 541.6,257.8 541.9,268.7 541.9,270.0 542.1,274.4 542.4,279.9 542.6,284.0 542.9,288.2 543.1,290.4"/>
<polyline stroke="#00ff00" stroke-width="2.0" points="543.1,290.4 543.4,293.2 543.6,290.4 543.7,294.5 543.9,291.6 544.1,294.3 544.4,290.7 544.6,293.6 544.9,290.6 545.1,293.8 545.4,290.2 545.6,292.6 545.9,288.4 546.1,290.9 546.4,287.0 546.6,289.8 546.9,286.1 547.1,287.8 547.4,284.4 547.4,289.0 547.6,284.9 547.9,286.4 548.1,282.3 548.4,286.3 548.6,280.0 548.9,281.0 549.1,277.4 549.4,278.8 549.6,275.3 549.9,276.1 550.1,271.9 550.4,274.8 550.6,270.8 550.9,271.9 551.1,269.3 551.4,268.9 551.6,265.7 551.9,266.8 552.1,262.3 552.4,264.8 552.6,258.0 552.9,259.5 553.1,257.1 553.4,257.3 553.6,253.2 553.9,253.6 554.1,248.5 554.4,249.5 554.6,244.8 554.9,245.2 554.9,241.7 555.1,243.3 555.4,238.5 555.6,242.7 555.9,236.7 556.1,241.5 556.4,236.3 556.6,239.1 556.9,233.2 557.1,234.8 557.4,231.5 557.6,232.6 557.9,228.6 558.1,231.1 558.4,226.6 558.6,229.0 558.9,225.8 559.1,226.0 559.4,222.2 559.6,226.3 559.9,221.9 560.1,224.2 560.4,222.4 560.6,223.7 560.9,219.0 561.1,222.4 561.4,218.5 561.6,220.6 561.9,216.7 562.1,218.7 562.4,215.9 562.6,218.1 562.9,215.4 563.1,218.2 563.4,215.6 563.6,216.7 563.9,213.3 564.1,215.0 564.4,211.2 564.6,214.8 564.9,210.1 564.9,216.3 565.1,211.9 565.4,213.8 565.6,211.8 565.9,216.1 566.1,213.1 566.4,218.0 566.6,215.8 566.9,219.0 567.1,216.0 567.4,218.3 567.6,217.4 567.9,218.5 568.1,216.7 568.4,220.0 568.6,217.1 568.9,220.6 569.1,218.0 569.4,221.6 569.6,219.8 569.9,223.6 570.1,222.0 570.4,225.6 570.6,224.6 570.9,228.8 571.1,226.3 571.4,229.2 571.6,226.8 571.9,230.1 572.1,228.1 572.4,231.4 572.6,230.7 572.9,234.3 573.1,233.5 573.4,237.6 573.6,236.1 573.9,239.9 574.1,236.5 574.4,240.4 574.6,238.2 574.9,242.0 575.1,240.5 575.4,243.5 575.6,242.1 575.9,245.9 576.1,243.4 576.4,248.1 576.6,243.4 576.9,249.0 577.1,244.2 577.4,246.6 577.6,240.2 577.9,243.5 578.1,239.8 578.4,242.3 578.6,239.4 578.9,241.6 579.1,238.2 579.4,240.6 579.6,238.5 579.9,241.7 580.1,237.2 580.4,239.7 580.6,236.3 580.9,238.3 581.1,235.5 581.4,237.1 581.6,233.9 581.8,236.6 581.9,233.9 582.1,238.0 582.4,236.1 582.6,237.6 582.9,236.5 583.1,239.0 583.4,235.5 583.6,239.4 583.9,237.0 584.1,241.9 584.4,238.5 584.6,242.8 584.9,240.6 585.1,244.5 585.4,240.6 585.6,244.3 585.9,242.4 586.0,243.7 586.1,242.6 586.4,246.0 586.6,245.2 586.9,248.3 587.1,246.3 587.4,250.9 587.6,248.9 587.9,253.4 588.1,250.6 588.4,253.6 588.6,252.6 588.9,255.7 589.1,253.5 589.4,256.3 589.6,253.5 589.9,257.0 590.1,255.7 590.4,258.2 590.6,257.3 590.9,260.6 591.0,258.1 591.1,260.7 591.4,257.4 591.6,259.9 591.9,256.9 592.1,258.7 592.4,257.1 592.6,259.9 592.9,256.0 593.1,260.8 593.4,256.3 593.6,259.8 593.9,257.8 594.1,260.2 594.4,256.7 594.6,262.0 594.8,257.2 594.9,261.9 595.1,257.1 595.4,260.0 595.6,257.4 595.9,259.5 596.1,255.3 596.4,257.3 596.6,253.6 596.9,256.4 597.1,253.9 597.4,256.4 597.6,253.5 597.9,255.0 598.1,253.7 598.4,255.0 598.6,250.0 598.9,252.9 599.1,250.5 599.4,251.8 599.6,248.7 599.7,250.1 599.9,247.5 600.1,248.8 600.4,244.6 600.6,248.8 600.9,245.9 601.1,248.2 601.4,244.2 601.6,246.7 601.9,244.4 602.1,245.5 602.4,242.3 602.6,243.0 602.9,240.4 603.1,242.0 603.4,238.9 603.6,241.4 603.9,238.8 604.1,241.6 604.4,238.5 604.6,240.3 604.7,236.6 604.9,239.8 605.1,237.1 605.4,237.0 605.6,235.2 605.9,236.1 606.1,233.4 606.4,237.7 606.6,233.7 606.9,237.7 607.1,233.3 607.4,236.7 607.6,232.6 607.9,234.3 608.1,231.3 608.4,232.0 608.6,230.4 608.9,232.3 609.1,227.0 609.2,228.9 609.4,225.9 609.6,226.4 609.9,223.3"/>
<polyline stroke="#00ff00" stroke-width="1.2" points="609.9,223.3 610.1,220.5 610.4,215.8 610.6,210.7 610.9,204.3 611.0,200.0 611.1,195.8 611.4,176.6 611.6,150.7 611.7,140.0 611.9,119.5 612.1,78.7 612.3,60.0 612.4,58.6 612.6,51.7 612.9,45.7 613.1,40.3 613.4,36.1 613.6,31.7 613.9,29.0 614.1,24.5"/>
<polyline stroke="#00ff00" stroke-width="2.0" points="614.1,24.5 614.4,25.4 614.6,18.9 614.9,21.4 615.1,18.7 615.3,22.7 615.4,20.0 615.6,25.1 615.9,19.9 616.1,24.2 616.4,20.6 616.6,24.1 616.9,20.4 617.1,21.7 617.4,19.7 617.6,22.4 617.9,20.4 618.1,23.3 618.4,20.7 618.6,24.4 618.9,22.2 619.1,26.8 619.4,22.0 619.6,25.7 619.9,22.2 620.0,26.0 620.1,24.4 620.4,28.4 620.6,21.7 620.9,27.7 621.1,26.3 621.4,29.7 621.6,27.6 621.9,29.6 622.1,26.9 622.4,31.5 622.6,28.9 622.9,32.0 623.1,28.0 623.4,32.9 623.6,30.4 623.9,33.9 624.1,31.1 624.4,35.0 624.6,33.3 624.9,36.2 625.0,32.4 625.1,36.2 625.4,33.1 625.6,35.8 625.9,33.2 626.1,36.6 626.4,34.1 626.6,37.9 626.9,34.0 627.1,41.0 627.4,37.3 627.6,38.5 627.9,36.8 628.1,37.7 628.4,35.9 628.6,38.1 628.9,36.1 629.1,39.1 629.4,34.2 629.6,40.5 629.9,37.4 629.9,39.5 630.1,37.1 630.4,40.4 630.6,35.9 630.9,41.0 631.1,38.1 631.4,42.2 631.6,39.9 631.9,44.4 632.1,39.8 632.4,41.7 632.6,38.3 632.9,41.5 633.0,39.3 633.1,41.6 633.4,38.9 633.6,41.9 633.9,39.6 634.1,43.3 634.4,37.5 634.6,40.3 634.9,36.3 635.1,41.0 635.4,34.8 635.6,38.8 635.9,34.6 636.1,36.3 636.4,31.9 636.6,37.4 636.9,32.9 637.1,35.8 637.4,32.6 637.4,34.8 637.6,32.1 637.9,36.2 638.1,32.6 638.4,35.5 638.6,31.9 638.9,37.1 639.1,34.0 639.4,36.8 639.6,35.8 639.9,38.9 640.1,37.1 640.4,40.0 640.6,37.1 640.9,41.1 641.1,37.8 641.4,41.5 641.6,39.9 641.9,44.8 642.1,39.7 642.4,45.9 642.6,42.8 642.9,45.8 643.0,41.6 643.1,44.7 643.4,41.1 643.6,45.4 643.9,39.3 644.1,42.2 644.4,38.7 644.6,39.7 644.9,36.1 645.1,38.6 645.4,34.7 645.6,35.3 645.9,32.6 646.1,34.6 646.4,30.4 646.6,32.7 646.9,28.8 647.1,31.0 647.4,26.3 647.6,29.1 647.9,23.4 648.0,24.3 648.1,19.9 648.4,23.5 648.6,19.9 648.9,21.8 649.1,19.2 649.4,21.0 649.6,17.9 649.9,19.3 650.1,16.0 650.4,18.0 650.6,14.7 650.9,15.9 651.1,12.2 651.4,16.5 651.6,11.4 651.8,13.3 651.9,11.1 652.1,13.9 652.4,8.7 652.6,10.4 652.9,8.7 653.1,10.8 653.4,6.8 653.6,8.7 653.9,6.2 654.1,8.0 654.4,4.3 654.6,6.7 654.9,2.5 655.1,7.0 655.4,4.0 655.6,7.4 655.9,3.5 656.1,5.5 656.4,3.8 656.6,6.3 656.9,2.6 657.1,5.9 657.4,1.2 657.4,5.4 657.6,2.4 657.9,6.1 658.1,3.6 658.4,6.0 658.6,3.0 658.9,7.3 659.1,5.2 659.4,8.1 659.6,6.2 659.9,10.7 660.1,7.0 660.4,12.4 660.6,9.0 660.9,12.0 661.1,9.8 661.4,13.0 661.6,12.1 661.9,14.2 662.1,13.0 662.2,16.6 662.4,12.2 662.6,17.6 662.9,15.6 663.1,20.7 663.4,17.4 663.6,20.6 663.9,19.9 664.1,25.1 664.4,22.0 664.6,26.6 664.9,24.0 665.1,27.4 665.4,24.7 665.6,28.9 665.9,27.6 666.0,32.5 666.1,27.7 666.4,32.4 666.6,30.0 666.9,33.8 667.1,31.0 667.4,35.0 667.6,32.4 667.9,35.5 668.1,34.1 668.4,39.9 668.6,35.2 668.9,39.9 669.1,39.6 669.2,43.1 669.4,41.1 669.6,45.1 669.9,43.3 670.1,47.1 670.4,45.5 670.6,49.3 670.9,48.4 671.1,53.0 671.4,50.0 671.6,54.8 671.9,50.8 672.0,56.0 672.1,51.2 672.4,54.7 672.6,52.2 672.9,55.2 673.1,53.4 673.4,56.9 673.6,54.5 673.9,59.8 674.1,56.6 674.4,61.0 674.6,57.7 674.9,64.0 675.1,60.6 675.4,62.5 675.6,61.2 675.8,65.5"/>
</g>
<rect x="536.2" y="5.6" width="133.79999999999995" height="102.80000000000001" fill="#fff" stroke="#333" stroke-width="1.3"/>
<line x1="538.2" y1="19.6" x2="558.8" y2="19.6" stroke="#ff0000" stroke-width="1.8"/>
<text x="560.1" y="26.9" font-size="20.15" font-family="'Liberation Sans', Arial, Helvetica, sans-serif" fill="#000" stroke="#000" stroke-width="0.3">TSMC-SVM</text>
<line x1="538.2" y1="44.8" x2="558.8" y2="44.8" stroke="#0000ff" stroke-width="1.8"/>
<text x="560.1" y="52.1" font-size="20.15" font-family="'Liberation Sans', Arial, Helvetica, sans-serif" fill="#000" stroke="#000" stroke-width="0.3">TSMC-RBF</text>
<line x1="538.2" y1="69.8" x2="558.8" y2="69.8" stroke="#ff00ff" stroke-width="1.8"/>
<text x="560.1" y="77.1" font-size="20.15" font-family="'Liberation Sans', Arial, Helvetica, sans-serif" fill="#000" stroke="#000" stroke-width="0.3">TSMC</text>
<line x1="538.2" y1="94.9" x2="558.8" y2="94.9" stroke="#00ff00" stroke-width="1.8"/>
<text x="560.1" y="102.2" font-size="20.15" font-family="'Liberation Sans', Arial, Helvetica, sans-serif" fill="#000" stroke="#000" stroke-width="0.3">PID</text>
<text x="74.3" y="320.6" font-size="20.3" text-anchor="middle" font-family="'Liberation Sans', Arial, Helvetica, sans-serif" fill="#000" stroke="#000" stroke-width="0.3">0</text>
<text x="174.5" y="320.6" font-size="20.3" text-anchor="middle" font-family="'Liberation Sans', Arial, Helvetica, sans-serif" fill="#000" stroke="#000" stroke-width="0.3">10</text>
<text x="274.7" y="320.6" font-size="20.3" text-anchor="middle" font-family="'Liberation Sans', Arial, Helvetica, sans-serif" fill="#000" stroke="#000" stroke-width="0.3">20</text>
<text x="374.9" y="320.6" font-size="20.3" text-anchor="middle" font-family="'Liberation Sans', Arial, Helvetica, sans-serif" fill="#000" stroke="#000" stroke-width="0.3">30</text>
<text x="475.1" y="320.6" font-size="20.3" text-anchor="middle" font-family="'Liberation Sans', Arial, Helvetica, sans-serif" fill="#000" stroke="#000" stroke-width="0.3">40</text>
<text x="575.3" y="320.6" font-size="20.3" text-anchor="middle" font-family="'Liberation Sans', Arial, Helvetica, sans-serif" fill="#000" stroke="#000" stroke-width="0.3">50</text>
<text x="675.5" y="320.6" font-size="20.3" text-anchor="middle" font-family="'Liberation Sans', Arial, Helvetica, sans-serif" fill="#000" stroke="#000" stroke-width="0.3">60</text>
<text x="69.0" y="70.3" font-size="20.3" text-anchor="end" font-family="'Liberation Sans', Arial, Helvetica, sans-serif" fill="#000" stroke="#000" stroke-width="0.3">0.02</text>
<text x="69.0" y="147.1" font-size="20.3" text-anchor="end" font-family="'Liberation Sans', Arial, Helvetica, sans-serif" fill="#000" stroke="#000" stroke-width="0.3">0</text>
<text x="69.0" y="223.4" font-size="20.3" text-anchor="end" font-family="'Liberation Sans', Arial, Helvetica, sans-serif" fill="#000" stroke="#000" stroke-width="0.3">-0.02</text>
<text x="69.0" y="299.9" font-size="20.3" text-anchor="end" font-family="'Liberation Sans', Arial, Helvetica, sans-serif" fill="#000" stroke="#000" stroke-width="0.3">-0.04</text>
<text x="374.5" y="347.9" font-size="22.5" text-anchor="middle" font-family="'Liberation Sans', Arial, Helvetica, sans-serif" fill="#000" stroke="#000" stroke-width="0.3">Time(s)</text>
<text transform="translate(16,148.3) rotate(-90)" font-size="22.4" text-anchor="middle" font-family="'Liberation Sans', Arial, Helvetica, sans-serif" fill="#000" stroke="#000" stroke-width="0.3">Tracking Error</text>
</svg>
</body></html>
